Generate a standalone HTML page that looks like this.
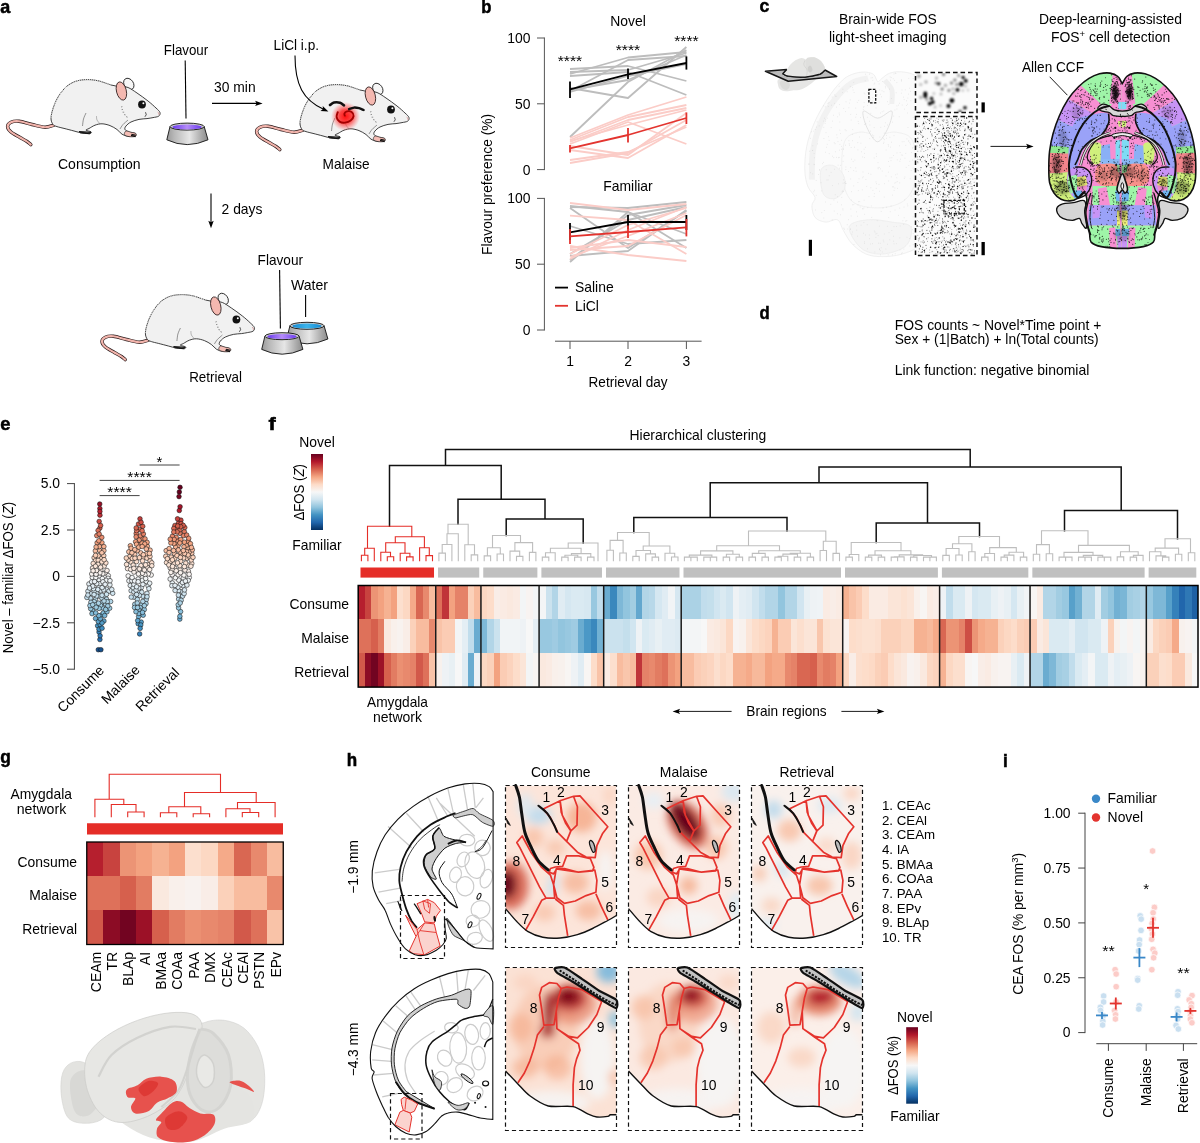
<!DOCTYPE html>
<html lang="en"><head><meta charset="utf-8"><title>Figure</title>
<style>
html,body{margin:0;padding:0;background:#fff;}
body{width:1200px;height:1143px;overflow:hidden;}
svg{display:block;}
svg text{font-family:"Liberation Sans", sans-serif;font-size:13.9px;fill:#000;}
</style></head><body>
<svg width="1200" height="1143" viewBox="0 0 1200 1143">
<rect width="1200" height="1143" fill="#fff"/>
<g id="A"><defs>
<g id="mouse">
<path d="M54.0,125.2 C52.5,125.5 48.7,127.3 45.0,127.2 C41.3,127.1 36.3,125.5 32.0,124.5 C27.7,123.5 22.5,121.7 19.0,121.3 C15.5,120.9 12.9,121.4 11.0,122.3 C9.1,123.2 7.6,124.9 7.6,126.5 C7.6,128.1 8.9,130.2 11.0,132.0 C13.1,133.8 17.3,135.9 20.0,137.5 C22.7,139.1 25.2,140.3 27.0,141.5 C28.8,142.7 30.2,144.1 30.8,144.6" stroke="#2a1a1a" stroke-width="3.4" fill="none" stroke-linecap="round"/>
<path d="M54.0,125.2 C52.5,125.5 48.7,127.3 45.0,127.2 C41.3,127.1 36.3,125.5 32.0,124.5 C27.7,123.5 22.5,121.7 19.0,121.3 C15.5,120.9 12.9,121.4 11.0,122.3 C9.1,123.2 7.6,124.9 7.6,126.5 C7.6,128.1 8.9,130.2 11.0,132.0 C13.1,133.8 17.3,135.9 20.0,137.5 C22.7,139.1 25.2,140.3 27.0,141.5 C28.8,142.7 30.2,144.1 30.8,144.6" stroke="#f2b4ac" stroke-width="2.1" fill="none" stroke-linecap="round"/>
<ellipse cx="128.8" cy="84" rx="4.6" ry="6.2" transform="rotate(-35 128.8 84)" fill="#f6f6f6" stroke="#111" stroke-width="0.8"/>
<path d="M53.0,124.5 C52.0,123.1 50.9,120.9 51.0,118.0 C51.1,115.1 52.2,110.8 53.5,107.0 C54.8,103.2 56.8,98.9 59.0,95.5 C61.2,92.1 63.7,88.9 66.5,86.5 C69.3,84.1 72.4,82.4 76.0,81.2 C79.6,80.0 84.0,79.6 88.0,79.6 C92.0,79.6 96.2,80.3 100.0,81.2 C103.8,82.1 107.7,84.1 111.0,85.0 C114.3,85.9 117.2,86.1 120.0,86.5 C122.8,86.9 125.2,86.4 128.0,87.5 C130.8,88.6 133.7,90.8 137.0,93.0 C140.3,95.2 144.8,98.5 148.0,101.0 C151.2,103.5 154.0,106.1 156.0,108.0 C158.0,109.9 159.6,111.2 160.0,112.6 C160.4,114.0 159.8,115.4 158.6,116.2 C157.4,117.0 154.9,117.2 153.0,117.6 C151.1,118.0 149.3,118.3 147.0,118.6 C144.7,118.9 141.7,118.8 139.0,119.4 C136.3,120.0 133.2,120.9 131.0,122.0 C128.8,123.1 127.0,124.8 126.0,126.0 C125.0,127.2 124.5,128.5 125.0,129.5 C125.5,130.5 127.3,131.3 129.0,132.0 C130.7,132.7 134.1,132.7 135.0,133.4 C135.9,134.1 135.7,135.5 134.5,136.0 C133.3,136.5 130.1,136.7 128.0,136.4 C125.9,136.1 123.8,135.3 122.0,134.2 C120.2,133.0 119.0,130.9 117.0,129.5 C115.0,128.1 112.5,126.5 110.0,125.6 C107.5,124.6 104.5,123.9 102.0,123.8 C99.5,123.7 97.2,124.4 95.0,125.2 C92.8,126.0 90.5,127.7 89.0,128.5 C87.5,129.3 85.7,129.6 86.0,130.2 C86.3,130.8 90.3,131.2 91.0,131.8 C91.7,132.4 91.5,133.4 90.0,133.6 C88.5,133.8 84.7,133.4 82.0,133.0 C79.3,132.6 77.0,131.8 74.0,131.0 C71.0,130.2 66.8,129.1 64.0,128.4 C61.2,127.7 58.8,127.2 57.0,126.6 C55.2,125.9 54.0,125.9 53.0,124.5Z" stroke="#111" stroke-width="0.8" fill="#f1f1f1" />
<path d="M51.0,118.0 C51.4,116.2 52.2,110.8 53.5,107.0 C54.8,103.2 56.8,98.9 59.0,95.5 C61.2,92.1 63.7,88.9 66.5,86.5 C69.3,84.1 72.4,82.4 76.0,81.2 C79.6,80.0 84.0,79.6 88.0,79.6 C92.0,79.6 96.2,80.3 100.0,81.2 C103.8,82.1 109.2,84.4 111.0,85.0" stroke="#f1f1f1" stroke-width="1.2" fill="none" stroke-dasharray="0.8 1.2"/>
<path d="M86.0,113.0 C85.6,114.0 84.1,116.8 83.5,119.0 C82.9,121.2 82.7,124.8 82.5,126.0" stroke="#333" stroke-width="0.5" fill="none" />
<path d="M128.0,120.0 C127.2,120.8 124.3,123.0 123.0,124.5 C121.7,126.0 120.5,128.2 120.0,129.0" stroke="#333" stroke-width="0.5" fill="none" />
<path d="M100.0,123.8 C99.5,123.2 97.6,121.3 97.0,120.0 C96.4,118.7 96.6,116.7 96.5,116.0" stroke="#555" stroke-width="0.4" fill="none" />
<path d="M126.0,131.0 C127.1,130.6 129.3,131.8 131.0,132.2 C132.7,132.6 135.3,132.9 136.0,133.6 C136.7,134.3 136.6,135.9 135.4,136.4 C134.2,136.9 130.8,136.9 129.0,136.6 C127.2,136.3 125.0,135.5 124.5,134.6 C124.0,133.7 124.9,131.4 126.0,131.0Z" stroke="#111" stroke-width="0.6" fill="#f4bcb4" />
<path d="M131.5,134.2 L136,135.2 M131,135.4 L135.6,136.6" stroke="#111" stroke-width="1.1" fill="none" />
<path d="M79,131.6 L91,132.4 M80,132.8 L90,133.8" stroke="#111" stroke-width="1.1" fill="none" />
<ellipse cx="121.4" cy="91" rx="4.9" ry="9.3" transform="rotate(-14 121.4 91)" fill="#f4b8b0" stroke="#2a1a1a" stroke-width="0.8"/>
<circle cx="142.00" cy="104.50" r="3.90" fill="#111" stroke="none" stroke-width="1" />
<circle cx="143.40" cy="103.30" r="1.00" fill="#fff" stroke="none" stroke-width="1" />
<path d="M145.5,112.2 q1.8,2.8 -0.6,4.6" stroke="#111" stroke-width="0.7" fill="none" />
<path d="M157.6,112.2 q1.9,0.8 1.4,2.6" stroke="#c88" stroke-width="0.8" fill="none" />
<path d="M121,107 l1.4,-0.4 M121.6,109.6 l1.4,-0.2 M122.6,112.2 l1.6,0 M124,114.6 l1.6,0.3 M126,116.6 l1.6,0.6" stroke="#333" stroke-width="0.5" fill="none" />
</g>
<g id="bowlp">
<linearGradient id="bowlpg" x1="0" x2="1" y1="0" y2="0"><stop offset="0" stop-color="#9a9a9a"/><stop offset="0.18" stop-color="#b8b8b8"/><stop offset="0.55" stop-color="#e6e6e6"/><stop offset="0.85" stop-color="#a8a8a8"/><stop offset="1" stop-color="#8a8a8a"/></linearGradient>
<linearGradient id="bowlpl" x1="0" x2="1" y1="0" y2="0"><stop offset="0" stop-color="#6a3af0"/><stop offset="0.5" stop-color="#b58cf8"/><stop offset="1" stop-color="#6a3af0"/></linearGradient>
<path d="M170,126.6 L166.8,139.8 Q187,149.4 208,139.8 L204.2,126.6 Z" stroke="#111" stroke-width="0.9" fill="url(#bowlpg)" />
<ellipse cx="187.1" cy="126.6" rx="17.1" ry="3.5" fill="#cfcfcf" stroke="#111" stroke-width="0.9"/>
<ellipse cx="187.1" cy="126.9" rx="14.6" ry="2.5" fill="url(#bowlpl)"/>
</g>
<g id="bowlb">
<linearGradient id="bowlbg" x1="0" x2="1" y1="0" y2="0"><stop offset="0" stop-color="#9a9a9a"/><stop offset="0.18" stop-color="#b8b8b8"/><stop offset="0.55" stop-color="#e6e6e6"/><stop offset="0.85" stop-color="#a8a8a8"/><stop offset="1" stop-color="#8a8a8a"/></linearGradient>
<linearGradient id="bowlbl" x1="0" x2="1" y1="0" y2="0"><stop offset="0" stop-color="#178bd4"/><stop offset="0.5" stop-color="#3cb4ea"/><stop offset="1" stop-color="#178bd4"/></linearGradient>
<path d="M170,126.6 L166.8,139.8 Q187,149.4 208,139.8 L204.2,126.6 Z" stroke="#111" stroke-width="0.9" fill="url(#bowlbg)" />
<ellipse cx="187.1" cy="126.6" rx="17.1" ry="3.5" fill="#cfcfcf" stroke="#111" stroke-width="0.9"/>
<ellipse cx="187.1" cy="126.9" rx="14.6" ry="2.5" fill="url(#bowlbl)"/>
</g>
<radialGradient id="glow"><stop offset="0" stop-color="#ff1010" stop-opacity="1"/><stop offset="0.45" stop-color="#ff2a2a" stop-opacity="0.85"/><stop offset="1" stop-color="#ff6060" stop-opacity="0"/></radialGradient>
</defs>
<text x="0.20" y="13.00" style="font-size:17.8px" font-weight="bold" stroke="#000" stroke-width="0.5" textLength="10.00" lengthAdjust="spacingAndGlyphs">a</text>
<use href="#mouse"/>
<use href="#bowlp"/>
<text x="163.80" y="54.60" textLength="44.40" lengthAdjust="spacingAndGlyphs">Flavour</text>
<line x1="185.20" y1="60.50" x2="186.00" y2="118.50" stroke="#000" stroke-width="1.1" />
<text x="58.00" y="169.00" textLength="82.60" lengthAdjust="spacingAndGlyphs">Consumption</text>
<text x="214.00" y="92.40" textLength="41.60" lengthAdjust="spacingAndGlyphs">30 min</text>
<line x1="212.00" y1="103.40" x2="258.00" y2="103.40" stroke="#000" stroke-width="1.1" />
<path d="M262.6,103.4 L255.1,100.7 L256.6,103.4 L255.1,106.1Z" fill="#000"/>
<use href="#mouse" transform="translate(249,5)"/>
<circle cx="345.50" cy="116.50" r="14.50" fill="url(#glow)" stroke="none" stroke-width="1" />
<path d="M338.0,111.5 C337.8,112.4 336.3,115.3 336.6,117.0 C336.9,118.7 338.2,120.7 339.6,121.6 C341.0,122.5 343.2,122.8 345.0,122.6 C346.8,122.4 349.2,121.7 350.6,120.6 C352.0,119.5 353.4,117.4 353.6,116.0 C353.8,114.6 352.7,112.8 351.6,112.0 C350.5,111.2 348.2,111.1 347.0,111.4 C345.8,111.7 344.7,112.8 344.4,113.6 C344.1,114.4 344.9,115.9 345.0,116.4" stroke="#a40000" stroke-width="1.9" fill="none" />
<path d="M330.0,105.0 C330.7,104.6 332.3,103.0 334.0,102.6 C335.7,102.2 338.3,102.3 340.0,102.8 C341.7,103.3 343.3,105.0 344.0,105.4" stroke="#111" stroke-width="2.6" fill="none" stroke-linecap="round"/>
<path d="M349.0,109.2 C349.8,108.9 352.3,107.8 354.0,107.6 C355.7,107.4 357.4,107.8 359.0,108.2 C360.6,108.6 362.8,109.7 363.6,110.0" stroke="#111" stroke-width="2.4" fill="none" stroke-linecap="round"/>
<text x="273.60" y="50.40" textLength="45.40" lengthAdjust="spacingAndGlyphs">LiCl i.p.</text>
<path d="M295,55.6 C295,85 303,100 324,109.6" stroke="#000" stroke-width="1.1" fill="none" />
<path d="M328.4,111.6 L322.7,106.0 L323.0,109.1 L320.5,110.9Z" fill="#000"/>
<text x="322.60" y="169.00" textLength="47.00" lengthAdjust="spacingAndGlyphs">Malaise</text>
<line x1="211.00" y1="193.60" x2="211.00" y2="223.00" stroke="#000" stroke-width="1.1" />
<path d="M211.0,228.2 L213.7,220.7 L211.0,222.2 L208.3,220.7Z" fill="#000"/>
<text x="221.60" y="214.00" textLength="40.80" lengthAdjust="spacingAndGlyphs">2 days</text>
<use href="#mouse" transform="translate(94.4,215)"/>
<use href="#bowlb" transform="translate(119.9,199.2)"/>
<use href="#bowlp" transform="translate(94.9,209.6)"/>
<text x="257.60" y="265.00" textLength="45.40" lengthAdjust="spacingAndGlyphs">Flavour</text>
<line x1="279.60" y1="270.00" x2="280.40" y2="328.50" stroke="#000" stroke-width="1.1" />
<text x="291.00" y="289.60" textLength="37.00" lengthAdjust="spacingAndGlyphs">Water</text>
<line x1="305.60" y1="295.00" x2="305.60" y2="317.00" stroke="#000" stroke-width="1.1" />
<text x="189.20" y="381.60" textLength="52.80" lengthAdjust="spacingAndGlyphs">Retrieval</text>
</g>
<g id="B"><text x="481.20" y="13.00" style="font-size:17.8px" font-weight="bold" stroke="#000" stroke-width="0.5" textLength="10.20" lengthAdjust="spacingAndGlyphs">b</text>
<text x="628.00" y="26.40" text-anchor="middle">Novel</text>
<text x="628.00" y="191.00" text-anchor="middle">Familiar</text>
<line x1="544.40" y1="37.50" x2="544.40" y2="170.10" stroke="#555" stroke-width="1" />
<line x1="537.00" y1="169.60" x2="544.40" y2="169.60" stroke="#555" stroke-width="1" />
<text x="530.50" y="174.60" text-anchor="end">0</text>
<line x1="537.00" y1="103.80" x2="544.40" y2="103.80" stroke="#555" stroke-width="1" />
<text x="530.50" y="108.80" text-anchor="end">50</text>
<line x1="537.00" y1="38.00" x2="544.40" y2="38.00" stroke="#555" stroke-width="1" />
<text x="530.50" y="43.00" text-anchor="end">100</text>
<line x1="544.40" y1="197.90" x2="544.40" y2="330.50" stroke="#555" stroke-width="1" />
<line x1="537.00" y1="330.00" x2="544.40" y2="330.00" stroke="#555" stroke-width="1" />
<text x="530.50" y="335.00" text-anchor="end">0</text>
<line x1="537.00" y1="264.20" x2="544.40" y2="264.20" stroke="#555" stroke-width="1" />
<text x="530.50" y="269.20" text-anchor="end">50</text>
<line x1="537.00" y1="198.40" x2="544.40" y2="198.40" stroke="#555" stroke-width="1" />
<text x="530.50" y="203.40" text-anchor="end">100</text>
<line x1="555.00" y1="341.20" x2="701.60" y2="341.20" stroke="#555" stroke-width="1" />
<line x1="570.00" y1="341.20" x2="570.00" y2="349.00" stroke="#555" stroke-width="1" />
<text x="570.00" y="366.00" text-anchor="middle">1</text>
<line x1="628.00" y1="341.20" x2="628.00" y2="349.00" stroke="#555" stroke-width="1" />
<text x="628.00" y="366.00" text-anchor="middle">2</text>
<line x1="686.40" y1="341.20" x2="686.40" y2="349.00" stroke="#555" stroke-width="1" />
<text x="686.40" y="366.00" text-anchor="middle">3</text>
<text x="588.60" y="387.00" textLength="79.00" lengthAdjust="spacingAndGlyphs">Retrieval day</text>
<text x="492.00" y="184.40" text-anchor="middle" transform="rotate(-90 492.00 184.40)" textLength="141.00" lengthAdjust="spacingAndGlyphs">Flavour preference (%)</text>
<path d="M570.0,69.0 L628.0,66.0 L686.4,81.0" stroke="#bdbdbd" stroke-width="1.8" fill="none" stroke-linejoin="round"/>
<path d="M570.0,72.0 L628.0,70.0 L686.4,53.0" stroke="#bdbdbd" stroke-width="1.8" fill="none" stroke-linejoin="round"/>
<path d="M570.0,74.0 L628.0,57.5 L686.4,52.0" stroke="#bdbdbd" stroke-width="1.8" fill="none" stroke-linejoin="round"/>
<path d="M570.0,76.0 L628.0,72.0 L686.4,95.0" stroke="#bdbdbd" stroke-width="1.8" fill="none" stroke-linejoin="round"/>
<path d="M570.0,88.0 L628.0,98.0 L686.4,47.0" stroke="#bdbdbd" stroke-width="1.8" fill="none" stroke-linejoin="round"/>
<path d="M570.0,137.0 L628.0,82.0 L686.4,50.0" stroke="#bdbdbd" stroke-width="1.8" fill="none" stroke-linejoin="round"/>
<path d="M570.0,90.0 L628.0,80.0 L686.4,55.0" stroke="#bdbdbd" stroke-width="1.8" fill="none" stroke-linejoin="round"/>
<path d="M570.0,91.0 L628.0,60.0 L686.4,56.0" stroke="#bdbdbd" stroke-width="1.8" fill="none" stroke-linejoin="round"/>
<path d="M570.0,92.0 L628.0,76.0 L686.4,64.0" stroke="#bdbdbd" stroke-width="1.8" fill="none" stroke-linejoin="round"/>
<path d="M570.0,138.0 L628.0,115.0 L686.4,97.0" stroke="#fbccc7" stroke-width="1.8" fill="none" stroke-linejoin="round"/>
<path d="M570.0,140.0 L628.0,117.0 L686.4,105.0" stroke="#fbccc7" stroke-width="1.8" fill="none" stroke-linejoin="round"/>
<path d="M570.0,142.0 L628.0,120.0 L686.4,108.0" stroke="#fbccc7" stroke-width="1.8" fill="none" stroke-linejoin="round"/>
<path d="M570.0,144.0 L628.0,122.0 L686.4,144.0" stroke="#fbccc7" stroke-width="1.8" fill="none" stroke-linejoin="round"/>
<path d="M570.0,146.0 L628.0,155.0 L686.4,113.0" stroke="#fbccc7" stroke-width="1.8" fill="none" stroke-linejoin="round"/>
<path d="M570.0,150.0 L628.0,158.0 L686.4,125.0" stroke="#fbccc7" stroke-width="1.8" fill="none" stroke-linejoin="round"/>
<path d="M570.0,160.0 L628.0,152.0 L686.4,127.0" stroke="#fbccc7" stroke-width="1.8" fill="none" stroke-linejoin="round"/>
<path d="M570.0,163.0 L628.0,153.0 L686.4,120.0" stroke="#fbccc7" stroke-width="1.8" fill="none" stroke-linejoin="round"/>
<path d="M570.0,141.0 L628.0,125.0 L686.4,110.0" stroke="#fbccc7" stroke-width="1.8" fill="none" stroke-linejoin="round"/>
<path d="M570.0,89.4 L628.0,74.4 L686.4,63.0" stroke="#000" stroke-width="1.8" fill="none" stroke-linejoin="round"/>
<line x1="570.00" y1="81.60" x2="570.00" y2="98.00" stroke="#000" stroke-width="1.8" />
<line x1="628.00" y1="68.40" x2="628.00" y2="79.00" stroke="#000" stroke-width="1.8" />
<line x1="686.40" y1="56.40" x2="686.40" y2="69.60" stroke="#000" stroke-width="1.8" />
<path d="M570.0,148.4 L628.0,135.0 L686.4,118.0" stroke="#e3342f" stroke-width="1.8" fill="none" stroke-linejoin="round"/>
<line x1="570.00" y1="145.00" x2="570.00" y2="152.40" stroke="#e3342f" stroke-width="1.8" />
<line x1="628.00" y1="128.00" x2="628.00" y2="142.40" stroke="#e3342f" stroke-width="1.8" />
<line x1="686.40" y1="112.40" x2="686.40" y2="124.00" stroke="#e3342f" stroke-width="1.8" />
<text x="570.00" y="66.00" text-anchor="middle" style="font-size:15px" textLength="24.50" lengthAdjust="spacingAndGlyphs">****</text>
<text x="628.00" y="55.00" text-anchor="middle" style="font-size:15px" textLength="24.50" lengthAdjust="spacingAndGlyphs">****</text>
<text x="686.40" y="45.60" text-anchor="middle" style="font-size:15px" textLength="24.50" lengthAdjust="spacingAndGlyphs">****</text>
<path d="M570.0,207.0 L628.0,208.0 L686.4,202.0" stroke="#bdbdbd" stroke-width="1.8" fill="none" stroke-linejoin="round"/>
<path d="M570.0,206.0 L628.0,212.0 L686.4,234.0" stroke="#bdbdbd" stroke-width="1.8" fill="none" stroke-linejoin="round"/>
<path d="M570.0,208.0 L628.0,248.0 L686.4,211.0" stroke="#bdbdbd" stroke-width="1.8" fill="none" stroke-linejoin="round"/>
<path d="M570.0,226.0 L628.0,244.0 L686.4,240.0" stroke="#bdbdbd" stroke-width="1.8" fill="none" stroke-linejoin="round"/>
<path d="M570.0,262.0 L628.0,212.0 L686.4,248.0" stroke="#bdbdbd" stroke-width="1.8" fill="none" stroke-linejoin="round"/>
<path d="M570.0,260.0 L628.0,215.0 L686.4,205.0" stroke="#bdbdbd" stroke-width="1.8" fill="none" stroke-linejoin="round"/>
<path d="M570.0,256.0 L628.0,251.0 L686.4,210.0" stroke="#bdbdbd" stroke-width="1.8" fill="none" stroke-linejoin="round"/>
<path d="M570.0,254.0 L628.0,220.0 L686.4,207.0" stroke="#bdbdbd" stroke-width="1.8" fill="none" stroke-linejoin="round"/>
<path d="M570.0,203.0 L628.0,210.0 L686.4,204.0" stroke="#fbccc7" stroke-width="1.8" fill="none" stroke-linejoin="round"/>
<path d="M570.0,215.6 L628.0,220.0 L686.4,254.0" stroke="#fbccc7" stroke-width="1.8" fill="none" stroke-linejoin="round"/>
<path d="M570.0,246.0 L628.0,255.0 L686.4,261.0" stroke="#fbccc7" stroke-width="1.8" fill="none" stroke-linejoin="round"/>
<path d="M570.0,259.0 L628.0,230.0 L686.4,207.0" stroke="#fbccc7" stroke-width="1.8" fill="none" stroke-linejoin="round"/>
<path d="M570.0,257.0 L628.0,236.0 L686.4,213.0" stroke="#fbccc7" stroke-width="1.8" fill="none" stroke-linejoin="round"/>
<path d="M570.0,254.0 L628.0,225.0 L686.4,208.0" stroke="#fbccc7" stroke-width="1.8" fill="none" stroke-linejoin="round"/>
<path d="M570.0,248.0 L628.0,240.0 L686.4,247.0" stroke="#fbccc7" stroke-width="1.8" fill="none" stroke-linejoin="round"/>
<path d="M570.0,250.0 L628.0,246.0 L686.4,215.0" stroke="#fbccc7" stroke-width="1.8" fill="none" stroke-linejoin="round"/>
<path d="M570.0,232.4 L628.0,222.0 L686.4,222.0" stroke="#000" stroke-width="1.8" fill="none" stroke-linejoin="round"/>
<line x1="570.00" y1="223.00" x2="570.00" y2="240.00" stroke="#000" stroke-width="1.8" />
<line x1="628.00" y1="215.00" x2="628.00" y2="229.00" stroke="#000" stroke-width="1.8" />
<line x1="686.40" y1="215.00" x2="686.40" y2="230.00" stroke="#000" stroke-width="1.8" />
<path d="M570.0,236.4 L628.0,232.0 L686.4,227.4" stroke="#e3342f" stroke-width="1.8" fill="none" stroke-linejoin="round"/>
<line x1="570.00" y1="229.00" x2="570.00" y2="244.00" stroke="#e3342f" stroke-width="1.8" />
<line x1="628.00" y1="225.60" x2="628.00" y2="238.00" stroke="#e3342f" stroke-width="1.8" />
<line x1="686.40" y1="219.00" x2="686.40" y2="236.40" stroke="#e3342f" stroke-width="1.8" />
<line x1="555.00" y1="287.60" x2="568.00" y2="287.60" stroke="#000" stroke-width="1.8" />
<text x="575.00" y="292.00">Saline</text>
<line x1="555.00" y1="305.80" x2="568.00" y2="305.80" stroke="#e3342f" stroke-width="1.8" />
<text x="575.00" y="311.00">LiCl</text>
</g>
<g id="C"><text x="759.60" y="11.90" style="font-size:17.8px" font-weight="bold" stroke="#000" stroke-width="0.5" textLength="9.80" lengthAdjust="spacingAndGlyphs">c</text>
<text x="839.00" y="23.60" textLength="97.80" lengthAdjust="spacingAndGlyphs">Brain-wide FOS</text>
<text x="829.00" y="42.00" textLength="117.60" lengthAdjust="spacingAndGlyphs">light-sheet imaging</text>
<text x="1039.00" y="23.60" textLength="143.00" lengthAdjust="spacingAndGlyphs">Deep-learning-assisted</text>
<text x="1050.90" y="42.00" textLength="119.30" lengthAdjust="spacingAndGlyphs">FOS<tspan dy="-5" style="font-size:9.5px">+</tspan><tspan dy="5"> cell detection</tspan></text>
<text x="1022.00" y="72.00" textLength="62.00" lengthAdjust="spacingAndGlyphs">Allen CCF</text>
<line x1="1049.70" y1="76.80" x2="1067.40" y2="95.20" stroke="#000" stroke-width="0.9" />
<line x1="990.50" y1="146.40" x2="1028.00" y2="146.40" stroke="#000" stroke-width="0.9" />
<path d="M1033.6,146.4 L1026.1,143.7 L1027.6,146.4 L1026.1,149.1Z" fill="#000"/>
<clipPath id="gbclip"><rect x="790" y="60" width="125.4" height="210"/></clipPath><g clip-path="url(#gbclip)"><path d="M877.6,81.5 C876.2,80.8 875.9,75.8 873.3,74.2 C870.8,72.6 866.5,71.8 862.2,72.1 C858.0,72.4 852.2,73.8 848.1,76.1 C843.9,78.3 841.1,81.4 837.4,85.5 C833.8,89.7 829.9,94.9 826.1,101.1 C822.2,107.4 817.5,115.3 814.3,122.9 C811.0,130.4 808.3,138.6 806.7,146.5 C805.1,154.4 804.6,163.4 804.8,170.1 C805.0,176.8 806.2,182.1 807.9,186.7 C809.6,191.2 814.3,194.2 815.0,197.3 C815.7,200.5 811.9,202.2 811.9,205.6 C811.9,208.9 812.7,214.6 815.0,217.4 C817.3,220.1 821.9,221.7 825.6,222.1 C829.4,222.5 834.5,218.4 837.4,219.8 C840.4,221.1 841.0,226.4 843.3,230.4 C845.7,234.3 847.9,239.4 851.6,243.4 C855.3,247.3 860.7,251.8 865.8,254.0 C870.9,256.2 876.4,256.6 882.3,256.6 C888.2,256.7 894.9,256.1 901.2,254.3 C907.5,252.4 914.6,250.3 920.1,245.7 C925.6,241.2 931.2,236.3 934.3,226.8 C937.5,217.4 938.2,207.2 939.0,189.0 C939.8,170.9 940.6,134.7 939.0,118.1 C937.5,101.6 933.5,96.9 929.6,89.8 C925.6,82.7 920.1,78.6 915.4,75.6 C910.7,72.6 905.6,72.2 901.2,71.8 C896.9,71.4 892.6,72.1 889.4,73.3 C886.2,74.4 883.8,77.1 881.9,78.4 C879.9,79.8 879.0,82.2 877.6,81.5Z" stroke="#ececec" stroke-width="0.8" fill="#fbfbfb" />
<path d="M844.5,141.8 C847.3,134.7 853.2,133.5 858.7,132.3 C864.2,131.1 871.3,134.7 877.6,134.7 C883.9,134.7 890.6,131.1 896.5,132.3 C902.4,133.5 909.9,133.9 913.0,141.8 C916.2,149.7 917.0,169.7 915.4,179.6 C913.8,189.4 909.9,196.1 903.6,200.9 C897.3,205.6 886.3,207.9 877.6,207.9 C868.9,207.9 857.5,206.4 851.6,200.9 C845.7,195.3 843.3,184.7 842.2,174.9 C841.0,165.0 841.8,148.9 844.5,141.8Z" stroke="#eeeeee" stroke-width="0.8" fill="#fbfbfb" />
<path d="M820.9,170.1 C822.5,165.4 829.0,164.6 832.7,165.4 C836.4,166.2 841.4,170.9 843.3,174.9 C845.3,178.8 845.9,185.1 844.5,189.0 C843.1,193.0 838.6,197.7 835.1,198.5 C831.5,199.3 825.6,198.5 823.3,193.8 C820.9,189.0 819.3,174.9 820.9,170.1Z" stroke="#ececec" stroke-width="0.8" fill="#f5f5f5" />
<path d="M863.4,111.1 C865.2,109.5 872.9,118.1 877.6,118.1 C882.3,118.1 890.0,109.5 891.8,111.1 C893.5,112.6 890.6,122.5 888.2,127.6 C885.9,132.7 881.1,141.8 877.6,141.8 C874.1,141.8 869.3,132.7 867.0,127.6 C864.6,122.5 861.6,112.6 863.4,111.1Z" stroke="#dcdcdc" stroke-width="0.8" fill="#fafafa" />
<path d="M849.2,226.8 C850.4,222.1 861.1,220.5 868.1,219.8 C875.2,219.0 884.7,220.9 891.8,222.1 C898.9,223.3 908.3,222.9 910.7,226.8 C913.0,230.8 910.7,241.2 906.0,245.7 C901.2,250.3 889.8,253.6 882.3,254.0 C874.8,254.4 866.6,252.6 861.1,248.1 C855.5,243.6 848.1,231.6 849.2,226.8Z" stroke="#ececec" stroke-width="0.8" fill="#f5f5f5" />
<path d="M868.1,78.4 C865.4,79.2 857.1,79.7 851.6,83.2 C846.1,86.6 840.2,92.6 835.1,99.2 C829.9,105.9 824.6,114.2 820.9,122.9 C817.2,131.5 814.4,141.8 812.9,151.2 C811.4,160.7 812.1,174.9 811.9,179.6" stroke="#f2f2f2" stroke-width="6" fill="none" />
<path d="M884.7,80.3 C885.9,81.9 890.6,85.9 891.8,89.8 C893.0,93.7 891.8,101.6 891.8,104.0" stroke="#f0f0f0" stroke-width="5" fill="none" />
<path d="M831.1,172.4h.01M845.7,183.4h.01M874.0,84.1h.01M833.5,115.3h.01M914.9,158.7h.01M897.3,159.9h.01M875.5,99.8h.01M875.0,232.1h.01M862.7,208.7h.01M879.1,83.9h.01M888.7,181.0h.01M900.5,159.2h.01M884.3,234.0h.01M883.8,241.8h.01M848.5,219.7h.01M854.0,244.5h.01M902.0,90.0h.01M911.6,152.5h.01M874.1,127.6h.01M860.9,143.2h.01M843.6,179.9h.01M869.4,238.7h.01M880.2,243.3h.01M879.1,102.1h.01M900.0,249.9h.01M904.9,177.0h.01M883.8,111.0h.01M896.8,177.8h.01M850.2,99.9h.01M837.3,213.8h.01M901.3,80.2h.01M872.8,80.4h.01M884.3,133.1h.01M902.2,252.8h.01M839.1,86.3h.01M871.1,77.9h.01M826.6,147.3h.01M872.3,100.9h.01M904.0,141.7h.01M855.7,167.9h.01M876.0,181.9h.01M866.7,186.4h.01M908.8,165.5h.01M852.5,204.8h.01M831.1,127.6h.01M913.0,168.1h.01M865.5,74.2h.01M850.7,179.0h.01M874.7,83.1h.01M874.2,158.0h.01M879.9,137.1h.01M883.0,208.1h.01M879.6,249.6h.01M832.6,156.2h.01M870.4,131.1h.01M845.1,129.7h.01M845.6,181.8h.01M838.0,141.6h.01M890.2,77.0h.01M867.8,207.6h.01M839.1,113.1h.01M893.7,116.1h.01M825.5,152.3h.01M882.0,90.8h.01M840.4,133.6h.01M897.0,152.9h.01M899.4,103.3h.01M842.1,191.9h.01M902.7,155.2h.01M863.4,107.2h.01M894.0,226.6h.01M825.1,123.4h.01M894.1,190.4h.01M894.0,135.7h.01M819.2,125.9h.01M892.6,122.1h.01M843.1,148.9h.01M851.2,147.5h.01M906.6,100.8h.01M907.4,113.0h.01M887.3,226.3h.01M878.1,167.7h.01M836.8,134.9h.01M869.9,125.0h.01M894.4,80.4h.01M904.7,199.9h.01M907.0,237.3h.01M904.3,178.4h.01M823.8,127.3h.01M878.1,168.8h.01M872.5,135.0h.01M857.6,216.3h.01M843.7,108.4h.01M863.9,222.6h.01M823.8,218.0h.01M906.8,220.6h.01M895.9,73.5h.01M874.3,231.0h.01M834.5,169.3h.01M851.6,159.2h.01M912.6,229.6h.01M814.3,164.6h.01M839.8,130.1h.01M843.7,191.3h.01M869.7,138.6h.01M826.0,132.7h.01M818.5,174.5h.01M884.0,142.2h.01M846.1,183.5h.01M891.4,142.2h.01M893.4,186.9h.01M852.5,140.7h.01M859.7,201.6h.01M851.3,200.0h.01M855.8,117.2h.01M864.1,200.2h.01M812.7,150.4h.01M851.9,234.2h.01M908.4,141.0h.01M904.1,217.8h.01M833.8,157.6h.01M878.1,235.6h.01M892.5,195.1h.01M886.0,176.0h.01M816.2,180.4h.01M890.4,80.2h.01M902.2,105.1h.01M879.3,226.2h.01M910.1,178.8h.01M893.2,78.8h.01M889.7,166.3h.01M883.9,91.7h.01M887.6,244.3h.01M811.6,131.8h.01M867.2,224.7h.01M831.6,105.2h.01M832.5,185.6h.01M888.2,144.6h.01M845.5,145.2h.01M843.6,149.2h.01M814.0,164.3h.01M912.4,148.2h.01M887.5,101.7h.01M881.2,211.4h.01M879.3,167.4h.01M858.3,190.6h.01M904.1,99.6h.01M815.4,210.0h.01M906.2,167.4h.01M853.8,204.6h.01M825.4,121.3h.01M826.8,180.0h.01M839.6,114.9h.01M881.2,247.8h.01M837.5,202.1h.01M850.5,229.4h.01M869.5,121.3h.01M857.8,142.6h.01M823.9,138.5h.01M840.4,214.8h.01M857.9,182.5h.01M856.6,225.9h.01M895.7,174.8h.01M858.0,204.9h.01M899.6,145.8h.01M885.9,249.1h.01M856.5,114.4h.01M830.8,204.3h.01M879.5,248.8h.01M899.2,116.7h.01M825.8,119.7h.01M825.5,202.0h.01M899.8,237.9h.01M839.5,150.1h.01M885.4,87.9h.01M837.1,137.8h.01M869.0,196.6h.01M853.1,161.6h.01M828.1,179.9h.01M910.5,144.1h.01M865.0,94.0h.01M835.2,194.7h.01M905.3,89.9h.01M908.9,141.0h.01M890.2,211.7h.01M837.5,196.6h.01M877.2,220.6h.01M834.2,211.1h.01M911.1,196.1h.01M864.1,93.0h.01M859.4,137.0h.01M884.2,197.1h.01M867.5,105.6h.01M876.2,188.3h.01M877.3,94.8h.01M907.9,98.1h.01M841.5,204.9h.01M870.9,174.3h.01M876.4,156.4h.01M839.4,104.6h.01M888.3,172.2h.01M886.6,138.3h.01M834.2,142.7h.01M901.3,79.8h.01M860.6,117.6h.01M889.9,137.3h.01M841.6,146.4h.01M864.7,214.3h.01M843.8,228.2h.01M817.2,121.9h.01M891.0,206.1h.01M825.3,106.9h.01M850.9,209.1h.01M895.0,210.1h.01M870.3,99.1h.01M848.9,107.8h.01M863.2,176.8h.01M827.2,118.2h.01M891.3,77.6h.01M893.6,236.3h.01M909.8,142.7h.01M865.9,179.5h.01M874.9,252.1h.01M880.8,127.3h.01M899.9,161.3h.01M871.3,206.0h.01M878.0,162.7h.01M862.7,157.0h.01M826.2,169.7h.01M808.9,164.3h.01M876.3,153.9h.01M867.4,248.8h.01M903.5,97.1h.01M892.4,186.9h.01M810.4,138.4h.01M864.4,243.4h.01M881.6,96.8h.01M899.7,182.9h.01M907.3,204.0h.01M886.6,135.4h.01M894.0,243.8h.01M900.1,152.6h.01M888.5,161.5h.01M822.6,163.7h.01M882.2,171.1h.01M851.5,191.7h.01M838.5,157.7h.01M888.5,146.1h.01M884.4,139.7h.01M845.8,169.6h.01M870.8,113.3h.01M891.4,98.5h.01M855.7,108.1h.01M828.0,103.5h.01M849.5,103.1h.01M823.4,162.4h.01M854.4,147.2h.01M882.6,81.5h.01M849.4,145.2h.01M857.3,102.4h.01M873.7,135.9h.01M885.3,122.8h.01M891.9,157.8h.01M908.0,127.5h.01M832.5,121.1h.01M894.9,188.0h.01M842.9,89.3h.01M880.3,250.7h.01M904.4,109.1h.01M912.5,160.0h.01M893.7,241.2h.01M908.8,78.4h.01M838.5,183.9h.01M909.5,88.2h.01M817.5,143.9h.01M841.8,197.4h.01M907.5,104.3h.01M886.6,207.3h.01M897.2,174.1h.01M906.9,138.9h.01M850.7,114.4h.01M891.0,160.7h.01M834.6,103.4h.01M884.5,183.7h.01M883.4,143.4h.01M858.7,100.4h.01M856.5,211.9h.01M879.7,90.0h.01M875.9,234.0h.01M901.3,155.0h.01M904.0,207.1h.01M841.7,140.3h.01M812.8,145.7h.01M910.5,91.4h.01M867.7,92.4h.01M813.8,191.7h.01M821.7,190.9h.01M869.6,74.2h.01M829.2,175.7h.01M851.2,216.0h.01M871.7,217.4h.01M864.0,106.7h.01M896.1,92.8h.01M814.3,157.8h.01M872.9,190.4h.01M889.0,232.7h.01M843.1,183.2h.01M854.1,92.5h.01M897.2,181.6h.01M894.9,110.0h.01M864.4,157.6h.01M885.3,86.3h.01M843.1,161.4h.01M812.7,173.9h.01M886.1,150.0h.01M876.5,183.7h.01M828.5,136.7h.01M914.9,133.9h.01M852.5,87.6h.01M828.9,102.5h.01M907.8,205.9h.01M901.6,253.9h.01M872.5,243.7h.01M864.1,149.2h.01M909.7,238.5h.01M909.8,161.3h.01M890.4,147.1h.01M915.1,241.7h.01M884.7,126.3h.01M862.3,189.9h.01M835.3,151.8h.01M842.9,208.8h.01M887.4,125.0h.01M816.3,127.2h.01M850.3,86.4h.01M821.8,212.6h.01M882.3,252.0h.01M913.2,233.6h.01M846.0,101.8h.01M839.3,157.4h.01M863.0,172.0h.01M844.6,229.2h.01M836.4,157.4h.01M902.9,220.8h.01M837.7,116.8h.01M894.0,73.9h.01M819.4,169.9h.01M864.1,102.6h.01M890.0,157.9h.01M913.1,216.9h.01M913.1,78.5h.01M852.6,134.4h.01M810.5,172.7h.01M815.2,129.5h.01M832.2,219.9h.01M851.1,120.1h.01M809.7,151.2h.01M874.2,196.5h.01M905.7,221.1h.01M832.2,97.1h.01M888.7,217.6h.01M861.1,225.2h.01M865.8,123.6h.01M875.9,237.4h.01M905.0,158.2h.01M878.4,243.2h.01M894.8,183.1h.01M850.7,167.6h.01M823.7,105.8h.01M880.4,254.9h.01M865.3,147.3h.01M843.7,155.9h.01M893.6,155.5h.01M910.9,100.7h.01M839.6,168.3h.01M850.4,228.9h.01M896.3,243.7h.01M872.6,77.7h.01M868.4,173.4h.01M858.7,123.6h.01M883.3,240.1h.01M816.2,195.3h.01M845.9,167.0h.01M903.9,249.1h.01M876.0,108.0h.01M906.6,105.5h.01M847.2,224.7h.01M839.8,122.0h.01M909.9,246.0h.01M839.9,144.4h.01M836.0,96.3h.01M863.0,209.0h.01M897.5,188.4h.01M895.3,73.1h.01M858.2,121.4h.01M865.2,80.8h.01M879.4,191.3h.01M888.8,104.5h.01M901.6,81.1h.01M911.1,170.6h.01M847.1,91.8h.01M835.9,96.3h.01M913.2,117.4h.01M858.5,201.7h.01M843.0,210.0h.01M891.3,176.9h.01M856.1,171.3h.01M853.7,170.6h.01M896.9,109.0h.01M870.5,244.0h.01M898.6,105.1h.01M911.4,226.9h.01M823.4,121.1h.01M913.0,147.5h.01M901.3,93.2h.01M892.6,254.8h.01M880.6,168.9h.01M889.5,89.1h.01M864.6,153.4h.01M821.0,182.7h.01M840.6,165.4h.01M846.1,130.7h.01M844.5,182.8h.01M913.2,244.6h.01M900.2,226.0h.01M834.7,94.8h.01M860.2,207.0h.01M842.5,191.0h.01M854.9,160.1h.01M863.6,233.3h.01M913.9,169.5h.01M853.7,185.9h.01M812.5,150.5h.01M898.5,215.4h.01M845.4,111.6h.01M865.5,235.0h.01M852.5,232.0h.01M883.5,138.7h.01M838.1,165.2h.01M848.9,140.7h.01M876.9,233.4h.01M869.4,99.0h.01M829.1,140.4h.01M872.8,97.8h.01M813.8,131.2h.01M864.4,241.9h.01M863.9,208.0h.01M896.4,226.5h.01M905.8,153.4h.01M880.3,94.3h.01M902.1,141.8h.01M857.4,236.2h.01M836.5,107.1h.01M895.9,182.4h.01M896.9,105.9h.01M835.1,143.7h.01M861.4,151.8h.01M874.3,193.7h.01M853.1,90.0h.01M913.1,199.5h.01M814.1,153.5h.01M888.2,254.9h.01M857.9,149.9h.01M903.7,224.4h.01M841.5,149.3h.01M869.3,235.0h.01M827.2,144.3h.01M814.6,190.3h.01M862.7,177.8h.01M856.7,230.1h.01M864.4,124.5h.01M913.4,194.0h.01M863.3,109.4h.01M819.5,170.0h.01M873.4,137.5h.01M889.8,239.8h.01M899.7,208.1h.01M852.7,129.6h.01M908.5,94.1h.01M905.8,145.3h.01M828.3,106.4h.01M809.0,164.0h.01M847.3,229.0h.01M896.9,82.6h.01M849.2,143.8h.01M824.5,118.3h.01M833.9,200.0h.01M842.4,92.6h.01M829.2,153.6h.01M867.3,117.3h.01M882.2,111.8h.01M879.0,184.4h.01M824.3,210.5h.01M848.4,171.5h.01M870.9,187.8h.01M853.7,82.4h.01M891.8,230.5h.01M859.0,178.8h.01M880.6,113.0h.01M895.2,253.8h.01" stroke="#c4c4c4" stroke-width="0.7" stroke-linecap="round" fill="none" opacity="0.5"/>
</g>
<path d="M778.8,79.2 C776.7,80.1 777.7,82.5 777.9,84.2 C778.1,85.8 778.7,88.0 780.0,89.2 C781.3,90.4 783.8,91.1 785.8,91.3 C787.9,91.5 790.3,90.6 792.5,90.4 C794.7,90.2 796.8,90.6 799.2,90.0 C801.5,89.4 804.3,88.1 806.7,86.7 C809.0,85.3 811.8,83.1 813.3,81.7 C814.9,80.3 817.2,79.2 815.8,78.3 C814.4,77.5 809.3,76.7 805.0,76.7 C800.7,76.7 794.4,77.9 790.0,78.3 C785.6,78.8 780.8,78.2 778.8,79.2Z" stroke="none" stroke-width="1" fill="#e2e2e0" opacity="0.85"/>
<path d="M780.0,81.7 C779.2,82.8 780.6,86.1 781.7,87.5 C782.8,88.9 785.3,90.4 786.7,90.0 C788.1,89.6 790.0,86.5 790.0,85.0 C790.0,83.5 788.3,81.4 786.7,80.8 C785.0,80.3 780.8,80.6 780.0,81.7Z" stroke="none" stroke-width="1" fill="#d6d6d4" opacity="0.7"/>
<path d="M765.4,71.2 L786.7,69.6 L782.9,73.8 L788.3,76.2 L805.0,77.1 L820.0,74.2 L825.0,70.0 L836.7,76.5 L788.3,81.2Z" stroke="#161616" stroke-width="1.5" fill="#bcbcbc" stroke-linejoin="round"/>
<path d="M786.7,70.0 C787.6,68.8 788.8,66.3 790.0,65.0 C791.2,63.7 794.3,60.9 795.8,60.0 C797.4,59.1 800.2,58.0 801.7,57.9 C803.1,57.9 805.6,59.6 806.7,59.6 C807.8,59.6 808.9,57.9 810.0,57.7 C811.1,57.4 813.6,57.1 815.0,57.5 C816.4,57.9 819.6,59.7 820.8,60.8 C822.1,61.9 823.6,64.6 824.2,65.8 C824.7,67.1 825.6,68.9 825.0,70.0 C824.4,71.1 822.7,73.2 820.0,74.2 C817.3,75.1 809.2,76.8 805.0,77.1 C800.8,77.4 791.2,76.7 788.3,76.2 C785.4,75.8 783.6,74.6 783.3,73.8 C783.1,72.9 785.8,71.2 786.7,70.0Z" stroke="none" stroke-width="1" fill="#e6e6e4" />
<path d="M805.8,60.0 C806.2,58.9 807.1,57.8 808.3,57.5 C809.6,57.2 813.3,57.0 815.0,57.5 C816.7,58.0 819.6,60.1 820.8,61.2 C822.1,62.4 823.6,65.1 824.2,66.2 C824.7,67.4 825.3,69.0 824.8,70.0 C824.4,71.0 822.4,73.0 820.8,73.8 C819.3,74.5 815.0,75.7 813.3,75.4 C811.7,75.1 809.3,72.9 808.3,71.7 C807.3,70.4 806.2,67.4 805.8,65.8 C805.5,64.3 805.5,61.1 805.8,60.0Z" stroke="none" stroke-width="1" fill="#dfdfdd" />
<path d="M805.0,60.4 C804.8,61.0 803.8,63.1 803.8,64.2 C803.8,65.2 804.4,65.7 805.0,66.7 C805.6,67.6 806.8,68.5 807.1,70.0 C807.4,71.5 806.7,74.9 806.7,75.8" stroke="#cfcfcd" stroke-width="0.7" fill="none" />
<path d="M808.3,66.7 C808.8,66.0 810.1,65.3 810.8,65.8 C811.5,66.4 812.6,68.9 812.5,70.0 C812.4,71.1 810.8,72.5 810.0,72.5 C809.2,72.5 808.2,71.0 807.9,70.0 C807.6,69.0 807.8,67.4 808.3,66.7Z" stroke="none" stroke-width="1" fill="#d0d0ce" />
<path d="M782.9,73.8 C783.6,74.1 785.4,75.8 788.3,76.2 C791.3,76.7 800.8,77.4 805.0,77.1 C809.2,76.8 817.3,75.1 820.0,74.2 C822.7,73.2 824.3,70.6 825.0,70.0" stroke="#161616" stroke-width="1.3" fill="none" />
<path d="M786.7,69.6 L782.9,73.8" stroke="#161616" stroke-width="1.3" fill="none" />
<rect x="915.40" y="72.80" width="61.40" height="39.40" fill="#fbfbfb" stroke="none" stroke-width="1" />
<filter id="bl1" x="-50%" y="-50%" width="200%" height="200%"><feGaussianBlur stdDeviation="0.9"/></filter>
<clipPath id="in1"><rect x="915.4" y="72.8" width="61.4" height="39.4"/></clipPath>
<g clip-path="url(#in1)" filter="url(#bl1)"><circle cx="925.30" cy="93.50" r="2.00" fill="#000" stroke="none" stroke-width="1" opacity="1"/>
<circle cx="925.30" cy="96.10" r="2.00" fill="#000" stroke="none" stroke-width="1" opacity="1"/>
<circle cx="931.60" cy="98.40" r="1.70" fill="#000" stroke="none" stroke-width="1" opacity="1"/>
<circle cx="929.80" cy="103.60" r="1.90" fill="#000" stroke="none" stroke-width="1" opacity="1"/>
<circle cx="932.80" cy="102.10" r="1.90" fill="#000" stroke="none" stroke-width="1" opacity="1"/>
<circle cx="951.90" cy="100.60" r="2.40" fill="#000" stroke="none" stroke-width="1" opacity="1"/>
<circle cx="948.50" cy="105.90" r="2.00" fill="#000" stroke="none" stroke-width="1" opacity="1"/>
<circle cx="965.00" cy="107.80" r="1.80" fill="#000" stroke="none" stroke-width="1" opacity="0.95"/>
<circle cx="961.30" cy="84.10" r="2.30" fill="#000" stroke="none" stroke-width="1" opacity="1"/>
<circle cx="965.80" cy="80.80" r="1.90" fill="#000" stroke="none" stroke-width="1" opacity="1"/>
<circle cx="963.10" cy="77.40" r="1.60" fill="#000" stroke="none" stroke-width="1" opacity="1"/>
<circle cx="957.50" cy="89.80" r="1.90" fill="#000" stroke="none" stroke-width="1" opacity="1"/>
<circle cx="938.80" cy="83.80" r="1.70" fill="#000" stroke="none" stroke-width="1" opacity="0.85"/>
<circle cx="954.90" cy="80.00" r="1.60" fill="#000" stroke="none" stroke-width="1" opacity="0.5"/>
<circle cx="951.50" cy="83.00" r="1.60" fill="#000" stroke="none" stroke-width="1" opacity="0.5"/>
<circle cx="956.80" cy="84.50" r="1.60" fill="#000" stroke="none" stroke-width="1" opacity="0.45"/>
<circle cx="945.50" cy="85.30" r="1.60" fill="#000" stroke="none" stroke-width="1" opacity="0.35"/>
<circle cx="942.10" cy="89.00" r="1.60" fill="#000" stroke="none" stroke-width="1" opacity="0.55"/>
<circle cx="948.90" cy="90.40" r="1.60" fill="#000" stroke="none" stroke-width="1" opacity="0.45"/>
<circle cx="926.00" cy="81.90" r="1.60" fill="#000" stroke="none" stroke-width="1" opacity="0.35"/>
<circle cx="918.90" cy="76.30" r="1.80" fill="#000" stroke="none" stroke-width="1" opacity="0.4"/>
<circle cx="920.80" cy="84.50" r="1.60" fill="#000" stroke="none" stroke-width="1" opacity="0.25"/>
<circle cx="920.80" cy="97.30" r="1.60" fill="#000" stroke="none" stroke-width="1" opacity="0.35"/>
<circle cx="936.50" cy="78.10" r="1.60" fill="#000" stroke="none" stroke-width="1" opacity="0.3"/>
<circle cx="943.60" cy="74.40" r="1.60" fill="#000" stroke="none" stroke-width="1" opacity="0.5"/>
<circle cx="958.60" cy="75.50" r="1.60" fill="#000" stroke="none" stroke-width="1" opacity="0.4"/>
<circle cx="933.90" cy="93.50" r="1.50" fill="#000" stroke="none" stroke-width="1" opacity="0.2"/>
<circle cx="941.00" cy="93.90" r="1.50" fill="#000" stroke="none" stroke-width="1" opacity="0.25"/>
<circle cx="953.80" cy="93.50" r="1.50" fill="#000" stroke="none" stroke-width="1" opacity="0.3"/>
<circle cx="935.00" cy="107.00" r="1.50" fill="#000" stroke="none" stroke-width="1" opacity="0.25"/>
<circle cx="940.60" cy="105.50" r="1.50" fill="#000" stroke="none" stroke-width="1" opacity="0.2"/>
<circle cx="960.10" cy="111.50" r="1.80" fill="#000" stroke="none" stroke-width="1" opacity="0.7"/>
<circle cx="926.80" cy="99.50" r="1.50" fill="#000" stroke="none" stroke-width="1" opacity="0.4"/>
<circle cx="962.80" cy="90.50" r="1.40" fill="#000" stroke="none" stroke-width="1" opacity="0.2"/>
<circle cx="968.00" cy="90.10" r="1.40" fill="#000" stroke="none" stroke-width="1" opacity="0.2"/>
<circle cx="965.40" cy="86.00" r="1.50" fill="#000" stroke="none" stroke-width="1" opacity="0.25"/>
<circle cx="953.00" cy="89.00" r="1.40" fill="#000" stroke="none" stroke-width="1" opacity="0.3"/>
<circle cx="936.00" cy="83.00" r="1.50" fill="#000" stroke="none" stroke-width="1" opacity="0.4"/>
</g>
<rect x="915.50" y="72.50" width="61.50" height="40.00" fill="none" stroke="#111" stroke-width="1.5" stroke-dasharray="4.6 2.9"/>
<rect x="915.40" y="116.30" width="61.40" height="138.90" fill="#fbfbfb" stroke="none" stroke-width="1" />
<path d="M944.2,187.1h.01M946.9,203.7h.01M920.5,143.9h.01M954.5,186.0h.01M966.2,214.3h.01M944.5,251.3h.01M953.8,223.9h.01M923.9,151.5h.01M963.6,142.2h.01M923.8,175.2h.01M936.2,158.3h.01M951.1,151.0h.01M968.6,200.1h.01M932.0,230.0h.01M927.3,216.0h.01M949.7,233.9h.01M970.7,145.7h.01M943.1,126.2h.01M951.2,137.1h.01M967.5,195.9h.01M939.7,218.0h.01M970.8,152.8h.01M955.6,178.1h.01M933.2,141.0h.01M935.1,225.6h.01M943.6,121.4h.01M973.1,211.1h.01M947.4,201.6h.01M920.7,226.8h.01M945.8,247.1h.01M947.6,232.7h.01M932.7,182.3h.01M964.7,240.5h.01M924.6,224.0h.01M930.3,211.4h.01M953.3,132.3h.01M964.4,240.8h.01M941.7,225.4h.01M961.4,186.4h.01M947.1,195.3h.01M944.0,222.0h.01M947.1,176.5h.01M958.0,232.8h.01M960.3,173.1h.01M958.2,235.1h.01M961.8,173.2h.01M937.0,181.8h.01M932.0,172.6h.01M919.6,244.5h.01M949.8,156.6h.01M917.8,151.3h.01M943.6,153.6h.01M972.7,217.9h.01M969.2,224.7h.01M954.0,220.5h.01M919.3,126.3h.01M953.5,131.9h.01M953.9,168.8h.01M953.5,222.6h.01M970.9,176.2h.01M957.6,156.5h.01M942.6,227.2h.01M931.5,167.2h.01M969.6,129.5h.01M960.6,206.3h.01M961.8,188.9h.01M936.8,249.7h.01M963.9,175.3h.01M960.4,252.8h.01M962.4,142.4h.01M951.2,241.7h.01M951.8,148.5h.01M930.9,119.5h.01M963.6,215.0h.01M929.2,191.9h.01M965.7,160.4h.01M938.0,211.4h.01M930.9,194.7h.01M934.0,169.1h.01M936.7,171.3h.01M951.7,130.3h.01M965.0,170.5h.01M952.6,120.5h.01M963.1,230.2h.01M961.8,240.8h.01M947.2,215.3h.01M972.3,203.3h.01M936.3,244.4h.01M948.8,194.3h.01M952.2,134.7h.01M927.9,192.5h.01M966.0,234.3h.01M942.3,241.0h.01M961.0,159.4h.01M931.0,159.7h.01M972.6,118.1h.01M974.2,182.3h.01M928.2,237.7h.01M943.0,128.7h.01M958.6,144.7h.01M968.7,198.2h.01M948.1,124.2h.01M931.7,227.2h.01M939.5,244.4h.01M957.0,188.8h.01M962.6,140.5h.01M950.5,236.7h.01M918.0,185.5h.01M950.3,191.9h.01M925.6,160.3h.01M922.2,229.6h.01M963.0,126.3h.01M929.7,250.0h.01M961.5,252.1h.01M925.3,171.4h.01M961.7,217.8h.01M944.1,171.4h.01M962.7,147.3h.01M949.1,140.3h.01M956.7,235.3h.01M921.3,212.0h.01M918.1,142.8h.01M971.0,215.3h.01M959.3,241.4h.01M936.0,222.8h.01M940.0,150.4h.01M951.8,122.3h.01M948.8,136.5h.01M959.4,208.6h.01M933.4,214.9h.01M967.7,148.7h.01M950.1,228.0h.01M956.0,247.9h.01M954.0,130.2h.01M920.5,170.1h.01M933.4,139.6h.01M926.8,208.5h.01M958.0,193.2h.01M939.9,167.5h.01M944.4,162.3h.01M937.3,239.3h.01M962.1,203.3h.01M939.3,241.7h.01M930.7,118.1h.01M957.2,249.1h.01M953.4,184.7h.01M933.7,219.9h.01M924.4,126.6h.01M963.6,171.3h.01M966.3,230.7h.01M975.1,134.3h.01M948.7,183.7h.01M963.8,232.1h.01M953.1,222.1h.01M957.6,192.2h.01M931.7,184.4h.01M933.0,148.9h.01M935.1,128.7h.01M945.3,174.4h.01M959.4,141.9h.01M935.1,187.9h.01M964.4,167.6h.01M933.3,241.1h.01M949.0,210.5h.01M925.4,165.6h.01M942.2,248.9h.01M972.4,161.8h.01M943.5,208.5h.01M951.8,244.7h.01M924.4,252.6h.01M963.6,138.6h.01M965.8,134.0h.01M942.2,120.1h.01M957.5,218.1h.01M940.9,137.9h.01M952.2,179.0h.01M966.7,198.3h.01M969.4,130.0h.01M944.4,167.2h.01M929.8,252.6h.01M959.8,223.5h.01M948.2,133.1h.01M946.7,134.9h.01M931.4,174.3h.01M973.4,174.2h.01M964.9,217.9h.01M948.1,121.9h.01M919.7,174.6h.01M923.5,243.0h.01M946.3,240.9h.01M960.3,153.1h.01M944.9,166.8h.01M949.0,172.4h.01M938.8,160.8h.01M960.8,184.3h.01M920.1,130.6h.01M940.5,156.9h.01M974.6,231.1h.01M964.9,225.2h.01M942.8,220.2h.01M956.0,192.5h.01M924.2,236.8h.01M928.8,165.1h.01M966.3,166.7h.01M949.7,250.7h.01M945.5,149.5h.01M950.2,193.0h.01M922.7,224.6h.01M938.3,247.3h.01M967.2,216.9h.01M918.2,191.1h.01M931.8,135.9h.01M955.6,243.0h.01M972.2,186.8h.01M955.4,127.8h.01M950.1,134.3h.01M968.0,126.4h.01M941.4,184.1h.01M949.6,250.3h.01M974.1,231.3h.01M932.3,197.6h.01M927.3,138.4h.01M927.8,149.6h.01M921.6,221.8h.01M941.2,252.6h.01M970.3,252.7h.01M944.8,229.3h.01M943.5,168.6h.01M971.9,127.7h.01M919.9,159.7h.01M947.8,246.8h.01M971.1,186.5h.01M943.9,200.0h.01M918.4,221.7h.01M946.2,206.8h.01M917.9,159.4h.01M951.0,174.7h.01M947.1,169.5h.01M944.0,130.2h.01M954.5,249.9h.01M946.4,164.6h.01M958.6,228.1h.01M961.3,252.0h.01M954.4,184.9h.01M957.6,188.2h.01M953.2,248.9h.01M933.3,189.1h.01M931.6,145.1h.01M936.2,127.5h.01M947.8,247.1h.01M947.9,143.8h.01M958.3,180.1h.01M944.8,247.8h.01M953.0,124.3h.01M920.2,182.4h.01M966.8,184.2h.01M974.5,134.3h.01M967.6,187.2h.01M958.4,179.0h.01M943.5,160.9h.01M934.8,223.1h.01M937.0,214.8h.01M961.8,153.3h.01M961.6,219.5h.01M955.8,157.3h.01M937.6,221.2h.01M957.5,211.9h.01M933.0,166.7h.01M938.9,207.4h.01M968.0,245.0h.01M936.7,237.5h.01M950.3,200.9h.01M970.5,210.1h.01M948.8,197.3h.01M957.7,161.8h.01M949.8,166.4h.01M934.1,153.5h.01M969.2,148.5h.01M936.7,196.6h.01M929.9,207.3h.01M949.7,131.8h.01M964.6,216.5h.01M919.0,226.5h.01M971.7,123.9h.01M965.2,152.3h.01M946.0,249.7h.01M970.7,209.7h.01M939.4,215.6h.01M945.8,170.2h.01M918.6,251.7h.01M921.6,235.6h.01M925.6,140.1h.01M968.3,169.8h.01M919.2,133.3h.01M933.4,161.9h.01M936.9,118.1h.01M954.3,126.9h.01M941.6,161.2h.01M960.4,181.0h.01M926.5,122.8h.01M920.4,131.4h.01M938.8,133.4h.01M930.4,122.1h.01M954.0,181.7h.01M956.9,252.7h.01M943.7,186.8h.01M970.9,183.8h.01M937.9,253.9h.01M921.6,210.2h.01M941.8,199.9h.01M960.8,126.8h.01M944.5,240.5h.01M919.6,200.1h.01M963.5,123.5h.01M949.0,247.2h.01M959.6,181.0h.01M939.6,205.4h.01M934.7,169.5h.01M954.3,239.3h.01M937.6,182.4h.01M941.8,155.8h.01M954.4,227.1h.01M935.7,122.7h.01M922.3,193.8h.01M965.3,130.6h.01M926.4,248.4h.01M964.9,245.5h.01M970.2,182.4h.01M962.4,177.4h.01M936.1,195.1h.01M939.6,166.9h.01M941.9,246.2h.01M935.5,168.1h.01M951.5,232.1h.01M960.1,159.2h.01M928.7,227.4h.01M942.9,232.1h.01M969.5,235.7h.01M951.8,229.5h.01M959.8,164.3h.01M940.4,194.8h.01M956.5,163.7h.01M932.8,125.0h.01M923.7,122.0h.01M952.0,241.5h.01M935.0,238.1h.01M959.9,237.5h.01M919.0,183.2h.01M968.8,245.1h.01M933.0,209.4h.01M965.5,149.1h.01M935.3,120.6h.01M959.8,232.3h.01M955.7,162.1h.01M966.6,229.7h.01M959.8,231.7h.01M964.0,180.9h.01M956.8,192.6h.01M940.3,151.3h.01M959.8,201.5h.01M967.5,201.3h.01M944.0,240.0h.01M940.1,155.4h.01M928.4,190.2h.01M934.6,239.8h.01M947.7,154.2h.01M932.7,251.4h.01M956.1,153.3h.01M964.9,185.5h.01M936.3,222.9h.01M937.4,222.9h.01M974.4,198.1h.01M972.9,158.3h.01M925.6,121.9h.01M970.6,243.6h.01M938.6,241.8h.01M919.5,237.7h.01M955.5,131.1h.01M958.8,246.9h.01M922.2,212.4h.01M929.2,118.6h.01M964.0,200.4h.01M954.6,226.9h.01M934.8,137.6h.01M964.1,147.4h.01M971.0,154.9h.01M956.6,247.5h.01M950.3,126.9h.01M950.3,173.5h.01M920.7,134.3h.01M967.7,193.3h.01M972.2,198.4h.01M949.7,173.6h.01M960.7,156.1h.01M951.1,153.0h.01M925.3,220.7h.01M953.4,197.2h.01M959.1,148.6h.01M949.3,150.1h.01M922.0,149.0h.01M928.3,128.8h.01M954.6,199.6h.01M953.3,170.3h.01M949.1,208.7h.01M945.1,140.6h.01M970.1,179.0h.01M933.8,139.7h.01M944.7,226.2h.01M974.1,192.3h.01M958.7,177.4h.01M922.4,252.3h.01M964.9,155.5h.01M946.0,232.7h.01M917.7,125.3h.01M951.6,241.8h.01M933.0,197.9h.01M943.6,187.3h.01M954.8,132.0h.01M943.5,222.5h.01M957.2,161.1h.01M939.9,223.1h.01M946.9,138.0h.01M940.6,151.7h.01M923.1,184.9h.01M926.1,203.6h.01M955.8,124.2h.01M952.3,189.4h.01M957.4,193.1h.01M952.5,176.4h.01M957.8,238.5h.01M943.2,178.7h.01M938.3,119.4h.01M973.9,225.6h.01M956.4,230.0h.01M946.5,130.9h.01M964.8,157.3h.01M959.3,195.3h.01M956.7,124.3h.01M967.0,193.0h.01M944.3,165.9h.01M957.0,142.3h.01M939.5,169.5h.01M917.4,220.6h.01M945.4,232.5h.01M956.0,150.0h.01M972.9,179.1h.01M956.2,245.9h.01M922.4,124.8h.01M927.7,157.0h.01M947.7,221.1h.01M959.6,128.8h.01M939.8,230.5h.01M942.9,210.3h.01M923.6,221.8h.01M962.7,188.8h.01M948.6,210.7h.01M952.7,173.6h.01M955.3,146.3h.01M939.7,171.8h.01M967.4,186.9h.01M955.6,244.4h.01M946.9,174.0h.01M927.6,187.1h.01M932.6,143.3h.01M973.8,241.6h.01M946.4,250.8h.01M961.4,140.9h.01M961.1,231.7h.01M929.0,120.0h.01M934.8,148.3h.01M938.5,197.6h.01M952.5,153.1h.01M938.0,154.2h.01M948.1,164.3h.01M923.5,236.6h.01M943.5,249.7h.01M954.9,121.3h.01M956.7,128.7h.01M962.8,204.3h.01M925.4,129.1h.01M953.3,144.8h.01M948.5,146.9h.01M958.1,125.1h.01M922.6,242.1h.01M953.0,203.1h.01M917.3,170.1h.01M920.9,151.1h.01M962.5,165.9h.01M935.2,215.1h.01M960.3,248.1h.01M972.7,138.3h.01M963.2,194.7h.01M922.3,130.3h.01M930.1,213.0h.01M955.3,244.1h.01M929.2,218.3h.01M921.9,179.8h.01M936.8,144.9h.01M957.2,238.7h.01M965.8,235.0h.01M936.7,176.3h.01M924.5,236.8h.01M927.2,233.4h.01M973.5,204.4h.01M963.5,218.7h.01M927.2,165.5h.01M964.8,183.2h.01M962.2,157.9h.01M962.7,215.0h.01M928.4,173.5h.01M960.1,130.4h.01M923.2,240.6h.01M954.1,176.5h.01M941.0,241.3h.01M963.5,160.9h.01M958.8,164.7h.01M937.0,130.3h.01M917.0,146.0h.01M939.8,155.4h.01M960.4,146.1h.01M947.4,122.4h.01M937.2,182.6h.01M971.4,195.8h.01M917.7,161.5h.01M966.9,231.1h.01M953.4,139.7h.01M949.2,242.5h.01M972.6,161.7h.01M963.9,122.9h.01M964.8,121.2h.01M955.6,127.6h.01M943.9,193.5h.01M947.4,230.5h.01M942.1,210.5h.01M962.8,234.8h.01M938.8,129.4h.01M945.1,251.0h.01M927.5,210.4h.01M960.4,202.0h.01M954.9,198.4h.01M938.7,220.0h.01M952.7,187.5h.01M963.8,191.9h.01M956.6,167.0h.01M956.0,130.9h.01M954.9,140.7h.01M954.5,205.9h.01M959.2,214.0h.01M954.4,133.3h.01M956.8,149.9h.01M938.6,123.2h.01M947.9,169.9h.01M950.6,218.6h.01M972.2,134.0h.01M934.7,192.4h.01M967.0,245.8h.01M956.0,168.9h.01M955.5,155.8h.01M951.3,170.1h.01M960.3,166.1h.01M917.9,162.9h.01M968.5,192.8h.01M954.4,127.7h.01M952.0,156.5h.01M949.9,190.7h.01M932.8,178.5h.01M938.4,121.7h.01M957.3,153.8h.01M947.3,207.5h.01M960.1,250.1h.01M955.2,122.1h.01M967.2,190.9h.01M940.9,138.7h.01M965.3,142.2h.01M957.0,135.8h.01M952.3,219.6h.01M949.2,159.2h.01M962.9,157.7h.01M919.3,147.2h.01M922.6,230.9h.01M952.7,166.4h.01M943.4,228.6h.01M958.5,182.4h.01M957.7,186.2h.01M917.8,235.4h.01M957.9,196.0h.01M953.6,148.6h.01M949.3,181.6h.01M938.0,230.9h.01M956.8,133.9h.01M942.5,124.5h.01M926.7,146.7h.01M924.8,160.6h.01M921.8,161.7h.01M938.9,167.8h.01M930.6,179.1h.01M947.5,212.0h.01M943.4,229.1h.01M965.3,124.4h.01M968.7,186.8h.01M922.0,135.4h.01M925.8,233.7h.01M962.9,142.6h.01M945.4,244.2h.01M942.5,120.8h.01M943.1,186.1h.01M923.2,202.3h.01M933.4,208.5h.01M965.8,204.9h.01M917.8,162.1h.01M954.3,234.4h.01M941.5,140.2h.01M957.1,132.3h.01M922.2,189.0h.01M959.0,187.2h.01M919.7,194.6h.01M935.9,253.6h.01M936.3,158.8h.01M957.5,165.9h.01M974.7,214.2h.01M918.7,240.8h.01M963.4,191.9h.01M975.0,178.6h.01M926.4,167.3h.01M928.5,212.8h.01M946.3,160.9h.01M964.0,222.2h.01M967.8,136.5h.01M957.5,166.7h.01M932.6,242.2h.01M959.1,171.1h.01M953.6,162.9h.01M965.1,166.4h.01M924.9,249.7h.01M925.8,150.5h.01M948.8,153.1h.01M921.0,241.9h.01M920.9,157.9h.01M941.5,132.7h.01M951.7,144.9h.01M933.6,227.3h.01M945.0,217.2h.01M918.5,170.7h.01M943.0,158.1h.01M967.0,172.5h.01M946.2,223.9h.01M952.8,251.0h.01M948.2,191.3h.01M971.9,150.1h.01M918.5,134.2h.01M951.6,128.5h.01M944.5,251.0h.01M951.0,207.7h.01M949.8,209.0h.01M974.7,169.7h.01M941.3,146.0h.01M951.6,170.9h.01M964.6,124.0h.01M944.8,177.9h.01M931.3,118.0h.01M942.8,236.8h.01M932.5,135.8h.01M954.9,149.6h.01M936.4,141.7h.01M965.1,223.0h.01M937.0,241.5h.01M967.8,126.3h.01M934.0,140.9h.01M917.6,156.9h.01M971.3,222.8h.01M949.8,193.0h.01M931.9,251.8h.01M954.5,215.2h.01M963.5,236.4h.01M975.2,203.4h.01M950.5,189.6h.01M954.9,139.8h.01M973.4,246.4h.01M953.5,162.2h.01M929.1,217.8h.01M921.2,220.7h.01M934.4,204.9h.01M963.2,241.7h.01M969.7,167.6h.01M937.4,191.3h.01M940.4,191.5h.01M935.2,242.0h.01M919.7,181.5h.01M918.9,200.0h.01M959.0,146.2h.01M935.8,159.3h.01M970.7,181.5h.01M931.7,191.9h.01M955.6,152.7h.01M935.6,188.1h.01M952.3,138.9h.01M944.3,221.4h.01M949.1,252.4h.01M936.8,177.8h.01M952.6,125.5h.01M960.9,143.4h.01M960.6,225.2h.01M927.4,241.4h.01M942.5,129.3h.01M924.7,118.5h.01M946.0,197.2h.01M922.0,230.7h.01M938.1,163.1h.01M961.3,249.5h.01M945.4,222.3h.01M932.4,175.4h.01" stroke="#000" stroke-width="0.7" stroke-linecap="round" fill="none" opacity="0.55"/>
<path d="M944.1,177.9h.01M928.2,217.5h.01M943.5,248.4h.01M964.8,151.9h.01M919.3,248.9h.01M963.4,242.4h.01M969.7,236.5h.01M951.1,200.8h.01M930.5,213.0h.01M956.0,145.0h.01M970.5,237.7h.01M935.5,136.5h.01M943.1,203.7h.01M927.5,119.5h.01M927.5,155.0h.01M959.3,135.7h.01M963.6,246.4h.01M974.4,250.9h.01M937.4,129.3h.01M961.9,184.3h.01M963.1,137.1h.01M947.8,157.5h.01M947.7,195.9h.01M947.2,172.5h.01M945.7,212.0h.01M946.9,152.1h.01M942.6,169.1h.01M954.4,190.0h.01M968.9,136.2h.01M957.1,120.4h.01M970.3,249.7h.01M921.1,132.4h.01M947.0,120.1h.01M952.1,186.6h.01M956.0,163.9h.01M949.2,187.1h.01M920.4,246.6h.01M952.0,167.7h.01M964.8,200.1h.01M943.7,145.7h.01M932.9,211.2h.01M932.1,228.1h.01M974.9,162.3h.01M968.2,128.7h.01M945.4,211.2h.01M959.5,167.8h.01M940.1,170.7h.01M933.5,121.0h.01M950.2,249.4h.01M973.0,205.1h.01M920.5,159.9h.01M927.8,147.6h.01M927.1,221.0h.01M963.9,170.4h.01M932.6,190.7h.01M965.1,129.2h.01M951.3,234.6h.01M941.4,242.7h.01M944.0,249.5h.01M975.0,226.7h.01M949.9,216.4h.01M922.4,137.2h.01M958.4,142.5h.01M942.0,187.6h.01M955.1,132.5h.01M969.5,150.8h.01M955.5,159.8h.01M927.2,188.7h.01M936.4,205.3h.01M944.5,174.0h.01M950.1,241.1h.01M959.4,240.4h.01M940.2,125.1h.01M955.9,235.8h.01M922.8,225.8h.01M964.7,172.0h.01M971.0,240.0h.01M955.9,225.5h.01M971.2,208.7h.01M922.3,251.7h.01M961.2,151.4h.01M949.5,205.7h.01M962.8,188.3h.01M942.8,223.1h.01M930.8,184.5h.01M946.2,122.8h.01M953.3,189.5h.01M952.7,123.4h.01M926.0,245.4h.01M929.6,123.5h.01M956.2,243.0h.01M937.0,175.4h.01M956.1,143.3h.01M925.8,144.2h.01M949.1,202.9h.01M931.6,162.2h.01M958.2,133.3h.01M958.9,162.5h.01M958.4,202.7h.01M930.5,143.1h.01M972.0,250.0h.01M923.9,123.8h.01M918.1,195.0h.01M923.9,128.2h.01M973.1,119.5h.01M963.3,218.0h.01M922.9,247.3h.01M931.7,241.7h.01M930.3,170.8h.01M936.6,218.9h.01M946.4,172.9h.01M958.3,142.2h.01M939.1,205.6h.01M968.9,234.5h.01M950.2,133.5h.01M930.5,199.7h.01M918.9,203.3h.01M975.1,218.4h.01M931.7,227.8h.01M967.6,144.7h.01M921.2,252.3h.01M968.3,217.0h.01M953.8,155.9h.01M965.0,173.6h.01M943.6,245.0h.01M931.7,175.2h.01M974.1,253.0h.01M920.9,180.9h.01M953.4,218.9h.01M969.4,121.3h.01M922.2,187.7h.01M955.3,238.6h.01M919.9,231.6h.01M938.6,159.0h.01M935.4,185.7h.01M961.7,124.5h.01M961.0,196.9h.01M942.6,134.0h.01M929.4,174.4h.01M945.9,211.8h.01M923.2,219.0h.01M951.6,188.7h.01M950.6,153.0h.01M939.1,215.4h.01M934.9,233.3h.01M948.3,200.9h.01M951.1,240.3h.01M952.6,192.0h.01M920.2,245.4h.01M930.7,179.6h.01M957.1,234.3h.01M921.5,189.7h.01M937.7,185.9h.01M973.0,121.3h.01M957.3,188.7h.01M964.3,118.1h.01M962.8,163.3h.01M959.5,209.7h.01M963.2,224.4h.01M939.2,157.0h.01M947.8,191.5h.01M929.4,120.7h.01M953.2,168.2h.01M966.9,237.9h.01M974.6,157.3h.01M922.0,226.8h.01M945.7,183.6h.01M918.3,187.6h.01M952.7,241.9h.01M968.0,160.2h.01M959.5,126.0h.01M967.5,190.8h.01M925.8,193.0h.01M959.5,161.4h.01M942.6,135.4h.01M960.5,172.8h.01M974.1,224.9h.01M955.4,209.0h.01M966.0,171.2h.01M925.0,224.2h.01M972.6,155.3h.01M925.5,200.4h.01M960.2,154.0h.01M937.0,177.8h.01M930.3,167.5h.01M919.8,212.6h.01M920.7,131.9h.01M951.6,154.5h.01M961.1,202.7h.01M946.3,174.2h.01M944.4,189.9h.01M965.9,211.0h.01M917.8,138.2h.01M942.5,221.7h.01M956.4,147.5h.01M973.0,161.7h.01M958.0,251.2h.01M927.6,186.0h.01M950.1,150.5h.01M944.4,232.8h.01M961.5,216.2h.01M939.0,138.3h.01M939.7,182.5h.01M919.4,156.7h.01M960.3,235.8h.01M973.2,137.5h.01M924.7,224.2h.01M928.1,233.5h.01M962.8,249.5h.01M948.1,135.4h.01M937.1,134.4h.01M956.6,250.6h.01M932.4,199.8h.01M949.3,161.2h.01M961.4,163.8h.01M926.9,230.4h.01M952.4,135.5h.01M938.9,173.8h.01M952.3,120.1h.01M967.8,196.1h.01M950.8,240.0h.01M954.8,182.3h.01M926.2,190.1h.01M958.7,211.7h.01M944.2,194.8h.01M951.6,208.7h.01M928.9,180.9h.01M923.2,136.7h.01M951.0,118.4h.01M938.7,179.9h.01M921.9,143.7h.01M944.6,225.9h.01M968.4,167.0h.01M949.6,185.1h.01M959.5,209.7h.01M939.0,247.0h.01M925.4,220.5h.01M941.0,182.3h.01M973.8,215.5h.01M961.9,187.3h.01M969.3,252.7h.01M955.9,212.3h.01M956.6,120.8h.01M921.2,208.3h.01M970.3,208.8h.01M943.9,120.0h.01M934.9,171.7h.01M960.4,125.5h.01M952.4,136.3h.01M931.8,230.1h.01M956.7,133.8h.01M938.5,247.4h.01M948.1,132.0h.01M937.8,145.7h.01M942.8,227.9h.01M928.6,183.5h.01M954.6,136.6h.01M945.6,242.0h.01M943.8,178.0h.01M966.1,197.5h.01M919.8,145.2h.01M929.0,120.2h.01M968.0,138.9h.01M942.4,233.1h.01M952.4,193.2h.01M968.9,246.8h.01M947.3,179.8h.01M952.8,158.2h.01M974.0,201.8h.01M933.9,168.7h.01M951.6,215.7h.01M942.5,218.9h.01M926.7,238.8h.01M923.7,191.3h.01M941.7,199.8h.01M942.7,172.5h.01M949.1,194.2h.01M945.2,145.2h.01M948.7,144.6h.01M953.4,178.5h.01M966.0,224.8h.01M957.0,175.8h.01M973.4,168.0h.01M943.9,204.5h.01M955.7,151.8h.01M943.2,176.4h.01M965.5,174.8h.01M932.0,126.0h.01M931.8,134.1h.01M926.4,172.4h.01M970.4,244.5h.01M921.0,167.6h.01M973.0,165.4h.01M959.3,185.4h.01M934.4,224.8h.01M971.9,254.0h.01M952.2,182.9h.01M947.8,125.5h.01M944.4,154.9h.01M963.5,188.1h.01M955.0,181.4h.01M960.8,199.7h.01M954.2,128.2h.01M953.8,149.3h.01M966.3,213.4h.01M960.3,206.3h.01M937.3,121.9h.01M929.6,155.4h.01M949.3,161.6h.01M933.4,180.9h.01M948.7,127.6h.01M951.8,218.1h.01M948.0,130.4h.01M940.4,165.6h.01M947.1,127.5h.01M954.4,137.4h.01M931.0,129.5h.01M946.2,227.0h.01M927.1,175.0h.01M952.0,241.6h.01M951.8,207.9h.01M972.1,158.8h.01M929.2,202.2h.01M921.2,146.9h.01M922.3,249.4h.01M963.3,250.8h.01M922.9,141.5h.01M935.9,138.2h.01M936.5,141.1h.01M924.4,201.8h.01M925.0,177.5h.01M969.0,135.2h.01M923.9,202.4h.01M922.5,156.3h.01M942.6,228.7h.01M930.9,153.9h.01M950.8,135.2h.01M937.8,225.5h.01M962.8,246.6h.01M964.5,130.7h.01M957.3,201.2h.01M934.3,221.3h.01M953.4,131.9h.01M952.8,181.1h.01M967.6,155.0h.01M930.6,131.9h.01M934.1,217.3h.01M951.5,212.7h.01M957.6,129.9h.01M963.0,213.5h.01M917.4,245.4h.01M923.7,157.0h.01M960.2,252.8h.01M960.3,229.3h.01M961.3,140.4h.01M965.8,246.6h.01M919.0,238.9h.01M931.0,218.9h.01M957.9,168.2h.01M957.1,203.7h.01M945.9,173.7h.01M919.8,185.4h.01M959.7,144.8h.01M918.3,181.1h.01M970.9,148.7h.01M969.1,183.3h.01M942.0,206.6h.01M937.3,142.4h.01M948.4,187.6h.01M923.2,212.9h.01M936.0,247.3h.01M944.4,142.9h.01M942.2,136.1h.01M967.9,127.1h.01M961.5,174.2h.01M919.3,186.0h.01M939.4,192.8h.01M936.1,175.8h.01M974.5,153.5h.01M917.4,204.4h.01M918.0,132.5h.01M930.4,195.7h.01M935.1,240.6h.01M962.1,206.2h.01M968.4,126.9h.01M950.1,242.1h.01M944.2,238.2h.01M970.0,161.1h.01M946.7,155.4h.01M966.5,152.8h.01M950.9,190.2h.01M963.6,138.1h.01M949.7,133.8h.01M924.2,242.1h.01M944.7,147.7h.01M931.8,222.6h.01M956.2,235.7h.01M960.2,166.6h.01M931.9,238.8h.01M929.1,220.3h.01M962.0,216.5h.01M935.6,188.2h.01M966.3,233.3h.01M953.8,248.5h.01M934.6,149.4h.01M954.1,186.3h.01M963.8,144.4h.01M932.9,243.3h.01M932.6,226.0h.01M957.0,215.6h.01M925.9,174.3h.01M934.1,160.8h.01M950.3,136.0h.01M929.8,231.1h.01M950.6,143.6h.01M924.7,220.7h.01M949.8,185.5h.01M943.4,141.6h.01M944.1,252.4h.01M954.7,215.8h.01M967.3,180.4h.01M931.6,124.2h.01M947.5,141.9h.01M963.1,158.6h.01M973.7,192.9h.01M961.6,120.4h.01M953.4,138.3h.01M955.0,205.7h.01M954.3,155.1h.01M965.9,220.9h.01M974.8,172.4h.01M943.6,193.1h.01M924.7,251.8h.01M943.6,213.8h.01M937.7,187.2h.01M960.6,244.0h.01M957.8,192.1h.01M955.9,208.5h.01M956.3,118.8h.01M928.5,143.5h.01M945.2,194.7h.01M970.9,249.9h.01M963.0,186.2h.01M949.6,242.6h.01M972.0,188.8h.01M955.9,238.6h.01M948.7,217.3h.01M969.0,249.4h.01M963.7,192.3h.01M958.5,231.7h.01M946.7,128.5h.01M957.6,125.6h.01M950.5,208.6h.01M930.8,170.3h.01M921.4,157.4h.01M929.7,193.4h.01M958.6,174.5h.01M958.6,244.7h.01M949.6,128.4h.01M960.1,240.0h.01M935.0,132.5h.01M965.6,172.3h.01M958.7,119.1h.01M948.1,231.8h.01M962.2,252.0h.01M951.8,178.5h.01M954.8,250.6h.01M967.9,250.7h.01M939.5,170.2h.01M948.6,227.5h.01M932.1,168.0h.01M969.8,220.6h.01M926.4,183.7h.01M923.6,225.3h.01M961.0,217.5h.01M964.0,168.2h.01M948.1,221.5h.01M968.9,122.1h.01M955.5,211.4h.01M966.6,197.3h.01M939.4,181.1h.01M962.7,225.3h.01" stroke="#000" stroke-width="1.0" stroke-linecap="round" fill="none" opacity="0.8"/>
<path d="M940.4,233.1h.01M966.6,118.1h.01M973.8,227.3h.01M967.7,142.9h.01M950.5,135.9h.01M956.7,145.6h.01M945.9,160.9h.01M943.5,128.2h.01M963.3,241.2h.01M970.2,169.2h.01M954.5,215.6h.01M959.3,232.2h.01M946.4,200.3h.01M971.2,131.0h.01M962.5,228.8h.01M954.4,202.9h.01M954.6,213.4h.01M939.0,131.4h.01M950.3,242.9h.01M949.9,142.0h.01M948.4,216.0h.01M941.0,230.4h.01M929.0,175.8h.01M964.8,183.2h.01M970.5,164.5h.01M945.2,148.1h.01M926.2,161.8h.01M922.7,183.3h.01M928.7,217.5h.01M924.3,173.3h.01M946.3,137.3h.01M924.3,250.4h.01M961.3,220.2h.01M930.0,219.5h.01M937.7,182.3h.01M959.5,160.6h.01M958.7,136.3h.01M932.4,226.6h.01M960.6,123.3h.01M949.3,150.9h.01M944.4,160.0h.01M972.8,167.3h.01M941.3,155.6h.01M946.7,160.0h.01M973.7,163.4h.01M945.1,140.1h.01M941.5,203.9h.01M932.2,125.0h.01M953.4,155.7h.01M935.8,220.6h.01M965.5,226.5h.01M945.7,150.9h.01M944.3,135.6h.01M952.7,166.6h.01M930.8,196.8h.01M931.3,174.0h.01M959.3,209.0h.01M943.4,193.9h.01M923.1,233.6h.01M947.7,173.3h.01M971.2,204.9h.01M935.1,247.7h.01M942.3,169.3h.01M933.7,155.8h.01M930.6,247.2h.01M957.1,201.3h.01M956.5,179.9h.01M932.2,189.1h.01M973.2,244.7h.01M950.3,158.0h.01M936.4,242.3h.01M930.8,197.4h.01M937.3,194.1h.01M946.5,176.0h.01M964.7,159.2h.01M920.8,208.7h.01M962.9,236.8h.01M940.8,150.0h.01M961.6,193.5h.01M969.8,152.2h.01M939.9,181.7h.01M968.5,179.8h.01M960.3,158.3h.01M930.2,222.8h.01M940.3,253.1h.01M958.3,194.3h.01M946.0,140.7h.01M930.0,202.3h.01M958.3,147.4h.01M937.7,251.9h.01M944.4,187.6h.01M943.6,172.0h.01M948.8,188.0h.01M947.2,252.7h.01M928.3,163.7h.01M951.4,171.3h.01M973.1,240.1h.01M945.2,216.3h.01M959.7,195.8h.01M965.2,211.0h.01M968.7,193.4h.01M945.3,136.0h.01M943.1,200.3h.01M953.2,161.6h.01M938.3,168.2h.01M952.9,222.7h.01M917.1,192.5h.01M933.7,157.8h.01M946.4,225.8h.01M950.9,189.4h.01M954.6,200.5h.01M973.8,146.8h.01M951.7,234.0h.01M941.7,227.1h.01M962.0,213.3h.01M952.5,161.5h.01M917.1,225.9h.01M957.9,123.3h.01M947.8,155.5h.01M959.5,151.3h.01M941.4,229.2h.01M956.7,239.3h.01M950.3,151.6h.01M956.5,213.7h.01M922.2,234.8h.01M926.6,166.4h.01M963.4,199.5h.01M952.0,154.9h.01M938.8,183.2h.01M960.9,253.4h.01M943.1,138.0h.01M927.8,194.3h.01M941.0,232.5h.01M961.9,228.0h.01M968.5,127.3h.01M934.1,193.0h.01M952.6,207.5h.01M937.4,232.9h.01M937.7,214.9h.01M948.6,139.0h.01M917.1,126.2h.01M952.7,217.8h.01M965.6,206.6h.01M954.8,208.6h.01M923.5,123.2h.01M917.6,141.4h.01M961.6,154.4h.01M954.3,225.2h.01M921.4,175.6h.01M945.2,149.5h.01M944.5,133.1h.01M952.8,186.7h.01M971.1,148.8h.01M959.3,197.8h.01M961.1,158.0h.01M964.7,134.8h.01M960.1,164.6h.01M952.0,201.5h.01M958.8,218.2h.01M948.9,184.2h.01M952.8,123.2h.01M948.6,184.4h.01M932.0,220.0h.01M948.9,141.5h.01M958.3,147.6h.01M944.1,247.6h.01M921.8,191.0h.01M968.6,222.9h.01M966.6,154.5h.01M954.0,207.1h.01M970.5,136.6h.01M968.0,214.4h.01M961.2,148.5h.01M955.5,226.2h.01M958.4,229.0h.01M930.6,233.1h.01M932.5,235.4h.01M942.9,231.3h.01M970.1,231.3h.01M957.6,186.6h.01M970.9,237.8h.01M938.2,164.7h.01M942.9,196.7h.01M950.6,146.8h.01M949.0,192.2h.01M934.1,216.4h.01M971.1,173.5h.01M935.8,243.4h.01M939.2,238.0h.01M959.1,206.8h.01M959.0,212.7h.01M918.2,189.1h.01M940.7,162.8h.01M971.9,218.1h.01M944.5,247.3h.01M947.8,173.0h.01M965.6,233.2h.01M929.3,210.8h.01M949.3,212.8h.01M923.5,145.9h.01M958.9,167.0h.01M974.2,185.4h.01M948.0,241.9h.01M938.5,191.3h.01M959.7,228.8h.01M965.6,124.0h.01M940.4,207.9h.01M930.9,159.4h.01M946.2,244.4h.01M974.3,147.5h.01M962.3,172.4h.01M952.4,178.5h.01M972.4,174.7h.01M948.5,208.0h.01M955.0,251.7h.01M971.1,128.9h.01M943.2,204.5h.01M928.1,128.4h.01M935.7,234.0h.01M921.9,220.9h.01M929.9,146.8h.01M934.0,166.9h.01M954.0,240.0h.01" stroke="#000" stroke-width="1.5" stroke-linecap="round" fill="none" opacity="0.95"/>
<rect x="915.50" y="116.50" width="61.50" height="139.00" fill="none" stroke="#111" stroke-width="1.5" stroke-dasharray="4.6 2.9"/>
<rect x="868.90" y="89.30" width="6.80" height="13.50" fill="none" stroke="#111" stroke-width="1.3" stroke-dasharray="2.6 1.3"/>
<rect x="944.00" y="200.40" width="20.30" height="13.40" fill="none" stroke="#111" stroke-width="1.3" stroke-dasharray="3 1.6"/>
<rect x="808.80" y="239.80" width="3.20" height="16.00" fill="#000" stroke="none" stroke-width="1" />
<rect x="981.50" y="102.40" width="3.30" height="10.00" fill="#000" stroke="none" stroke-width="1" />
<rect x="981.50" y="242.00" width="3.30" height="13.20" fill="#000" stroke="none" stroke-width="1" />
<clipPath id="cbclip"><path d="M1121.9,83.1 C1121.1,82.0 1119.9,78.1 1117.9,76.5 C1115.9,74.8 1113.1,73.6 1110.0,73.1 C1107.0,72.7 1103.0,73.0 1099.5,73.8 C1096.0,74.7 1092.5,76.2 1089.0,78.4 C1085.5,80.5 1082.0,83.3 1078.5,86.8 C1075.0,90.3 1071.2,94.5 1068.0,99.4 C1064.8,104.3 1061.7,110.3 1059.3,116.0 C1056.8,121.7 1054.7,127.7 1053.1,133.5 C1051.5,139.4 1050.4,145.2 1049.6,151.0 C1048.9,156.9 1048.8,163.3 1048.8,168.5 C1048.8,173.8 1048.8,178.5 1049.6,182.5 C1050.5,186.6 1052.1,190.3 1054.0,193.0 C1055.9,195.8 1058.4,197.9 1061.0,199.2 C1063.6,200.5 1067.0,201.1 1069.8,200.9 C1072.5,200.8 1075.3,199.8 1077.6,198.3 C1080.0,196.8 1082.2,191.9 1083.8,192.2 C1085.3,192.5 1086.7,197.0 1086.9,200.0 C1087.1,203.1 1084.9,206.8 1084.8,210.5 C1084.7,214.3 1085.6,219.0 1086.4,222.8 C1087.2,226.6 1088.8,230.1 1089.5,233.3 C1090.3,236.5 1089.2,239.8 1091.1,242.1 C1093.1,244.3 1096.1,245.6 1101.3,246.6 C1106.5,247.7 1115.3,248.4 1122.3,248.4 C1129.3,248.4 1138.1,247.7 1143.3,246.6 C1148.5,245.6 1151.5,244.3 1153.4,242.1 C1155.4,239.8 1154.2,236.5 1155.0,233.3 C1155.8,230.1 1157.4,226.6 1158.2,222.8 C1158.9,219.0 1159.8,214.3 1159.7,210.5 C1159.6,206.8 1157.5,203.1 1157.6,200.0 C1157.8,197.0 1159.2,192.5 1160.8,192.2 C1162.3,191.9 1164.6,196.8 1166.9,198.3 C1169.2,199.8 1172.0,200.8 1174.8,200.9 C1177.6,201.1 1180.9,200.5 1183.5,199.2 C1186.2,197.9 1188.7,195.8 1190.5,193.0 C1192.4,190.3 1194.0,186.6 1194.9,182.5 C1195.8,178.5 1195.8,173.8 1195.8,168.5 C1195.8,163.3 1195.7,156.9 1194.9,151.0 C1194.2,145.2 1193.0,139.4 1191.4,133.5 C1189.8,127.7 1187.8,121.7 1185.3,116.0 C1182.8,110.3 1179.8,104.3 1176.5,99.4 C1173.3,94.5 1169.5,90.3 1166.0,86.8 C1162.5,83.3 1159.0,80.5 1155.5,78.4 C1152.0,76.2 1148.5,74.7 1145.0,73.8 C1141.5,73.0 1137.6,72.7 1134.5,73.1 C1131.5,73.6 1128.6,74.8 1126.7,76.5 C1124.7,78.1 1123.4,82.0 1122.6,83.1 C1121.8,84.2 1122.7,84.2 1121.9,83.1Z"/></clipPath>
<path d="M1084.6,200.9 C1082.5,199.0 1076.9,202.2 1073.3,202.7 C1069.6,203.2 1065.4,203.1 1062.8,203.9 C1060.1,204.7 1058.0,205.8 1057.2,207.4 C1056.3,208.9 1056.6,211.3 1057.5,213.2 C1058.4,215.0 1060.3,217.2 1062.8,218.4 C1065.2,219.6 1069.6,220.4 1072.4,220.4 C1075.2,220.4 1077.8,217.9 1079.4,218.4 C1081.0,219.0 1080.8,222.1 1082.0,223.7 C1083.2,225.3 1085.7,229.7 1086.4,228.1 C1087.0,226.4 1086.2,218.6 1085.9,214.0 C1085.6,209.5 1086.7,202.8 1084.6,200.9Z" stroke="#111" stroke-width="1.3" fill="#d6d6d6" />
<path d="M1159.9,200.9 C1162.0,199.0 1167.6,202.2 1171.3,202.7 C1174.9,203.2 1179.1,203.1 1181.8,203.9 C1184.5,204.7 1186.5,205.8 1187.4,207.4 C1188.3,208.9 1188.0,211.3 1187.0,213.2 C1186.1,215.0 1184.3,217.2 1181.8,218.4 C1179.3,219.6 1174.9,220.4 1172.2,220.4 C1169.4,220.4 1166.8,217.9 1165.2,218.4 C1163.6,219.0 1163.7,222.1 1162.5,223.7 C1161.4,225.3 1158.8,229.7 1158.2,228.1 C1157.5,226.4 1158.4,218.6 1158.7,214.0 C1159.0,209.5 1157.8,202.8 1159.9,200.9Z" stroke="#111" stroke-width="1.3" fill="#d6d6d6" />
<g clip-path="url(#cbclip)">
<g id="cbhalf"><g><path d="M1122.8,70.5 L1047.0,70.5 L1047.0,250.8 L1122.8,250.8Z" stroke="none" stroke-width="1" fill="#9ff5a8" />
<path d="M1122.8,70.5 L1113.2,70.5 L1109.3,103.8 L1122.8,105.9Z" stroke="none" stroke-width="1" fill="#f78fd2" />
<path d="M1079.9,84.5 L1068.0,98.9 L1092.5,113.4 L1100.9,104.1Z" stroke="none" stroke-width="1" fill="#f78fd2" />
<path d="M1068.0,98.9 L1056.6,119.5 L1081.7,130.9 L1092.5,113.4Z" stroke="none" stroke-width="1" fill="#c894f6" />
<path d="M1056.6,119.5 L1047.0,145.8 L1073.3,147.5 L1081.7,130.9Z" stroke="none" stroke-width="1" fill="#9aa2f8" />
<path d="M1047.0,145.8 L1047.0,152.8 L1075.0,153.7 L1075.0,147.5Z" stroke="none" stroke-width="1" fill="#8fe890" />
<path d="M1047.0,152.8 L1047.0,173.8 L1073.3,172.0 L1075.0,153.7Z" stroke="none" stroke-width="1" fill="#f2858c" />
<path d="M1047.0,173.8 L1047.0,205.3 L1085.5,205.3 L1075.0,172.0Z" stroke="none" stroke-width="1" fill="#d0f07c" />
<path d="M1110.0,105.9 C1106.1,106.4 1103.0,107.2 1099.5,109.0 C1096.0,110.9 1092.4,113.4 1089.0,116.9 C1085.7,120.4 1082.2,124.9 1079.4,130.0 C1076.6,135.1 1074.1,141.7 1072.4,147.5 C1070.6,153.4 1069.2,159.5 1068.9,165.0 C1068.6,170.6 1069.2,175.4 1070.6,180.8 C1072.1,186.2 1075.3,195.5 1077.6,197.4 C1080.0,199.3 1082.9,191.7 1084.6,192.2 C1086.4,192.6 1087.9,197.0 1088.1,200.0 C1088.3,203.1 1086.0,206.8 1085.9,210.5 C1085.7,214.3 1086.5,219.0 1087.3,222.8 C1088.0,226.6 1089.7,230.1 1090.4,233.3 C1091.2,236.5 1090.0,239.8 1091.8,242.1 C1093.6,244.3 1096.1,245.6 1101.3,246.6 C1106.4,247.7 1119.2,271.8 1122.8,248.4 C1126.4,224.9 1124.9,129.6 1122.8,105.9 C1120.7,82.1 1113.9,105.3 1110.0,105.9Z" stroke="none" stroke-width="1" fill="#f78fd2" />
<path d="M1075.9,120.4 C1079.5,116.7 1087.3,115.8 1092.5,114.6 C1097.8,113.5 1104.7,112.0 1107.4,113.4 C1110.1,114.8 1109.6,119.4 1108.6,123.0 C1107.6,126.7 1104.4,132.1 1101.3,135.3 C1098.1,138.5 1093.1,139.5 1089.9,142.3 C1086.7,145.0 1084.0,148.4 1082.0,151.9 C1080.1,155.4 1079.2,159.6 1078.2,163.3 C1077.1,166.9 1077.2,172.0 1075.9,173.8 C1074.5,175.5 1071.4,177.0 1070.1,173.8 C1068.9,170.6 1068.3,160.7 1068.4,154.5 C1068.4,148.4 1069.4,142.7 1070.6,137.0 C1071.9,131.3 1072.2,124.1 1075.9,120.4Z" stroke="none" stroke-width="1" fill="#9aa2f8" />
<path d="M1110.0,117.8 C1111.6,115.7 1120.7,114.9 1122.8,116.9 C1124.9,118.9 1124.3,128.0 1122.8,130.0 C1121.3,132.1 1115.7,131.2 1113.5,129.1 C1111.4,127.1 1108.5,119.8 1110.0,117.8Z" stroke="none" stroke-width="1" fill="#f78fd2" />
<path d="M1117.9,121.3 L1122.8,120.4 L1122.8,127.4 L1118.8,126.5Z" stroke="none" stroke-width="1" fill="#d0f07c" />
<path d="M1089.9,147.5 C1090.5,144.0 1094.1,142.6 1096.0,142.3 C1098.0,142.0 1100.7,142.6 1101.6,145.8 C1102.5,149.0 1102.8,158.6 1101.3,161.5 C1099.8,164.4 1094.4,165.6 1092.5,163.3 C1090.6,160.9 1089.3,151.0 1089.9,147.5Z" stroke="none" stroke-width="1" fill="#d0f07c" />
<path d="M1101.3,145.8 L1110.0,144.0 L1110.9,163.3 L1100.4,163.6Z" stroke="none" stroke-width="1" fill="#8ab0f5" />
<path d="M1110.0,140.5 L1116.1,141.4 L1115.6,158.0 L1110.9,158.0Z" stroke="none" stroke-width="1" fill="#f78fd2" />
<path d="M1115.6,140.5 L1122.8,139.6 L1122.8,160.7 L1115.6,160.7Z" stroke="none" stroke-width="1" fill="#7fdcf5" />
<path d="M1101.6,158.9 L1122.8,158.9 L1122.8,165.0 L1101.6,165.0Z" stroke="none" stroke-width="1" fill="#8ab8f5" />
<path d="M1068.0,172.0 C1069.2,169.0 1072.4,167.9 1075.0,167.1 C1077.6,166.4 1081.2,166.5 1083.8,167.7 C1086.3,168.8 1089.2,170.9 1090.4,173.8 C1091.6,176.7 1091.9,181.7 1091.1,185.2 C1090.4,188.7 1088.1,192.5 1085.9,194.8 C1083.6,197.0 1080.1,198.6 1077.6,198.6 C1075.2,198.6 1072.8,197.0 1071.2,194.8 C1069.5,192.5 1068.2,189.0 1067.7,185.2 C1067.1,181.4 1066.8,175.0 1068.0,172.0Z" stroke="none" stroke-width="1" fill="#c894f6" />
<path d="M1068.0,176.4 L1077.1,174.7 L1077.1,190.4 L1070.8,193.9 L1067.7,185.2Z" stroke="none" stroke-width="1" fill="#9ff5a8" />
<path d="M1077.1,176.9 L1085.9,175.9 L1087.3,185.2 L1079.4,187.4 L1077.1,186.0Z" stroke="none" stroke-width="1" fill="#f0f078" />
<path d="M1077.1,187.1 L1087.3,185.2 L1085.2,194.4 L1077.6,196.5Z" stroke="none" stroke-width="1" fill="#f78fd2" />
<path d="M1072.4,190.4 L1082.0,190.4 L1081.7,198.3 L1074.1,198.6Z" stroke="none" stroke-width="1" fill="#6fb4f0" />
<path d="M1097.8,165.9 C1101.0,163.1 1111.1,163.1 1115.3,164.2 C1119.4,165.2 1121.5,168.4 1122.8,172.0 C1124.1,175.7 1125.5,183.6 1122.8,186.0 C1120.1,188.5 1111.0,187.8 1106.5,186.9 C1102.1,186.0 1097.5,184.3 1096.0,180.8 C1094.6,177.3 1094.6,168.7 1097.8,165.9Z" stroke="none" stroke-width="1" fill="#f8908a" />
<path d="M1117.0,165.0 L1122.8,165.0 L1122.8,173.8 L1117.9,172.0Z" stroke="none" stroke-width="1" fill="#9ff5a8" />
<path d="M1092.5,186.0 L1122.8,186.0 L1122.8,205.3 L1092.5,205.3Z" stroke="none" stroke-width="1" fill="#9ff5a8" />
<path d="M1097.8,188.7 L1106.5,186.9 L1110.0,205.3 L1099.5,205.3Z" stroke="none" stroke-width="1" fill="#f78fd2" />
<path d="M1115.3,190.4 L1122.8,190.4 L1122.8,201.8 L1116.1,200.9Z" stroke="none" stroke-width="1" fill="#6fb4f0" />
<path d="M1089.0,205.3 L1122.8,205.3 L1122.8,225.4 L1088.1,225.4Z" stroke="none" stroke-width="1" fill="#9aa2f8" />
<path d="M1092.5,205.3 L1100.4,205.3 L1099.5,217.5 L1092.5,218.4Z" stroke="none" stroke-width="1" fill="#c894f6" />
<path d="M1117.0,210.5 L1122.8,210.5 L1122.8,228.1 L1117.0,226.3Z" stroke="none" stroke-width="1" fill="#f0f078" />
<path d="M1089.0,225.4 L1122.8,225.4 L1122.8,250.8 L1089.0,250.8Z" stroke="none" stroke-width="1" fill="#9ff5a8" />
<path d="M1109.1,228.1 L1115.3,227.2 L1117.0,249.1 L1110.0,249.1Z" stroke="none" stroke-width="1" fill="#f78fd2" />
<path d="M1115.3,228.9 L1122.8,228.9 L1122.8,235.9 L1115.6,235.9Z" stroke="none" stroke-width="1" fill="#6fb4f0" />
<path d="M1117.0,235.9 L1122.8,235.9 L1122.8,249.1 L1117.9,249.1Z" stroke="none" stroke-width="1" fill="#c894f6" />
<path d="M1117.9,102.0 L1122.8,102.0 L1122.8,109.4 L1118.4,109.0Z" stroke="none" stroke-width="1" fill="#7fdcf5" />
</g>
</g>
<use href="#cbhalf" transform="translate(2244.55,0) scale(-1,1)"/>
<path d="M1097.8,108.1 C1097.9,107.0 1101.1,104.5 1103.0,104.1 C1104.9,103.7 1107.3,104.9 1109.1,105.9 C1111.0,106.8 1112.2,109.0 1114.4,109.9 C1116.6,110.8 1119.6,111.1 1122.3,111.1 C1124.9,111.1 1128.0,110.8 1130.2,109.9 C1132.3,109.0 1133.5,106.8 1135.4,105.9 C1137.3,104.9 1139.6,103.7 1141.5,104.1 C1143.4,104.5 1146.6,107.0 1146.8,108.1 C1146.9,109.3 1144.3,110.4 1142.4,111.1 C1140.5,111.8 1137.3,111.8 1135.4,112.5 C1133.5,113.3 1133.2,115.0 1131.0,115.7 C1128.8,116.3 1125.2,116.4 1122.3,116.4 C1119.4,116.4 1115.7,116.3 1113.5,115.7 C1111.3,115.0 1111.0,113.3 1109.1,112.5 C1107.3,111.8 1104.0,111.8 1102.1,111.1 C1100.2,110.4 1097.6,109.3 1097.8,108.1Z" stroke="#111" stroke-width="1.2" fill="#d8d8d8" />
<filter id="cbb" x="-50%" y="-50%" width="200%" height="200%"><feGaussianBlur stdDeviation="1.6"/></filter>
<g filter="url(#cbb)" fill="#000"><ellipse cx="1114.9" cy="92.4" rx="2.5" ry="7.4" opacity="0.78"/><ellipse cx="1129.6" cy="92.4" rx="2.5" ry="7.4" opacity="0.78"/><ellipse cx="1056.6" cy="165.0" rx="4.2" ry="10.5" opacity="0.38"/><ellipse cx="1187.9" cy="165.0" rx="4.2" ry="10.5" opacity="0.38"/><ellipse cx="1062.8" cy="187.8" rx="7.4" ry="6.7" opacity="0.32"/><ellipse cx="1181.8" cy="187.8" rx="7.4" ry="6.7" opacity="0.32"/><ellipse cx="1062.8" cy="138.8" rx="3.9" ry="9.6" opacity="0.2"/><ellipse cx="1181.8" cy="138.8" rx="3.9" ry="9.6" opacity="0.2"/><ellipse cx="1122.3" cy="172.0" rx="13.1" ry="6.7" opacity="0.3"/><ellipse cx="1122.3" cy="210.5" rx="4.9" ry="10.5" opacity="0.32"/><ellipse cx="1081.1" cy="182.5" rx="4.4" ry="6.1" opacity="0.25"/><ellipse cx="1163.4" cy="182.5" rx="4.4" ry="6.1" opacity="0.25"/><ellipse cx="1122.3" cy="235.1" rx="7.9" ry="6.1" opacity="0.2"/><ellipse cx="1076.8" cy="112.5" rx="5.3" ry="6.1" opacity="0.15"/><ellipse cx="1167.8" cy="112.5" rx="5.3" ry="6.1" opacity="0.15"/><ellipse cx="1103.0" cy="175.5" rx="5.3" ry="5.3" opacity="0.2"/><ellipse cx="1141.5" cy="175.5" rx="5.3" ry="5.3" opacity="0.2"/></g>
<path d="M1114.8,94.9h.01M1114.8,89.4h.01M1113.5,90.1h.01M1117.4,94.3h.01M1117.3,93.2h.01M1116.0,92.7h.01M1112.1,97.2h.01M1116.2,94.8h.01M1112.0,79.9h.01M1113.6,88.4h.01M1115.9,91.2h.01M1116.3,87.2h.01M1115.9,94.1h.01M1114.0,102.9h.01M1116.3,99.5h.01M1114.1,86.6h.01M1114.6,90.8h.01M1116.5,93.2h.01M1114.4,85.1h.01M1114.3,99.6h.01M1113.7,93.1h.01M1116.1,81.6h.01M1115.4,100.2h.01M1111.4,89.4h.01M1115.1,86.1h.01M1116.2,91.1h.01M1112.5,97.0h.01M1116.6,97.8h.01M1118.0,93.9h.01M1115.5,82.9h.01M1116.5,87.4h.01M1114.4,83.1h.01M1113.4,88.0h.01M1117.8,78.0h.01M1112.5,93.1h.01M1118.1,95.4h.01M1111.6,74.8h.01M1116.0,86.6h.01M1113.1,98.0h.01M1117.4,92.6h.01M1115.7,94.4h.01M1118.3,95.6h.01M1116.3,95.2h.01M1112.3,100.0h.01M1117.1,95.0h.01M1111.5,87.3h.01M1116.9,79.5h.01M1114.9,98.3h.01M1112.7,102.2h.01M1116.3,90.5h.01M1115.9,95.8h.01M1115.5,99.1h.01M1114.0,88.8h.01M1117.3,91.7h.01M1113.6,97.8h.01M1118.1,88.6h.01M1112.6,90.6h.01M1115.0,89.5h.01M1118.0,84.7h.01M1117.7,83.1h.01M1113.8,95.7h.01M1117.4,97.2h.01M1115.9,92.5h.01M1115.6,95.3h.01M1114.9,93.4h.01M1116.4,91.5h.01M1116.7,95.3h.01M1119.1,93.7h.01M1114.5,89.0h.01M1115.2,97.7h.01M1114.6,94.1h.01M1113.1,93.1h.01M1116.0,93.1h.01M1114.4,95.9h.01M1115.8,88.0h.01M1120.0,93.9h.01M1114.2,90.8h.01M1114.8,91.1h.01M1110.0,88.3h.01M1117.2,83.7h.01M1115.1,97.9h.01M1116.9,101.4h.01M1112.0,89.2h.01M1114.6,95.7h.01M1117.4,81.9h.01M1116.6,81.6h.01M1115.6,99.5h.01M1115.0,92.8h.01M1116.8,92.5h.01M1115.1,101.7h.01M1117.3,89.6h.01M1120.6,83.9h.01M1117.0,89.7h.01M1115.5,96.2h.01M1115.7,95.8h.01M1112.3,81.5h.01M1116.5,85.1h.01M1113.3,81.7h.01M1117.7,96.5h.01M1118.1,85.3h.01M1115.3,83.9h.01M1116.7,102.1h.01M1113.6,101.9h.01M1117.2,90.3h.01M1111.5,100.9h.01M1115.1,87.5h.01M1116.0,94.2h.01M1118.2,84.7h.01M1117.5,101.4h.01M1118.1,90.3h.01M1113.8,98.3h.01M1115.5,92.3h.01M1118.0,89.8h.01M1110.9,88.9h.01M1111.7,97.0h.01M1115.9,87.4h.01M1115.3,97.0h.01M1115.4,100.3h.01M1115.2,98.4h.01M1118.1,102.2h.01M1114.0,97.4h.01M1111.7,84.3h.01M1111.5,98.6h.01M1112.9,91.4h.01M1114.9,91.3h.01M1114.1,93.1h.01M1118.7,91.8h.01M1116.3,98.2h.01M1114.9,83.1h.01M1114.2,98.7h.01M1112.1,87.5h.01M1117.2,96.8h.01M1115.3,96.9h.01M1115.6,83.7h.01M1112.3,87.3h.01M1117.1,87.7h.01M1113.5,86.4h.01M1112.3,90.7h.01M1113.0,93.9h.01M1110.7,93.7h.01M1114.0,78.6h.01M1116.7,89.7h.01M1111.0,85.7h.01M1115.8,88.5h.01M1116.8,96.5h.01M1116.6,93.7h.01M1117.8,95.9h.01M1116.1,77.6h.01M1117.0,100.2h.01M1114.7,88.4h.01M1119.0,79.8h.01M1116.2,107.6h.01M1113.5,96.1h.01M1118.9,90.7h.01M1116.4,97.5h.01M1113.5,90.9h.01M1115.8,97.0h.01M1115.2,90.2h.01M1113.3,89.1h.01M1117.0,92.2h.01M1113.6,85.9h.01M1120.4,99.1h.01M1116.5,94.7h.01M1118.5,94.4h.01M1115.1,95.0h.01M1111.5,98.4h.01M1115.9,86.8h.01M1117.8,103.5h.01M1112.6,87.1h.01M1115.8,92.7h.01M1128.5,85.0h.01M1133.4,98.4h.01M1127.0,82.6h.01M1132.6,98.1h.01M1132.8,96.9h.01M1127.6,93.2h.01M1125.1,86.5h.01M1129.2,95.0h.01M1127.9,90.7h.01M1130.2,94.0h.01M1130.5,92.9h.01M1128.7,96.8h.01M1129.4,86.0h.01M1128.1,91.5h.01M1129.1,92.6h.01M1129.3,92.7h.01M1129.0,83.1h.01M1130.1,98.5h.01M1130.1,90.3h.01M1130.1,85.1h.01M1125.6,91.9h.01M1127.5,96.4h.01M1127.3,102.0h.01M1128.5,82.4h.01M1127.8,95.0h.01M1130.2,92.7h.01M1132.1,96.2h.01M1129.2,95.5h.01M1132.5,98.0h.01M1131.2,84.3h.01M1129.0,96.4h.01M1128.7,98.6h.01M1130.4,97.6h.01M1128.9,108.4h.01M1131.7,90.1h.01M1129.5,108.8h.01M1128.6,97.3h.01M1131.2,91.6h.01M1127.0,92.8h.01M1130.0,99.0h.01M1130.8,91.7h.01M1130.9,95.1h.01M1129.7,91.9h.01M1128.8,96.1h.01M1127.2,87.3h.01M1129.3,81.8h.01M1128.4,78.1h.01M1128.0,95.3h.01M1130.4,91.1h.01M1128.8,82.1h.01M1132.8,94.9h.01M1131.4,85.6h.01M1128.9,79.4h.01M1130.8,97.7h.01M1125.6,91.2h.01M1130.5,79.8h.01M1125.8,84.4h.01M1128.1,82.2h.01M1129.3,93.2h.01M1130.5,96.2h.01M1132.2,99.3h.01M1126.8,88.1h.01M1127.2,84.3h.01M1129.1,91.5h.01M1130.2,81.0h.01M1126.9,91.4h.01M1128.9,89.4h.01M1129.2,86.5h.01M1130.6,93.9h.01M1129.1,87.0h.01M1127.4,91.8h.01M1126.4,92.8h.01M1129.6,82.3h.01M1128.8,89.4h.01M1130.2,95.6h.01M1129.2,85.8h.01M1129.0,91.1h.01M1130.7,93.5h.01M1127.9,82.5h.01M1128.6,86.6h.01M1127.1,90.7h.01M1128.3,92.2h.01M1130.3,88.8h.01M1133.8,89.4h.01M1131.4,92.3h.01M1131.4,75.7h.01M1127.8,93.2h.01M1130.4,107.1h.01M1129.9,100.0h.01M1130.8,97.8h.01M1130.3,90.5h.01M1130.3,84.3h.01M1131.6,84.7h.01M1129.8,105.6h.01M1128.8,91.6h.01M1131.5,91.7h.01M1127.7,93.2h.01M1130.4,96.2h.01M1127.8,103.2h.01M1132.5,91.6h.01M1129.8,88.7h.01M1132.0,86.8h.01M1130.6,88.3h.01M1127.9,96.3h.01M1131.8,91.4h.01M1128.0,96.9h.01M1129.2,93.6h.01M1132.2,99.0h.01M1128.3,106.7h.01M1129.3,96.7h.01M1128.0,91.2h.01M1125.9,103.4h.01M1131.9,83.4h.01M1126.4,80.7h.01M1131.5,88.5h.01M1129.2,89.4h.01M1129.0,84.3h.01M1129.3,81.9h.01M1129.1,93.6h.01M1130.2,90.0h.01M1127.5,92.6h.01M1128.3,101.9h.01M1130.8,90.7h.01M1128.4,86.8h.01M1127.5,89.2h.01M1129.8,94.9h.01M1130.4,105.5h.01M1127.9,91.6h.01M1134.7,79.1h.01M1128.3,92.6h.01M1129.6,94.2h.01M1128.8,93.9h.01M1129.4,96.6h.01M1125.6,85.6h.01M1129.3,84.6h.01M1127.3,95.7h.01M1128.0,95.7h.01M1130.7,93.5h.01M1130.3,90.8h.01M1126.6,91.3h.01M1130.2,88.0h.01M1129.1,96.5h.01M1127.6,95.8h.01M1132.9,87.8h.01M1129.6,90.5h.01M1132.2,93.6h.01M1131.0,86.9h.01M1129.2,91.4h.01M1125.9,101.1h.01M1131.0,79.9h.01M1130.7,90.6h.01M1130.1,93.9h.01M1126.4,90.1h.01M1132.2,87.7h.01M1127.3,82.5h.01M1126.9,93.7h.01M1132.5,94.4h.01M1129.8,106.4h.01M1128.3,87.0h.01M1130.3,95.2h.01M1127.3,83.7h.01M1129.8,93.2h.01M1126.8,90.2h.01M1128.2,94.6h.01M1129.1,90.9h.01M1128.6,98.5h.01M1132.0,89.1h.01M1130.9,86.5h.01M1129.4,96.5h.01M1132.2,89.0h.01M1056.3,165.0h.01M1050.9,163.4h.01M1054.0,166.5h.01M1052.3,146.0h.01M1056.8,165.6h.01M1054.5,171.1h.01M1055.6,158.0h.01M1058.5,149.6h.01M1054.0,163.1h.01M1059.9,161.9h.01M1057.8,157.5h.01M1057.8,177.8h.01M1054.0,184.0h.01M1054.2,163.4h.01M1057.3,172.2h.01M1051.9,144.9h.01M1059.0,170.2h.01M1059.0,186.3h.01M1057.4,165.5h.01M1060.2,166.5h.01M1063.0,152.4h.01M1055.2,133.1h.01M1059.8,160.0h.01M1060.2,182.1h.01M1056.6,161.1h.01M1054.7,155.9h.01M1054.2,168.9h.01M1056.8,163.9h.01M1056.0,171.3h.01M1058.5,162.0h.01M1059.2,162.0h.01M1052.2,176.0h.01M1058.4,154.9h.01M1060.8,166.3h.01M1050.6,177.4h.01M1057.9,171.1h.01M1057.4,162.0h.01M1050.7,171.8h.01M1056.7,160.8h.01M1058.0,164.0h.01M1059.2,160.0h.01M1056.5,144.6h.01M1055.0,169.2h.01M1061.8,160.1h.01M1056.2,177.1h.01M1055.4,169.7h.01M1063.1,163.6h.01M1061.4,157.1h.01M1057.4,162.6h.01M1057.1,173.2h.01M1065.8,157.5h.01M1054.4,167.6h.01M1052.6,167.6h.01M1058.8,160.9h.01M1058.7,149.7h.01M1059.6,149.8h.01M1053.9,158.4h.01M1055.1,170.8h.01M1056.9,159.8h.01M1058.7,177.1h.01M1056.7,166.5h.01M1061.4,165.6h.01M1051.7,185.1h.01M1065.1,145.9h.01M1056.5,166.9h.01M1060.3,169.1h.01M1055.6,154.1h.01M1057.0,172.3h.01M1052.4,154.3h.01M1056.5,146.3h.01M1055.6,159.5h.01M1058.4,157.1h.01M1053.2,159.8h.01M1056.4,157.5h.01M1056.7,169.8h.01M1061.2,178.2h.01M1053.6,159.6h.01M1053.8,163.0h.01M1058.6,151.4h.01M1058.4,163.1h.01M1049.6,165.8h.01M1061.2,146.9h.01M1059.7,165.1h.01M1058.5,167.1h.01M1061.7,161.3h.01M1060.0,159.7h.01M1059.4,156.2h.01M1056.2,178.4h.01M1058.3,161.9h.01M1052.2,156.4h.01M1062.2,192.6h.01M1063.6,189.7h.01M1060.8,195.5h.01M1058.6,182.2h.01M1066.4,186.5h.01M1059.3,182.0h.01M1059.4,190.4h.01M1063.2,177.6h.01M1063.6,187.3h.01M1054.9,191.5h.01M1059.3,183.7h.01M1065.9,195.3h.01M1056.8,189.1h.01M1058.0,194.4h.01M1057.0,191.7h.01M1074.6,168.2h.01M1058.3,189.5h.01M1060.4,181.4h.01M1074.2,186.6h.01M1057.5,187.1h.01M1068.7,186.9h.01M1052.5,174.2h.01M1068.3,191.2h.01M1056.0,192.1h.01M1064.0,190.6h.01M1066.5,191.2h.01M1066.4,168.8h.01M1062.0,189.5h.01M1076.6,179.4h.01M1059.0,186.3h.01M1066.4,182.9h.01M1068.0,180.5h.01M1062.6,182.3h.01M1062.0,181.2h.01M1062.9,182.1h.01M1062.2,193.0h.01M1055.0,185.3h.01M1064.3,189.7h.01M1059.0,171.3h.01M1068.6,188.3h.01M1061.1,184.1h.01M1062.6,183.1h.01M1054.7,180.9h.01M1057.3,181.8h.01M1053.9,190.5h.01M1054.8,188.5h.01M1069.4,187.5h.01M1056.5,186.4h.01M1061.9,173.9h.01M1057.3,187.2h.01M1058.1,186.6h.01M1065.5,191.4h.01M1066.6,190.2h.01M1059.2,185.9h.01M1059.3,183.8h.01M1059.9,174.0h.01M1059.0,185.9h.01M1055.0,185.9h.01M1064.2,184.9h.01M1073.7,167.8h.01M1059.7,173.3h.01M1064.2,183.9h.01M1064.4,170.3h.01M1066.2,188.6h.01M1061.1,181.9h.01M1064.9,182.6h.01M1062.4,182.5h.01M1062.2,191.3h.01M1055.6,185.8h.01M1064.8,187.1h.01M1068.6,200.0h.01M1055.4,172.6h.01M1066.3,196.7h.01M1066.7,191.7h.01M1057.2,181.0h.01M1066.4,179.7h.01M1049.9,179.1h.01M1056.8,180.9h.01M1062.4,180.8h.01M1069.0,185.5h.01M1057.4,187.6h.01M1060.9,183.8h.01M1063.0,181.2h.01M1049.7,170.6h.01M1053.2,180.7h.01M1060.9,186.4h.01M1064.4,186.9h.01M1056.1,181.1h.01M1064.0,189.7h.01M1060.3,184.8h.01M1066.9,138.9h.01M1066.0,144.9h.01M1063.7,152.5h.01M1060.3,135.0h.01M1059.2,130.4h.01M1069.6,157.3h.01M1062.9,144.7h.01M1067.9,147.3h.01M1068.0,125.5h.01M1060.0,143.5h.01M1069.0,139.9h.01M1059.0,135.1h.01M1059.9,129.8h.01M1069.3,132.2h.01M1062.8,161.5h.01M1067.9,142.3h.01M1060.1,143.1h.01M1069.9,145.3h.01M1068.3,139.8h.01M1065.0,136.7h.01M1064.6,152.4h.01M1056.5,138.1h.01M1063.8,132.8h.01M1061.4,147.0h.01M1071.5,145.4h.01M1064.2,122.5h.01M1071.2,139.6h.01M1062.6,127.0h.01M1062.5,127.3h.01M1063.1,143.7h.01M1062.9,141.7h.01M1059.0,153.8h.01M1059.9,119.7h.01M1061.9,130.8h.01M1058.3,135.0h.01M1064.0,126.4h.01M1062.2,153.8h.01M1065.7,137.2h.01M1063.3,137.5h.01M1062.5,146.5h.01M1062.4,113.5h.01M1062.7,129.4h.01M1065.6,132.4h.01M1063.4,161.6h.01M1058.2,127.0h.01M1054.5,142.6h.01M1060.0,119.2h.01M1056.3,145.3h.01M1059.4,134.9h.01M1064.2,153.0h.01M1071.3,149.6h.01M1063.4,140.7h.01M1070.6,153.8h.01M1061.4,143.6h.01M1064.0,139.3h.01M1060.6,124.8h.01M1060.4,122.6h.01M1068.1,144.4h.01M1057.5,153.4h.01M1066.7,118.7h.01M1086.4,118.2h.01M1087.6,103.9h.01M1079.5,115.5h.01M1077.8,113.7h.01M1082.3,102.1h.01M1070.2,102.8h.01M1073.8,108.3h.01M1078.7,114.4h.01M1076.9,107.8h.01M1074.4,119.2h.01M1080.8,113.2h.01M1075.1,123.4h.01M1073.6,117.1h.01M1082.8,110.7h.01M1081.1,104.7h.01M1082.1,113.9h.01M1068.4,117.2h.01M1072.1,121.5h.01M1073.2,111.4h.01M1078.2,110.2h.01M1078.1,108.6h.01M1080.3,112.6h.01M1077.9,93.2h.01M1082.9,112.7h.01M1067.4,113.2h.01M1079.2,120.0h.01M1071.1,123.3h.01M1075.9,129.3h.01M1076.0,117.3h.01M1074.8,104.7h.01M1082.5,118.9h.01M1084.8,118.5h.01M1073.8,100.9h.01M1073.3,107.8h.01M1072.5,116.6h.01M1078.5,110.6h.01M1077.7,111.5h.01M1077.9,117.8h.01M1081.8,107.7h.01M1068.8,122.5h.01M1077.4,120.3h.01M1068.1,110.2h.01M1076.9,102.4h.01M1074.1,117.6h.01M1082.4,123.7h.01M1072.2,102.7h.01M1079.5,119.1h.01M1077.8,103.4h.01M1080.9,118.1h.01M1079.7,109.1h.01M1085.4,104.4h.01M1080.8,90.6h.01M1085.5,102.8h.01M1083.8,104.9h.01M1080.7,99.8h.01M1082.2,103.3h.01M1092.1,98.9h.01M1094.6,108.3h.01M1087.9,103.3h.01M1093.1,99.3h.01M1083.2,94.7h.01M1086.2,107.3h.01M1086.6,102.5h.01M1082.7,101.2h.01M1076.3,105.8h.01M1081.6,94.5h.01M1079.8,95.9h.01M1088.3,105.8h.01M1076.6,105.1h.01M1088.4,97.2h.01M1076.0,96.3h.01M1080.4,102.1h.01M1081.9,89.6h.01M1085.0,92.2h.01M1088.5,93.9h.01M1080.1,95.8h.01M1080.9,107.1h.01M1088.2,103.4h.01M1085.4,92.1h.01M1081.0,97.4h.01M1078.6,102.9h.01M1079.9,96.5h.01M1078.3,89.5h.01M1086.9,107.3h.01M1084.7,95.1h.01M1069.6,101.2h.01M1090.2,101.8h.01M1088.6,108.0h.01M1089.7,97.9h.01M1089.3,104.3h.01M1089.7,87.6h.01M1090.3,89.2h.01M1100.8,84.2h.01M1087.0,96.6h.01M1099.7,97.5h.01M1090.8,95.3h.01M1108.7,100.3h.01M1096.7,91.2h.01M1097.0,95.0h.01M1103.2,90.2h.01M1090.6,93.7h.01M1095.3,93.1h.01M1099.2,98.3h.01M1103.7,87.4h.01M1099.6,99.0h.01M1094.9,92.0h.01M1104.0,96.4h.01M1100.5,82.8h.01M1091.1,91.1h.01M1099.8,103.1h.01M1093.2,95.7h.01M1101.8,81.0h.01M1093.5,90.6h.01M1095.2,88.9h.01M1100.2,85.5h.01M1100.2,86.4h.01M1094.9,92.6h.01M1094.8,91.3h.01M1106.2,89.9h.01M1097.0,93.6h.01M1095.8,95.4h.01M1091.0,93.0h.01M1095.1,85.6h.01M1107.1,85.3h.01M1107.0,93.2h.01M1105.4,84.6h.01M1104.1,97.4h.01M1097.2,89.1h.01M1110.7,90.7h.01M1095.5,86.5h.01M1083.1,182.8h.01M1081.9,191.3h.01M1079.7,183.7h.01M1087.5,174.6h.01M1085.7,192.0h.01M1075.2,174.1h.01M1076.6,169.5h.01M1083.1,169.4h.01M1083.3,189.7h.01M1074.1,178.8h.01M1072.7,185.6h.01M1077.9,179.2h.01M1081.4,184.1h.01M1079.6,180.9h.01M1078.7,181.5h.01M1076.0,181.2h.01M1072.7,177.8h.01M1089.5,181.3h.01M1075.6,182.4h.01M1076.9,170.7h.01M1077.9,185.3h.01M1082.8,180.2h.01M1077.1,174.2h.01M1087.0,182.3h.01M1077.0,167.9h.01M1075.1,196.0h.01M1076.1,180.3h.01M1082.1,179.8h.01M1079.9,172.4h.01M1076.5,191.1h.01M1077.8,186.0h.01M1073.7,179.1h.01M1082.3,187.1h.01M1076.2,184.4h.01M1082.8,176.3h.01M1083.2,175.3h.01M1077.7,180.7h.01M1069.3,180.1h.01M1076.8,171.8h.01M1079.3,185.5h.01M1079.4,188.5h.01M1076.1,172.7h.01M1087.9,183.2h.01M1085.3,175.7h.01M1084.7,182.4h.01M1084.0,180.9h.01M1086.4,176.8h.01M1076.9,171.7h.01M1086.2,176.3h.01M1076.6,175.0h.01M1090.6,159.5h.01M1091.2,162.3h.01M1090.1,160.8h.01M1092.7,163.0h.01M1093.0,166.1h.01M1094.0,155.5h.01M1090.2,161.5h.01M1095.9,158.1h.01M1089.4,163.7h.01M1091.0,169.4h.01M1090.6,169.3h.01M1086.1,157.1h.01M1097.9,166.9h.01M1094.7,165.6h.01M1094.6,159.7h.01M1096.7,162.7h.01M1096.8,165.4h.01M1083.9,159.4h.01M1097.5,164.4h.01M1090.8,166.1h.01M1090.7,162.6h.01M1093.0,165.7h.01M1099.2,165.2h.01M1100.7,172.9h.01M1100.0,169.7h.01M1093.1,165.6h.01M1091.9,161.8h.01M1092.2,162.2h.01M1099.7,167.4h.01M1090.6,156.6h.01M1092.3,163.2h.01M1087.8,160.1h.01M1082.7,167.5h.01M1092.2,176.3h.01M1092.4,164.4h.01M1098.8,165.6h.01M1093.2,163.4h.01M1089.9,171.6h.01M1096.9,172.5h.01M1091.0,165.2h.01M1098.4,180.6h.01M1095.7,178.5h.01M1108.8,182.9h.01M1098.1,181.3h.01M1099.3,171.6h.01M1096.1,181.6h.01M1111.7,172.4h.01M1099.0,173.8h.01M1116.2,180.8h.01M1100.2,166.1h.01M1099.5,181.8h.01M1112.8,174.1h.01M1099.4,172.9h.01M1093.1,180.3h.01M1097.3,181.1h.01M1094.1,168.9h.01M1104.5,171.5h.01M1107.1,175.6h.01M1096.9,178.8h.01M1107.4,165.5h.01M1112.6,178.1h.01M1107.0,165.8h.01M1099.2,173.7h.01M1108.7,167.9h.01M1098.4,164.9h.01M1101.8,177.4h.01M1094.2,172.4h.01M1105.7,183.9h.01M1106.5,173.9h.01M1096.8,170.6h.01M1099.5,176.3h.01M1102.8,184.3h.01M1104.5,169.9h.01M1111.1,180.5h.01M1103.6,171.7h.01M1093.2,170.2h.01M1107.8,171.3h.01M1096.1,176.6h.01M1104.3,178.7h.01M1106.5,182.9h.01M1093.4,206.9h.01M1092.6,204.9h.01M1098.7,201.7h.01M1102.9,199.9h.01M1103.6,206.2h.01M1098.5,196.1h.01M1093.8,196.3h.01M1096.7,199.9h.01M1113.4,204.5h.01M1101.8,194.0h.01M1094.0,197.8h.01M1098.8,192.8h.01M1106.2,196.1h.01M1103.4,183.7h.01M1097.7,202.0h.01M1098.8,204.3h.01M1099.2,201.2h.01M1087.8,195.0h.01M1099.4,198.7h.01M1093.5,196.0h.01M1107.5,212.2h.01M1097.5,209.1h.01M1089.4,186.5h.01M1095.2,193.9h.01M1094.8,201.4h.01M1113.7,195.4h.01M1098.0,202.0h.01M1097.6,206.6h.01M1107.1,191.3h.01M1098.6,198.2h.01M1101.4,224.3h.01M1090.3,218.8h.01M1102.3,236.4h.01M1099.9,218.5h.01M1097.6,229.8h.01M1092.1,228.6h.01M1103.2,238.9h.01M1099.4,238.7h.01M1096.3,235.6h.01M1099.7,238.9h.01M1099.2,234.1h.01M1098.8,230.5h.01M1111.2,238.7h.01M1106.9,224.2h.01M1103.2,240.9h.01M1109.4,244.3h.01M1103.6,226.8h.01M1094.9,236.9h.01M1102.2,227.9h.01M1097.5,232.3h.01M1099.8,237.4h.01M1098.0,226.4h.01M1106.0,246.2h.01M1099.0,242.2h.01M1101.9,239.7h.01M1102.0,229.7h.01M1102.5,242.1h.01M1110.0,240.3h.01M1097.7,230.9h.01M1095.2,235.9h.01M1092.3,135.9h.01M1078.4,150.3h.01M1108.5,129.8h.01M1097.3,134.2h.01M1094.4,128.2h.01M1091.7,122.8h.01M1093.8,129.8h.01M1094.8,122.5h.01M1092.8,130.4h.01M1096.7,120.7h.01M1095.5,138.6h.01M1096.7,126.8h.01M1089.1,128.0h.01M1097.6,143.6h.01M1091.4,124.4h.01M1095.1,131.8h.01M1086.2,123.6h.01M1091.8,135.9h.01M1084.2,121.1h.01M1096.0,119.3h.01M1093.3,133.1h.01M1091.7,121.1h.01M1092.1,127.1h.01M1094.9,122.7h.01M1100.2,115.4h.01M1187.2,163.4h.01M1191.6,158.0h.01M1190.0,158.3h.01M1190.8,178.5h.01M1186.4,167.2h.01M1184.3,171.8h.01M1192.6,163.6h.01M1183.6,166.8h.01M1192.3,172.8h.01M1191.1,147.3h.01M1185.3,175.7h.01M1183.2,173.2h.01M1195.2,170.0h.01M1192.2,160.4h.01M1183.2,162.4h.01M1187.2,162.9h.01M1190.6,162.0h.01M1188.7,167.0h.01M1187.9,179.4h.01M1189.6,164.0h.01M1187.1,157.8h.01M1193.1,164.6h.01M1183.8,158.4h.01M1187.4,159.4h.01M1192.1,153.1h.01M1189.8,164.5h.01M1183.4,163.7h.01M1187.6,167.7h.01M1186.2,165.9h.01M1181.5,153.8h.01M1190.9,172.4h.01M1187.9,158.0h.01M1192.1,145.0h.01M1184.8,169.2h.01M1190.4,154.2h.01M1180.7,176.0h.01M1188.5,155.4h.01M1188.1,171.2h.01M1177.9,173.0h.01M1190.8,145.1h.01M1190.9,147.7h.01M1192.3,166.8h.01M1187.9,172.4h.01M1185.5,157.1h.01M1186.5,162.6h.01M1183.8,167.5h.01M1190.0,163.9h.01M1194.5,160.4h.01M1193.0,158.5h.01M1190.8,146.3h.01M1188.7,161.7h.01M1186.0,157.9h.01M1186.6,157.0h.01M1179.5,158.1h.01M1185.8,158.7h.01M1183.8,162.1h.01M1190.9,161.1h.01M1186.0,175.2h.01M1191.7,171.4h.01M1192.4,160.4h.01M1187.4,173.0h.01M1185.8,162.2h.01M1189.4,166.5h.01M1186.9,171.9h.01M1187.2,169.6h.01M1192.0,169.1h.01M1190.7,153.1h.01M1182.9,157.9h.01M1189.8,176.4h.01M1183.2,166.0h.01M1184.6,156.9h.01M1186.9,169.3h.01M1188.7,173.6h.01M1184.1,171.1h.01M1191.5,163.9h.01M1189.8,158.4h.01M1183.7,159.7h.01M1185.4,188.6h.01M1186.1,177.7h.01M1188.7,166.0h.01M1190.8,156.5h.01M1191.5,166.6h.01M1182.1,168.5h.01M1190.0,167.2h.01M1194.0,159.7h.01M1189.9,169.8h.01M1184.5,173.8h.01M1182.3,151.9h.01M1189.9,153.8h.01M1187.5,148.9h.01M1184.0,178.1h.01M1185.6,175.3h.01M1186.3,184.2h.01M1183.9,185.6h.01M1184.3,176.8h.01M1167.8,186.3h.01M1177.8,182.9h.01M1186.2,172.1h.01M1178.9,181.8h.01M1177.1,188.3h.01M1182.7,180.3h.01M1177.5,191.7h.01M1179.5,190.1h.01M1186.3,172.8h.01M1176.9,186.1h.01M1185.6,191.5h.01M1188.5,193.3h.01M1181.3,184.6h.01M1188.3,183.1h.01M1190.0,174.9h.01M1187.5,184.8h.01M1171.5,192.9h.01M1185.5,186.2h.01M1176.9,182.8h.01M1192.8,180.2h.01M1162.3,180.0h.01M1176.2,185.1h.01M1181.1,179.7h.01M1178.4,193.4h.01M1174.7,199.7h.01M1180.2,178.4h.01M1188.4,190.0h.01M1177.2,191.3h.01M1172.3,179.6h.01M1190.4,184.2h.01M1175.6,189.6h.01M1189.2,185.9h.01M1172.5,183.6h.01M1186.1,191.4h.01M1180.6,185.8h.01M1190.9,179.4h.01M1191.5,166.8h.01M1188.4,181.3h.01M1186.4,190.9h.01M1176.3,185.4h.01M1185.0,190.2h.01M1177.8,179.1h.01M1182.4,184.5h.01M1174.4,192.6h.01M1180.3,196.1h.01M1188.8,186.2h.01M1188.0,178.3h.01M1181.5,182.0h.01M1175.8,186.2h.01M1182.7,196.1h.01M1163.0,181.3h.01M1177.9,182.8h.01M1186.1,188.9h.01M1183.7,182.7h.01M1186.6,188.6h.01M1172.3,184.2h.01M1175.1,177.8h.01M1184.4,186.5h.01M1184.2,179.9h.01M1182.3,179.6h.01M1185.9,190.9h.01M1178.6,182.8h.01M1177.8,188.2h.01M1170.1,177.2h.01M1175.6,189.6h.01M1183.6,188.1h.01M1194.5,180.2h.01M1178.4,199.8h.01M1185.6,180.6h.01M1171.1,175.4h.01M1168.6,186.5h.01M1183.8,193.0h.01M1182.7,181.2h.01M1179.0,199.4h.01M1172.7,187.3h.01M1183.7,190.4h.01M1181.1,189.5h.01M1188.5,185.0h.01M1180.7,184.7h.01M1177.6,184.6h.01M1181.7,187.5h.01M1180.8,190.3h.01M1185.4,191.4h.01M1183.7,187.9h.01M1180.7,180.5h.01M1185.6,152.4h.01M1184.7,143.4h.01M1183.0,134.0h.01M1174.0,145.7h.01M1182.7,133.0h.01M1177.6,152.2h.01M1173.9,157.3h.01M1184.6,163.7h.01M1178.7,138.5h.01M1179.6,140.4h.01M1180.9,130.9h.01M1186.5,130.5h.01M1179.6,144.6h.01M1179.4,134.2h.01M1183.4,134.9h.01M1176.3,137.7h.01M1180.8,156.7h.01M1177.0,149.0h.01M1178.4,135.0h.01M1180.4,141.6h.01M1185.6,157.2h.01M1179.0,152.7h.01M1186.2,147.3h.01M1178.5,148.2h.01M1181.3,142.5h.01M1180.6,145.7h.01M1186.7,150.7h.01M1180.9,149.2h.01M1188.1,129.0h.01M1188.2,124.7h.01M1184.2,145.0h.01M1188.3,141.7h.01M1179.7,130.4h.01M1176.3,146.8h.01M1180.8,131.2h.01M1184.1,130.7h.01M1179.9,134.0h.01M1189.0,154.1h.01M1181.1,122.3h.01M1183.0,139.5h.01M1183.3,144.7h.01M1180.4,148.5h.01M1185.5,141.0h.01M1180.0,133.7h.01M1184.8,127.2h.01M1181.1,130.9h.01M1175.7,145.1h.01M1181.7,139.2h.01M1185.6,123.1h.01M1181.5,141.8h.01M1185.4,127.4h.01M1184.9,141.1h.01M1187.7,150.7h.01M1184.2,161.3h.01M1181.8,134.3h.01M1180.3,128.9h.01M1181.7,119.0h.01M1181.4,143.2h.01M1186.1,135.1h.01M1187.9,131.9h.01M1167.1,99.4h.01M1163.8,107.0h.01M1175.5,116.1h.01M1162.1,116.2h.01M1170.3,110.9h.01M1167.9,110.4h.01M1165.0,100.4h.01M1167.3,121.3h.01M1175.1,110.6h.01M1164.0,111.1h.01M1172.4,114.9h.01M1164.8,115.0h.01M1166.7,116.0h.01M1165.7,102.5h.01M1168.1,117.7h.01M1162.1,111.8h.01M1172.3,110.0h.01M1164.5,126.4h.01M1172.0,119.5h.01M1163.0,123.7h.01M1159.3,109.0h.01M1171.6,121.6h.01M1163.0,108.0h.01M1168.8,99.4h.01M1171.1,116.3h.01M1165.5,116.2h.01M1171.8,114.6h.01M1170.5,122.8h.01M1165.4,113.6h.01M1165.1,119.5h.01M1165.7,115.7h.01M1168.5,113.0h.01M1176.5,111.9h.01M1175.0,118.1h.01M1174.5,111.4h.01M1172.5,117.6h.01M1164.7,114.3h.01M1167.1,112.3h.01M1174.4,107.6h.01M1159.3,100.7h.01M1165.5,108.2h.01M1167.9,116.3h.01M1176.7,114.6h.01M1170.1,107.6h.01M1170.7,121.7h.01M1174.6,99.3h.01M1172.3,123.2h.01M1172.0,102.4h.01M1166.2,116.5h.01M1169.9,107.0h.01M1156.3,105.2h.01M1154.0,107.5h.01M1160.9,101.8h.01M1154.0,97.2h.01M1164.3,92.8h.01M1171.3,93.2h.01M1154.6,100.5h.01M1163.2,104.0h.01M1158.9,99.2h.01M1159.6,97.4h.01M1147.8,105.1h.01M1162.1,101.1h.01M1157.6,101.5h.01M1160.7,99.9h.01M1166.4,91.6h.01M1162.1,94.9h.01M1159.2,107.8h.01M1155.3,99.8h.01M1157.8,105.1h.01M1155.8,91.8h.01M1163.4,98.5h.01M1159.2,105.7h.01M1156.3,98.4h.01M1161.5,102.3h.01M1158.2,105.5h.01M1172.1,98.2h.01M1167.9,98.5h.01M1161.5,98.5h.01M1157.6,93.8h.01M1158.8,106.8h.01M1166.5,98.5h.01M1158.1,96.7h.01M1154.7,109.4h.01M1164.1,100.9h.01M1158.3,95.1h.01M1167.4,104.2h.01M1156.0,105.3h.01M1155.2,103.5h.01M1155.9,98.2h.01M1163.3,102.4h.01M1151.9,85.5h.01M1154.7,96.5h.01M1146.7,92.1h.01M1142.9,89.0h.01M1140.1,90.2h.01M1147.8,96.5h.01M1151.6,93.9h.01M1145.0,88.6h.01M1145.1,90.9h.01M1137.1,93.6h.01M1138.9,87.2h.01M1146.9,87.2h.01M1155.2,89.3h.01M1154.7,95.7h.01M1144.3,91.8h.01M1153.3,88.1h.01M1147.2,86.9h.01M1147.1,88.0h.01M1147.2,94.8h.01M1153.8,90.4h.01M1147.8,94.1h.01M1145.3,84.4h.01M1152.4,85.0h.01M1151.5,84.9h.01M1156.0,84.5h.01M1151.1,97.3h.01M1141.9,97.2h.01M1142.6,80.9h.01M1150.4,93.3h.01M1145.8,77.0h.01M1146.5,88.2h.01M1144.9,88.3h.01M1137.8,86.9h.01M1155.9,97.6h.01M1145.0,86.2h.01M1148.8,95.1h.01M1150.4,83.9h.01M1147.6,90.5h.01M1154.0,95.8h.01M1149.4,95.9h.01M1161.8,189.8h.01M1161.6,183.1h.01M1167.3,175.4h.01M1160.5,170.4h.01M1164.1,180.5h.01M1162.0,183.7h.01M1154.5,180.6h.01M1163.8,179.2h.01M1166.7,191.1h.01M1161.5,175.3h.01M1160.9,181.3h.01M1165.9,175.7h.01M1167.6,174.8h.01M1166.9,183.3h.01M1165.4,193.5h.01M1162.3,179.8h.01M1165.4,185.9h.01M1157.8,182.4h.01M1160.3,184.5h.01M1169.2,181.1h.01M1163.0,181.9h.01M1151.0,185.3h.01M1165.8,181.8h.01M1161.7,176.5h.01M1162.7,187.9h.01M1163.0,188.7h.01M1152.6,178.1h.01M1164.6,180.7h.01M1156.4,176.9h.01M1168.7,173.2h.01M1159.3,174.3h.01M1161.1,184.6h.01M1165.9,168.8h.01M1169.5,177.3h.01M1160.9,190.6h.01M1163.1,173.5h.01M1160.7,176.5h.01M1159.2,178.8h.01M1167.1,182.8h.01M1157.6,197.2h.01M1159.3,181.5h.01M1163.5,185.3h.01M1162.0,183.5h.01M1172.3,181.4h.01M1158.9,182.7h.01M1160.0,178.6h.01M1164.2,182.8h.01M1162.2,185.8h.01M1162.6,173.1h.01M1167.1,178.6h.01M1157.1,162.3h.01M1154.4,166.4h.01M1140.7,158.8h.01M1147.3,170.9h.01M1144.1,168.9h.01M1156.6,167.1h.01M1154.9,163.0h.01M1152.0,166.0h.01M1153.8,168.0h.01M1151.2,162.1h.01M1149.7,166.8h.01M1145.1,159.8h.01M1150.3,162.7h.01M1150.9,153.8h.01M1150.6,164.0h.01M1155.3,156.7h.01M1150.7,167.0h.01M1154.1,170.1h.01M1156.5,160.6h.01M1154.7,163.6h.01M1148.7,171.5h.01M1149.4,161.4h.01M1150.3,161.4h.01M1156.3,166.6h.01M1157.9,166.8h.01M1149.4,169.4h.01M1149.3,163.1h.01M1151.3,165.2h.01M1157.1,162.5h.01M1153.5,164.9h.01M1146.7,160.4h.01M1151.1,166.7h.01M1153.4,167.1h.01M1152.2,163.1h.01M1153.8,160.8h.01M1146.4,163.6h.01M1146.0,162.9h.01M1148.9,162.7h.01M1151.8,161.7h.01M1150.3,157.8h.01M1142.3,171.1h.01M1143.6,161.2h.01M1137.5,176.8h.01M1129.2,173.7h.01M1142.0,176.1h.01M1134.0,176.7h.01M1142.3,170.6h.01M1145.3,175.3h.01M1141.6,173.3h.01M1144.3,176.0h.01M1147.3,177.8h.01M1138.4,174.4h.01M1146.2,173.7h.01M1143.5,178.2h.01M1140.6,163.7h.01M1142.2,176.6h.01M1142.2,171.7h.01M1147.7,174.9h.01M1138.4,171.9h.01M1143.4,170.0h.01M1136.5,185.7h.01M1148.2,180.9h.01M1148.5,178.6h.01M1133.0,181.6h.01M1147.8,178.0h.01M1131.6,181.9h.01M1148.5,173.0h.01M1142.2,179.5h.01M1141.1,181.1h.01M1141.9,179.1h.01M1142.0,168.0h.01M1136.5,191.6h.01M1143.0,182.2h.01M1147.3,184.3h.01M1144.4,172.5h.01M1141.6,165.8h.01M1140.6,180.2h.01M1130.5,176.5h.01M1145.7,182.3h.01M1136.8,172.2h.01M1137.2,193.1h.01M1149.5,214.1h.01M1140.9,209.4h.01M1149.0,196.7h.01M1158.0,182.9h.01M1146.4,201.5h.01M1157.6,212.3h.01M1151.8,209.3h.01M1149.4,202.5h.01M1145.8,197.3h.01M1140.5,213.3h.01M1144.5,185.9h.01M1148.1,199.8h.01M1147.7,212.4h.01M1146.2,198.2h.01M1143.0,199.9h.01M1144.5,201.4h.01M1142.4,213.2h.01M1151.2,205.6h.01M1150.4,205.6h.01M1150.2,209.7h.01M1151.9,209.2h.01M1144.2,200.0h.01M1143.1,206.6h.01M1151.0,196.9h.01M1149.8,217.9h.01M1153.1,192.4h.01M1146.3,204.4h.01M1146.6,202.7h.01M1152.8,202.3h.01M1139.4,239.9h.01M1144.5,235.8h.01M1142.1,225.6h.01M1138.7,232.6h.01M1139.6,216.5h.01M1150.9,227.1h.01M1141.3,238.7h.01M1132.7,244.2h.01M1141.1,239.6h.01M1142.6,237.1h.01M1145.6,235.0h.01M1135.7,225.0h.01M1144.8,244.7h.01M1142.2,238.7h.01M1145.9,238.4h.01M1150.1,224.8h.01M1146.4,233.8h.01M1143.4,229.2h.01M1141.0,228.0h.01M1153.7,235.1h.01M1148.8,228.4h.01M1130.8,222.6h.01M1145.8,244.9h.01M1144.8,228.2h.01M1143.8,228.2h.01M1137.9,233.5h.01M1143.0,229.5h.01M1140.5,228.7h.01M1146.2,244.6h.01M1136.8,236.9h.01M1144.1,128.6h.01M1152.7,134.8h.01M1159.7,125.3h.01M1143.6,128.4h.01M1154.0,124.1h.01M1158.1,144.4h.01M1142.3,133.1h.01M1159.0,113.6h.01M1153.4,128.1h.01M1142.3,141.2h.01M1153.5,125.9h.01M1155.1,135.5h.01M1157.3,135.0h.01M1154.8,120.0h.01M1149.2,131.1h.01M1133.1,148.2h.01M1149.4,121.0h.01M1139.6,132.1h.01M1152.3,125.0h.01M1149.2,122.4h.01M1146.9,129.2h.01M1147.6,135.8h.01M1151.1,131.1h.01M1154.8,140.9h.01M1156.1,132.0h.01M1120.6,166.5h.01M1118.8,176.7h.01M1124.6,169.4h.01M1108.6,161.6h.01M1125.6,179.0h.01M1126.1,162.7h.01M1120.1,173.5h.01M1112.9,174.4h.01M1120.2,166.3h.01M1109.6,177.6h.01M1125.9,166.0h.01M1111.9,178.1h.01M1128.4,170.0h.01M1138.6,170.1h.01M1111.5,179.5h.01M1120.3,174.4h.01M1122.7,165.2h.01M1110.1,170.7h.01M1136.7,165.2h.01M1136.2,173.5h.01M1110.9,173.9h.01M1128.1,165.9h.01M1100.5,174.5h.01M1110.9,175.0h.01M1102.7,171.1h.01M1114.0,161.9h.01M1119.8,173.2h.01M1116.6,164.0h.01M1124.4,160.1h.01M1127.7,175.4h.01M1139.4,178.1h.01M1125.9,173.8h.01M1122.6,163.0h.01M1137.2,175.6h.01M1119.4,164.2h.01M1137.4,175.7h.01M1110.2,176.6h.01M1141.6,171.9h.01M1126.4,169.2h.01M1115.9,179.3h.01M1153.7,172.8h.01M1121.0,177.4h.01M1119.2,177.0h.01M1130.7,165.1h.01M1111.3,171.5h.01M1130.8,173.9h.01M1134.9,162.7h.01M1127.3,167.8h.01M1123.3,174.2h.01M1112.4,170.5h.01M1110.4,173.8h.01M1113.6,168.7h.01M1124.5,167.6h.01M1134.0,167.7h.01M1130.9,174.0h.01M1111.7,170.6h.01M1113.8,169.6h.01M1119.5,184.4h.01M1118.0,182.7h.01M1126.8,163.2h.01M1098.7,176.6h.01M1102.0,176.9h.01M1132.7,174.7h.01M1120.1,170.3h.01M1124.9,170.0h.01M1116.8,169.5h.01M1134.2,167.8h.01M1126.1,164.2h.01M1115.0,162.7h.01M1120.3,176.7h.01M1125.4,168.7h.01M1128.5,169.7h.01M1126.1,173.9h.01M1127.8,155.2h.01M1109.0,177.3h.01M1121.2,187.2h.01M1119.9,168.3h.01M1137.5,175.8h.01M1141.6,175.5h.01M1120.2,176.9h.01M1114.3,169.0h.01M1116.6,170.5h.01M1130.2,168.8h.01M1125.5,168.7h.01M1131.2,153.4h.01M1120.2,173.2h.01M1111.3,178.9h.01M1124.5,180.7h.01M1132.0,176.4h.01M1120.8,164.7h.01M1120.0,168.9h.01M1124.8,168.9h.01M1153.3,161.2h.01M1134.2,168.9h.01M1119.8,178.3h.01M1122.3,163.8h.01M1126.5,170.7h.01M1101.4,173.4h.01M1111.6,167.0h.01M1127.2,174.1h.01M1119.3,186.7h.01M1126.5,167.9h.01M1124.7,171.2h.01M1099.9,161.4h.01M1108.2,186.0h.01M1120.4,170.2h.01M1116.5,178.7h.01M1122.6,183.6h.01M1130.3,183.2h.01M1121.1,174.6h.01M1117.9,170.9h.01M1104.7,168.1h.01M1112.6,167.6h.01M1134.6,173.8h.01M1134.7,177.8h.01M1131.6,178.8h.01M1116.1,177.5h.01M1119.0,168.5h.01M1134.4,186.6h.01M1112.4,183.8h.01M1127.2,200.2h.01M1123.9,212.6h.01M1124.5,205.2h.01M1114.7,209.1h.01M1127.4,216.7h.01M1126.2,220.0h.01M1116.4,208.4h.01M1124.3,218.9h.01M1123.2,214.0h.01M1123.1,230.0h.01M1109.4,208.5h.01M1136.9,211.2h.01M1111.5,210.1h.01M1113.8,201.9h.01M1123.6,226.1h.01M1125.0,215.6h.01M1128.3,210.8h.01M1117.2,207.8h.01M1124.3,206.0h.01M1118.3,205.2h.01M1113.4,198.4h.01M1121.7,205.1h.01M1122.5,223.0h.01M1124.0,208.5h.01M1115.4,197.9h.01M1124.5,200.0h.01M1124.8,197.9h.01M1123.1,208.1h.01M1128.2,204.8h.01M1120.1,211.3h.01M1122.6,225.9h.01M1120.8,203.4h.01M1120.4,213.6h.01M1123.7,215.8h.01M1114.1,233.8h.01M1133.1,208.5h.01M1115.1,210.4h.01M1124.7,186.2h.01M1122.4,193.9h.01M1125.0,222.8h.01M1128.4,193.6h.01M1130.4,218.0h.01M1120.1,213.9h.01M1131.2,205.4h.01M1122.2,203.1h.01M1129.1,187.0h.01M1130.6,199.0h.01M1127.7,192.4h.01M1116.8,202.8h.01M1127.2,192.4h.01M1125.8,202.4h.01M1129.6,205.7h.01M1125.1,207.1h.01M1132.8,205.2h.01M1122.1,228.8h.01M1122.7,215.7h.01M1117.9,210.8h.01M1108.9,209.9h.01M1118.5,193.6h.01M1113.9,220.3h.01M1124.8,193.5h.01M1133.0,201.8h.01M1120.1,211.3h.01M1115.6,192.5h.01M1117.9,220.7h.01M1127.9,192.8h.01M1129.4,209.1h.01M1125.2,209.3h.01M1124.7,198.7h.01M1116.9,201.7h.01M1120.1,215.1h.01M1115.1,224.9h.01M1118.5,202.8h.01M1126.4,213.2h.01M1120.3,198.0h.01M1116.4,192.6h.01M1129.0,219.7h.01M1133.3,213.8h.01M1124.2,216.4h.01M1127.9,206.2h.01M1124.4,230.6h.01M1112.3,194.6h.01M1116.6,216.4h.01M1129.3,205.4h.01M1126.2,208.3h.01M1124.0,203.3h.01M1122.1,208.7h.01M1128.9,231.4h.01M1111.6,214.2h.01M1122.2,218.6h.01M1131.2,240.3h.01M1129.1,228.7h.01M1107.9,246.3h.01M1132.5,228.6h.01M1133.2,239.6h.01M1101.6,241.1h.01M1114.0,242.9h.01M1116.5,230.0h.01M1109.3,233.6h.01M1130.9,230.5h.01M1137.8,239.7h.01M1117.7,226.9h.01M1108.5,238.8h.01M1133.2,227.9h.01M1122.3,233.2h.01M1120.1,238.4h.01M1139.9,230.8h.01M1129.4,242.4h.01M1119.9,234.1h.01M1111.0,242.3h.01M1117.8,230.6h.01M1122.8,229.3h.01M1113.5,233.0h.01M1134.8,233.7h.01M1126.7,225.2h.01M1118.9,224.7h.01M1121.4,239.2h.01M1107.7,229.1h.01M1124.5,228.8h.01M1129.0,241.6h.01M1126.0,232.2h.01M1121.9,230.8h.01M1121.2,237.2h.01M1119.7,241.6h.01M1144.2,231.4h.01M1125.2,240.6h.01M1127.7,233.4h.01M1118.2,241.8h.01M1127.6,238.5h.01M1115.5,239.3h.01M1129.0,233.8h.01M1106.4,239.2h.01M1112.4,225.8h.01M1120.3,238.7h.01M1122.7,227.2h.01M1110.1,231.3h.01M1122.4,229.4h.01M1109.6,246.9h.01M1115.2,234.0h.01M1117.6,231.1h.01M1122.6,233.0h.01M1127.5,227.0h.01M1121.6,240.3h.01M1132.3,238.8h.01M1122.6,224.5h.01M1108.7,241.7h.01M1128.0,238.9h.01M1108.2,220.6h.01M1113.3,227.0h.01M1123.6,228.1h.01M1138.4,133.9h.01M1116.6,141.4h.01M1125.6,132.4h.01M1130.6,146.8h.01M1109.8,135.8h.01M1111.3,127.1h.01M1128.7,140.6h.01M1132.2,139.2h.01M1101.7,136.9h.01M1115.5,131.0h.01M1111.0,140.9h.01M1119.3,147.0h.01M1127.1,127.3h.01M1131.4,143.4h.01M1122.6,130.8h.01M1140.3,130.3h.01M1121.4,127.3h.01M1109.5,128.3h.01M1133.4,143.0h.01M1118.1,130.1h.01M1121.7,139.0h.01M1106.7,131.1h.01M1121.2,140.6h.01M1123.0,139.3h.01M1109.5,124.3h.01M1125.5,132.3h.01M1121.0,135.1h.01M1127.2,133.1h.01M1137.1,137.2h.01M1127.7,140.2h.01M1132.9,139.1h.01M1104.3,133.8h.01M1141.4,139.4h.01M1128.0,139.4h.01M1115.7,133.5h.01M1115.6,143.0h.01M1126.0,146.2h.01M1127.4,146.7h.01M1127.0,130.9h.01M1140.2,138.8h.01M1134.5,138.1h.01M1118.9,137.9h.01M1110.7,130.9h.01M1113.1,134.3h.01M1108.3,136.5h.01M1125.4,147.5h.01M1141.2,136.8h.01M1131.4,135.9h.01M1126.3,136.8h.01M1116.7,137.4h.01M1112.1,123.2h.01M1120.3,116.6h.01M1119.8,123.7h.01M1117.6,123.3h.01M1126.2,128.0h.01M1114.8,120.8h.01M1125.8,127.7h.01M1124.1,124.5h.01M1112.2,118.8h.01M1133.7,120.0h.01M1137.2,118.1h.01M1120.4,114.4h.01M1126.7,122.4h.01M1136.2,122.0h.01M1120.5,115.2h.01M1121.7,125.4h.01M1127.4,126.6h.01M1128.2,121.1h.01M1126.5,122.0h.01M1113.1,128.7h.01M1124.9,116.7h.01M1124.9,122.5h.01M1129.2,127.5h.01M1101.2,123.7h.01M1132.9,117.2h.01M1109.4,122.5h.01M1124.6,122.8h.01M1114.6,119.2h.01M1123.6,124.5h.01M1137.5,122.5h.01M1118.1,111.0h.01M1129.7,120.7h.01M1121.5,117.0h.01M1127.4,113.5h.01M1123.0,121.8h.01M1124.4,126.9h.01M1121.6,121.7h.01M1128.2,114.5h.01M1120.2,121.6h.01M1128.9,117.8h.01" stroke="#000" stroke-width="1.15" stroke-linecap="round" fill="none" opacity="0.8"/>
<path d="M1158.6,178.1h.01M1057.6,165.3h.01M1131.6,195.7h.01M1159.4,129.3h.01M1143.6,183.0h.01M1064.1,176.9h.01M1075.6,95.8h.01M1106.5,165.3h.01M1119.9,140.8h.01M1077.0,167.8h.01M1088.7,84.5h.01M1126.5,233.9h.01M1104.0,102.6h.01M1109.0,147.0h.01M1128.3,210.0h.01M1141.9,163.6h.01M1136.2,162.0h.01M1135.2,235.0h.01M1181.1,126.3h.01M1153.4,138.1h.01M1127.3,166.3h.01M1123.2,133.5h.01M1192.9,144.2h.01M1150.7,211.7h.01M1059.0,156.9h.01M1135.7,166.2h.01M1086.1,145.8h.01M1117.8,162.0h.01M1122.0,146.4h.01M1099.8,165.0h.01M1104.1,129.1h.01M1102.4,169.0h.01M1178.9,148.3h.01M1110.1,176.7h.01M1134.5,138.2h.01M1096.2,191.0h.01M1124.3,128.4h.01M1122.9,151.9h.01M1142.2,169.7h.01M1100.5,91.6h.01M1072.5,150.7h.01M1070.0,197.7h.01M1119.9,145.2h.01M1055.7,187.5h.01M1121.6,202.4h.01M1098.9,195.9h.01M1163.0,189.9h.01M1188.1,148.9h.01M1122.9,116.0h.01M1122.4,212.2h.01M1155.0,163.0h.01M1137.8,95.8h.01M1097.4,226.0h.01M1148.6,151.4h.01M1057.6,143.3h.01M1148.9,177.4h.01M1157.5,161.5h.01M1144.1,208.5h.01M1095.3,83.8h.01M1122.6,198.5h.01M1191.0,172.0h.01M1131.2,197.4h.01M1186.0,141.3h.01M1066.4,116.5h.01M1065.0,111.4h.01M1116.8,176.0h.01M1129.4,161.7h.01M1106.0,180.3h.01M1190.4,142.8h.01M1110.8,247.0h.01M1131.4,179.7h.01M1107.0,208.9h.01M1104.0,105.1h.01M1119.5,134.8h.01M1160.2,138.2h.01M1127.9,146.6h.01M1137.8,124.9h.01M1104.7,120.8h.01M1151.8,160.1h.01M1144.3,140.7h.01M1089.6,99.2h.01M1107.1,129.9h.01M1135.0,176.7h.01M1166.7,152.4h.01M1088.2,102.3h.01M1125.1,177.0h.01M1121.8,208.2h.01M1100.4,154.3h.01M1112.5,208.2h.01M1125.3,120.8h.01M1133.3,192.7h.01M1089.9,191.3h.01M1089.9,112.0h.01M1132.3,145.7h.01M1123.3,170.8h.01M1101.4,167.9h.01M1052.8,178.6h.01M1141.2,172.6h.01M1094.4,162.2h.01M1128.2,214.2h.01M1134.8,171.4h.01M1089.3,203.3h.01M1175.6,132.1h.01M1151.4,174.2h.01M1120.2,90.5h.01M1136.1,138.3h.01M1174.4,135.8h.01M1124.1,190.1h.01M1143.0,130.8h.01M1153.3,178.6h.01M1167.2,131.2h.01M1120.2,137.5h.01M1084.2,171.4h.01M1140.9,232.5h.01M1107.5,178.3h.01M1174.2,152.1h.01M1125.1,165.1h.01M1090.9,106.3h.01M1173.0,167.1h.01M1118.9,93.0h.01M1127.6,219.5h.01M1070.1,111.3h.01M1149.5,118.7h.01M1145.9,138.9h.01M1131.2,228.2h.01M1137.6,145.4h.01M1124.8,171.9h.01M1099.0,168.8h.01M1149.5,239.5h.01M1127.8,217.5h.01M1099.3,132.7h.01M1137.7,127.6h.01M1172.5,157.9h.01M1102.0,206.3h.01M1165.9,165.3h.01M1184.5,158.1h.01M1119.8,215.7h.01M1055.8,126.6h.01M1144.2,187.7h.01M1136.9,181.0h.01M1062.8,148.4h.01M1134.1,146.3h.01M1125.0,189.7h.01M1079.4,128.5h.01M1157.0,146.9h.01M1165.8,138.9h.01M1129.1,164.0h.01M1113.0,200.1h.01M1073.3,189.1h.01M1091.1,106.3h.01M1147.6,184.3h.01M1089.3,99.6h.01M1151.2,150.0h.01M1096.2,143.8h.01M1109.8,120.3h.01M1125.9,208.0h.01M1054.6,146.2h.01M1085.7,116.3h.01M1173.9,161.6h.01M1091.0,83.8h.01M1105.0,131.6h.01M1127.5,213.4h.01M1152.2,148.7h.01M1149.1,135.6h.01M1118.3,108.7h.01M1144.7,184.8h.01M1130.1,198.3h.01M1146.3,164.3h.01M1082.7,188.6h.01M1175.4,190.6h.01M1178.1,133.6h.01M1096.2,170.6h.01M1113.8,159.2h.01M1110.2,130.2h.01M1081.8,100.0h.01M1148.0,242.5h.01M1111.3,196.4h.01M1149.1,93.9h.01M1096.6,139.5h.01M1178.3,164.1h.01M1116.7,116.6h.01M1126.3,160.2h.01M1154.9,229.8h.01M1155.2,159.0h.01M1115.5,240.4h.01M1131.2,157.2h.01M1147.6,152.4h.01M1094.0,212.9h.01M1102.1,207.4h.01M1087.4,163.4h.01M1140.2,165.5h.01M1132.7,177.6h.01M1072.3,101.0h.01M1116.7,110.4h.01M1092.9,159.8h.01M1174.9,129.0h.01M1147.2,167.6h.01M1106.4,109.6h.01M1115.5,120.9h.01M1172.5,197.0h.01M1148.0,234.9h.01M1124.6,181.1h.01M1091.9,100.0h.01M1141.5,184.3h.01M1103.4,145.6h.01M1099.8,129.0h.01M1119.7,213.1h.01M1194.0,174.3h.01M1129.1,200.8h.01M1077.7,96.1h.01M1133.3,201.5h.01M1103.8,123.2h.01M1140.2,189.5h.01M1133.1,114.6h.01M1093.2,235.0h.01M1180.9,182.7h.01M1134.5,166.9h.01M1096.3,155.4h.01M1092.9,166.3h.01M1079.4,151.4h.01M1110.5,95.0h.01M1125.7,133.5h.01M1163.0,180.2h.01M1087.7,162.2h.01M1106.5,125.6h.01M1100.7,212.4h.01M1088.0,199.3h.01M1106.5,141.2h.01M1060.0,178.6h.01M1120.0,172.3h.01M1157.4,200.6h.01M1094.1,127.8h.01M1128.6,102.2h.01M1161.4,185.0h.01M1157.9,171.7h.01M1125.0,129.9h.01M1135.9,170.5h.01M1151.1,213.5h.01M1136.1,130.3h.01M1085.3,179.5h.01M1146.5,185.4h.01M1144.6,153.4h.01M1117.8,244.2h.01M1092.5,131.7h.01M1051.8,176.1h.01M1119.9,130.5h.01M1104.1,191.7h.01M1120.6,217.1h.01M1148.0,156.3h.01M1146.7,121.4h.01M1106.3,186.4h.01M1161.1,106.0h.01M1161.0,144.2h.01M1117.9,207.9h.01M1092.3,192.8h.01M1106.4,175.6h.01M1067.5,197.8h.01M1135.7,121.0h.01M1097.4,115.3h.01M1135.3,134.3h.01M1082.3,146.5h.01M1140.3,114.4h.01M1140.3,138.2h.01M1093.0,89.6h.01M1074.3,140.9h.01M1131.6,204.7h.01M1122.4,182.2h.01M1117.4,168.7h.01M1131.7,121.9h.01M1137.7,166.5h.01M1120.6,123.2h.01M1077.4,170.6h.01M1098.6,227.1h.01M1162.8,121.7h.01M1103.0,147.0h.01M1070.3,151.0h.01M1106.5,127.1h.01M1094.2,196.0h.01M1190.1,137.2h.01M1181.7,173.3h.01M1056.3,192.5h.01M1104.2,168.0h.01M1132.6,110.2h.01M1135.3,243.5h.01M1132.5,123.0h.01M1081.6,178.9h.01M1133.8,200.5h.01M1144.4,219.0h.01M1054.6,157.9h.01M1180.7,158.0h.01M1130.4,125.9h.01M1171.0,122.5h.01M1124.9,169.1h.01M1098.7,147.3h.01M1067.4,190.9h.01M1120.2,200.2h.01M1074.4,188.3h.01M1102.6,162.6h.01M1163.8,159.7h.01M1125.1,198.2h.01M1094.2,154.6h.01M1140.2,224.6h.01M1105.4,77.7h.01M1135.6,150.2h.01M1168.5,138.5h.01M1137.1,168.3h.01M1142.2,82.4h.01M1154.0,203.4h.01M1123.2,193.0h.01M1147.0,203.8h.01M1093.8,127.8h.01M1139.1,189.4h.01M1147.9,175.5h.01M1100.6,215.0h.01M1143.4,212.9h.01M1092.5,164.3h.01M1101.0,142.0h.01M1130.9,175.9h.01M1087.3,186.0h.01M1084.5,180.2h.01M1105.7,109.2h.01M1117.6,155.4h.01M1165.3,89.3h.01M1162.7,132.5h.01M1087.4,176.2h.01M1059.0,132.2h.01M1148.8,197.7h.01M1064.5,115.7h.01M1078.3,141.8h.01M1131.6,181.7h.01M1161.9,165.8h.01M1069.5,165.9h.01M1089.4,210.4h.01M1181.0,125.8h.01M1081.8,164.9h.01M1130.2,118.3h.01M1091.3,195.8h.01M1086.8,147.8h.01M1151.8,162.7h.01M1142.0,188.2h.01M1155.6,172.6h.01M1095.0,171.9h.01M1107.1,173.3h.01M1137.3,162.3h.01M1129.1,165.8h.01M1105.6,86.5h.01M1142.9,178.3h.01M1148.5,223.4h.01M1080.7,179.0h.01M1121.6,196.2h.01" stroke="#000" stroke-width="0.9" stroke-linecap="round" fill="none" opacity="0.75"/>
</g>
<path d="M1121.9,83.1 C1121.1,82.0 1119.9,78.1 1117.9,76.5 C1115.9,74.8 1113.1,73.6 1110.0,73.1 C1107.0,72.7 1103.0,73.0 1099.5,73.8 C1096.0,74.7 1092.5,76.2 1089.0,78.4 C1085.5,80.5 1082.0,83.3 1078.5,86.8 C1075.0,90.3 1071.2,94.5 1068.0,99.4 C1064.8,104.3 1061.7,110.3 1059.3,116.0 C1056.8,121.7 1054.7,127.7 1053.1,133.5 C1051.5,139.4 1050.4,145.2 1049.6,151.0 C1048.9,156.9 1048.8,163.3 1048.8,168.5 C1048.8,173.8 1048.8,178.5 1049.6,182.5 C1050.5,186.6 1052.1,190.3 1054.0,193.0 C1055.9,195.8 1058.4,197.9 1061.0,199.2 C1063.6,200.5 1067.0,201.1 1069.8,200.9 C1072.5,200.8 1075.3,199.8 1077.6,198.3 C1080.0,196.8 1082.2,191.9 1083.8,192.2 C1085.3,192.5 1086.7,197.0 1086.9,200.0 C1087.1,203.1 1084.9,206.8 1084.8,210.5 C1084.7,214.3 1085.6,219.0 1086.4,222.8 C1087.2,226.6 1088.8,230.1 1089.5,233.3 C1090.3,236.5 1089.2,239.8 1091.1,242.1 C1093.1,244.3 1096.1,245.6 1101.3,246.6 C1106.5,247.7 1115.3,248.4 1122.3,248.4 C1129.3,248.4 1138.1,247.7 1143.3,246.6 C1148.5,245.6 1151.5,244.3 1153.4,242.1 C1155.4,239.8 1154.2,236.5 1155.0,233.3 C1155.8,230.1 1157.4,226.6 1158.2,222.8 C1158.9,219.0 1159.8,214.3 1159.7,210.5 C1159.6,206.8 1157.5,203.1 1157.6,200.0 C1157.8,197.0 1159.2,192.5 1160.8,192.2 C1162.3,191.9 1164.6,196.8 1166.9,198.3 C1169.2,199.8 1172.0,200.8 1174.8,200.9 C1177.6,201.1 1180.9,200.5 1183.5,199.2 C1186.2,197.9 1188.7,195.8 1190.5,193.0 C1192.4,190.3 1194.0,186.6 1194.9,182.5 C1195.8,178.5 1195.8,173.8 1195.8,168.5 C1195.8,163.3 1195.7,156.9 1194.9,151.0 C1194.2,145.2 1193.0,139.4 1191.4,133.5 C1189.8,127.7 1187.8,121.7 1185.3,116.0 C1182.8,110.3 1179.8,104.3 1176.5,99.4 C1173.3,94.5 1169.5,90.3 1166.0,86.8 C1162.5,83.3 1159.0,80.5 1155.5,78.4 C1152.0,76.2 1148.5,74.7 1145.0,73.8 C1141.5,73.0 1137.6,72.7 1134.5,73.1 C1131.5,73.6 1128.6,74.8 1126.7,76.5 C1124.7,78.1 1123.4,82.0 1122.6,83.1 C1121.8,84.2 1122.7,84.2 1121.9,83.1Z" stroke="#111" stroke-width="1.6" fill="none" />
<path d="M1085.2,190.9 C1083.9,192.0 1080.0,198.8 1077.6,197.4 C1075.3,196.0 1072.6,187.9 1071.2,182.5 C1069.7,177.1 1068.7,170.9 1068.9,165.0 C1069.1,159.2 1070.6,153.4 1072.4,147.5 C1074.1,141.7 1076.6,135.1 1079.4,130.0 C1082.2,124.9 1085.7,120.4 1089.0,116.9 C1092.4,113.4 1096.1,110.9 1099.5,109.0 C1103.0,107.2 1108.0,106.4 1109.7,105.9" stroke="#111" stroke-width="2.0" fill="none" />
<path d="M1159.4,190.9 C1160.6,192.0 1164.6,198.8 1166.9,197.4 C1169.2,196.0 1171.9,187.9 1173.4,182.5 C1174.9,177.1 1175.9,170.9 1175.7,165.0 C1175.5,159.2 1173.9,153.4 1172.2,147.5 C1170.4,141.7 1167.9,135.1 1165.2,130.0 C1162.4,124.9 1158.9,120.4 1155.5,116.9 C1152.2,113.4 1148.5,110.9 1145.0,109.0 C1141.6,107.2 1136.6,106.4 1134.9,105.9" stroke="#111" stroke-width="2.0" fill="none" />
<path d="M1108.6,113.4 C1108.6,115.0 1109.8,119.4 1108.6,123.0 C1107.4,126.7 1104.2,132.4 1101.3,135.3 C1098.3,138.2 1094.0,138.2 1090.8,140.5 C1087.6,142.9 1084.2,146.1 1082.0,149.3 C1079.8,152.5 1078.8,157.2 1077.6,159.8 C1076.5,162.4 1075.4,164.2 1075.0,165.0" stroke="#111" stroke-width="1.6" fill="none" />
<path d="M1135.9,113.4 C1135.9,115.0 1134.7,119.4 1135.9,123.0 C1137.2,126.7 1140.3,132.4 1143.3,135.3 C1146.3,138.2 1150.6,138.2 1153.8,140.5 C1157.0,142.9 1160.4,146.1 1162.5,149.3 C1164.7,152.5 1165.7,157.2 1166.9,159.8 C1168.1,162.4 1169.1,164.2 1169.5,165.0" stroke="#111" stroke-width="1.6" fill="none" />
<path d="M1110.0,132.6 C1108.3,133.4 1102.9,135.1 1099.5,137.0 C1096.2,138.9 1092.5,141.1 1089.9,144.0 C1087.3,146.9 1085.3,151.0 1083.8,154.5 C1082.2,158.0 1081.1,163.3 1080.6,165.0" stroke="#111" stroke-width="2.6" fill="none" />
<path d="M1110.0,132.6 C1108.3,133.4 1102.9,135.1 1099.5,137.0 C1096.2,138.9 1092.5,141.1 1089.9,144.0 C1087.3,146.9 1085.3,151.0 1083.8,154.5 C1082.2,158.0 1081.1,163.3 1080.6,165.0" stroke="#dcdcdc" stroke-width="1.4" fill="none" />
<path d="M1134.5,132.6 C1136.3,133.4 1141.7,135.1 1145.0,137.0 C1148.4,138.9 1152.0,141.1 1154.7,144.0 C1157.3,146.9 1159.2,151.0 1160.8,154.5 C1162.3,158.0 1163.4,163.3 1163.9,165.0" stroke="#111" stroke-width="2.6" fill="none" />
<path d="M1134.5,132.6 C1136.3,133.4 1141.7,135.1 1145.0,137.0 C1148.4,138.9 1152.0,141.1 1154.7,144.0 C1157.3,146.9 1159.2,151.0 1160.8,154.5 C1162.3,158.0 1163.4,163.3 1163.9,165.0" stroke="#dcdcdc" stroke-width="1.4" fill="none" />
<path d="M1075.0,167.1 C1076.5,167.2 1081.2,166.5 1083.8,167.7 C1086.3,168.8 1089.2,170.9 1090.4,173.8 C1091.6,176.7 1091.9,181.7 1091.1,185.2 C1090.4,188.7 1088.1,192.5 1085.9,194.8 C1083.6,197.0 1079.0,198.0 1077.6,198.6" stroke="#111" stroke-width="1.4" fill="none" />
<path d="M1169.5,167.1 C1168.1,167.2 1163.4,166.5 1160.8,167.7 C1158.2,168.8 1155.4,170.9 1154.1,173.8 C1152.9,176.7 1152.7,181.7 1153.4,185.2 C1154.2,188.7 1156.4,192.5 1158.7,194.8 C1160.9,197.0 1165.5,198.0 1166.9,198.6" stroke="#111" stroke-width="1.4" fill="none" />
<path d="M1122.3,134.4 C1120.2,134.6 1114.1,134.7 1110.0,135.6 C1105.9,136.5 1101.0,137.7 1097.8,139.6 C1094.6,141.6 1092.5,144.5 1090.8,147.5 C1089.0,150.6 1087.0,155.1 1087.3,158.0 C1087.6,160.9 1091.6,163.9 1092.5,165.0" stroke="#111" stroke-width="1.2" fill="none" />
<path d="M1122.3,134.4 C1124.3,134.6 1130.4,134.7 1134.5,135.6 C1138.6,136.5 1143.6,137.7 1146.8,139.6 C1150.0,141.6 1152.0,144.5 1153.8,147.5 C1155.5,150.6 1157.6,155.1 1157.3,158.0 C1157.0,160.9 1152.9,163.9 1152.0,165.0" stroke="#111" stroke-width="1.2" fill="none" />
<path d="M1112.6,134.4 C1114.1,133.7 1119.1,132.6 1122.3,132.6 C1125.5,132.6 1130.4,133.7 1131.9,134.4 C1133.4,135.1 1132.6,136.8 1131.0,137.0 C1129.4,137.2 1125.2,135.6 1122.3,135.6 C1119.4,135.6 1115.1,137.2 1113.5,137.0 C1111.9,136.8 1111.2,135.1 1112.6,134.4Z" stroke="#111" stroke-width="1" fill="#eee" />
<path d="M1122.3,173.8 C1121.2,173.8 1120.0,178.2 1119.1,180.8 C1118.2,183.4 1116.9,187.5 1117.0,189.5 C1117.1,191.6 1118.8,193.0 1119.6,193.0 C1120.5,193.1 1121.4,189.9 1122.3,189.9 C1123.2,189.9 1124.0,193.1 1124.9,193.0 C1125.8,193.0 1127.4,191.6 1127.5,189.5 C1127.6,187.5 1126.3,183.4 1125.4,180.8 C1124.6,178.2 1123.3,173.8 1122.3,173.8Z" stroke="#111" stroke-width="1.6" fill="#ddd" />
<path d="M1122.3,182.5 C1121.8,182.5 1120.9,184.9 1120.9,186.0 C1120.9,187.2 1121.8,189.5 1122.3,189.5 C1122.7,189.5 1123.7,187.2 1123.7,186.0 C1123.7,184.9 1122.7,182.5 1122.3,182.5Z" stroke="#111" stroke-width="1" fill="#fff" />
<path d="M1090.8,193.0 C1090.3,194.5 1089.0,198.6 1088.1,201.8 C1087.3,205.0 1086.0,208.5 1085.9,212.3 C1085.8,216.1 1086.8,220.8 1087.6,224.6 C1088.4,228.3 1090.2,233.3 1090.8,235.1" stroke="#111" stroke-width="1.4" fill="none" />
<path d="M1092.5,194.8 C1092.3,196.5 1091.6,201.5 1091.1,205.3 C1090.7,209.1 1089.8,213.8 1089.9,217.5 C1090.0,221.3 1091.3,226.3 1091.6,228.1" stroke="#111" stroke-width="0.9" fill="none" />
<circle cx="1116.15" cy="165.03" r="1.10" fill="#111" stroke="none" stroke-width="1" />
<circle cx="1115.27" cy="127.92" r="1.10" fill="#111" stroke="none" stroke-width="1" />
<circle cx="1114.40" cy="137.90" r="1.10" fill="#111" stroke="none" stroke-width="1" />
<path d="M1153.8,193.0 C1154.2,194.5 1155.6,198.6 1156.4,201.8 C1157.2,205.0 1158.6,208.5 1158.7,212.3 C1158.8,216.1 1157.8,220.8 1156.9,224.6 C1156.1,228.3 1154.3,233.3 1153.8,235.1" stroke="#111" stroke-width="1.4" fill="none" />
<path d="M1152.0,194.8 C1152.3,196.5 1153.0,201.5 1153.4,205.3 C1153.9,209.1 1154.7,213.8 1154.7,217.5 C1154.6,221.3 1153.2,226.3 1152.9,228.1" stroke="#111" stroke-width="0.9" fill="none" />
<circle cx="1128.40" cy="165.03" r="1.10" fill="#111" stroke="none" stroke-width="1" />
<circle cx="1129.28" cy="127.92" r="1.10" fill="#111" stroke="none" stroke-width="1" />
<circle cx="1130.15" cy="137.90" r="1.10" fill="#111" stroke="none" stroke-width="1" />
<text x="759.50" y="319.40" style="font-size:17.8px" font-weight="bold" stroke="#000" stroke-width="0.5" textLength="10.20" lengthAdjust="spacingAndGlyphs">d</text>
<text x="894.70" y="329.50" textLength="206.60" lengthAdjust="spacingAndGlyphs">FOS counts ~ Novel*Time point +</text>
<text x="894.70" y="343.70" textLength="204.00" lengthAdjust="spacingAndGlyphs">Sex + (1|Batch) + ln(Total counts)</text>
<text x="894.70" y="374.90" textLength="194.60" lengthAdjust="spacingAndGlyphs">Link function: negative binomial</text>
</g>
<g id="E"><text x="0.20" y="430.00" style="font-size:17.8px" font-weight="bold" stroke="#000" stroke-width="0.5" textLength="10.20" lengthAdjust="spacingAndGlyphs">e</text>
<line x1="74.40" y1="483.10" x2="74.40" y2="669.70" stroke="#444" stroke-width="1" />
<line x1="67.00" y1="483.60" x2="74.40" y2="483.60" stroke="#444" stroke-width="1" />
<text x="60.00" y="488.40" text-anchor="end">5.0</text>
<line x1="67.00" y1="530.00" x2="74.40" y2="530.00" stroke="#444" stroke-width="1" />
<text x="60.00" y="534.80" text-anchor="end">2.5</text>
<line x1="67.00" y1="576.40" x2="74.40" y2="576.40" stroke="#444" stroke-width="1" />
<text x="60.00" y="581.20" text-anchor="end">0</text>
<line x1="67.00" y1="622.80" x2="74.40" y2="622.80" stroke="#444" stroke-width="1" />
<text x="60.00" y="627.60" text-anchor="end">−2.5</text>
<line x1="67.00" y1="669.20" x2="74.40" y2="669.20" stroke="#444" stroke-width="1" />
<text x="60.00" y="674.00" text-anchor="end">−5.0</text>
<text x="13.40" y="577.50" text-anchor="middle" transform="rotate(-90 13.40 577.50)" textLength="151.50" lengthAdjust="spacingAndGlyphs">Novel – familiar ΔFOS (<tspan font-style="italic">Z</tspan>)</text>
<line x1="139.60" y1="465.00" x2="179.60" y2="465.00" stroke="#444" stroke-width="1" />
<text x="159.40" y="466.50" text-anchor="middle" style="font-size:15px">*</text>
<line x1="99.60" y1="480.40" x2="179.60" y2="480.40" stroke="#444" stroke-width="1" />
<text x="139.60" y="482.40" text-anchor="middle" style="font-size:15px" textLength="24.50" lengthAdjust="spacingAndGlyphs">****</text>
<line x1="99.60" y1="495.60" x2="139.60" y2="495.60" stroke="#444" stroke-width="1" />
<text x="119.60" y="497.40" text-anchor="middle" style="font-size:15px" textLength="24.50" lengthAdjust="spacingAndGlyphs">****</text>
<circle cx="94.12" cy="557.75" r="2.30" fill="#fcd5bf" stroke="#111" stroke-width="0.55" />
<circle cx="97.60" cy="625.81" r="2.30" fill="#4695c4" stroke="#111" stroke-width="0.55" />
<circle cx="100.87" cy="570.20" r="2.30" fill="#f9ede5" stroke="#111" stroke-width="0.55" />
<circle cx="95.42" cy="599.23" r="2.30" fill="#bad9e9" stroke="#111" stroke-width="0.55" />
<circle cx="99.02" cy="586.58" r="2.30" fill="#e0ecf3" stroke="#111" stroke-width="0.55" />
<circle cx="99.74" cy="576.96" r="2.30" fill="#f6f6f7" stroke="#111" stroke-width="0.55" />
<circle cx="95.34" cy="550.88" r="2.30" fill="#f8bfa3" stroke="#111" stroke-width="0.55" />
<circle cx="99.43" cy="596.26" r="2.30" fill="#c5dfed" stroke="#111" stroke-width="0.55" />
<circle cx="92.31" cy="577.41" r="2.30" fill="#f5f6f7" stroke="#111" stroke-width="0.55" />
<circle cx="104.81" cy="596.24" r="2.30" fill="#c5dfed" stroke="#111" stroke-width="0.55" />
<circle cx="101.92" cy="598.22" r="2.30" fill="#bedbea" stroke="#111" stroke-width="0.55" />
<circle cx="101.05" cy="558.43" r="2.30" fill="#fcd7c2" stroke="#111" stroke-width="0.55" />
<circle cx="96.68" cy="593.35" r="2.30" fill="#d0e5f0" stroke="#111" stroke-width="0.55" />
<circle cx="99.89" cy="639.50" r="2.30" fill="#2970b1" stroke="#111" stroke-width="0.55" />
<circle cx="96.76" cy="535.61" r="2.30" fill="#e7876b" stroke="#111" stroke-width="0.55" />
<circle cx="92.70" cy="610.62" r="2.30" fill="#8ec3dd" stroke="#111" stroke-width="0.55" />
<circle cx="95.48" cy="560.70" r="2.30" fill="#fdddca" stroke="#111" stroke-width="0.55" />
<circle cx="105.70" cy="572.92" r="2.30" fill="#f8f1ed" stroke="#111" stroke-width="0.55" />
<circle cx="98.23" cy="560.23" r="2.30" fill="#fddcc9" stroke="#111" stroke-width="0.55" />
<circle cx="97.12" cy="542.86" r="2.30" fill="#f4a482" stroke="#111" stroke-width="0.55" />
<circle cx="99.76" cy="528.20" r="2.30" fill="#d96853" stroke="#111" stroke-width="0.55" />
<circle cx="101.59" cy="614.96" r="2.30" fill="#7ab6d6" stroke="#111" stroke-width="0.55" />
<circle cx="106.59" cy="589.24" r="2.30" fill="#dae9f2" stroke="#111" stroke-width="0.55" />
<circle cx="100.85" cy="590.83" r="2.30" fill="#d6e7f1" stroke="#111" stroke-width="0.55" />
<circle cx="110.63" cy="601.48" r="2.30" fill="#b1d5e7" stroke="#111" stroke-width="0.55" />
<circle cx="109.91" cy="584.84" r="2.30" fill="#e4eef3" stroke="#111" stroke-width="0.55" />
<circle cx="103.27" cy="612.95" r="2.30" fill="#83bcd9" stroke="#111" stroke-width="0.55" />
<circle cx="90.67" cy="608.70" r="2.30" fill="#96c7df" stroke="#111" stroke-width="0.55" />
<circle cx="99.78" cy="550.61" r="2.30" fill="#f8bea1" stroke="#111" stroke-width="0.55" />
<circle cx="91.70" cy="573.99" r="2.30" fill="#f8f3f0" stroke="#111" stroke-width="0.55" />
<circle cx="87.94" cy="591.24" r="2.30" fill="#d5e7f1" stroke="#111" stroke-width="0.55" />
<circle cx="98.20" cy="555.75" r="2.30" fill="#fbceb7" stroke="#111" stroke-width="0.55" />
<circle cx="100.16" cy="624.85" r="2.30" fill="#4b98c6" stroke="#111" stroke-width="0.55" />
<circle cx="102.80" cy="573.78" r="2.30" fill="#f8f3ef" stroke="#111" stroke-width="0.55" />
<circle cx="91.52" cy="593.58" r="2.30" fill="#cfe4ef" stroke="#111" stroke-width="0.55" />
<circle cx="94.09" cy="591.28" r="2.30" fill="#d5e7f1" stroke="#111" stroke-width="0.55" />
<circle cx="99.03" cy="632.08" r="2.30" fill="#3884bb" stroke="#111" stroke-width="0.55" />
<circle cx="108.32" cy="575.67" r="2.30" fill="#f7f6f5" stroke="#111" stroke-width="0.55" />
<circle cx="90.55" cy="598.20" r="2.30" fill="#bedbeb" stroke="#111" stroke-width="0.55" />
<circle cx="99.95" cy="515.15" r="2.30" fill="#be3036" stroke="#111" stroke-width="0.55" />
<circle cx="108.01" cy="578.27" r="2.30" fill="#f3f5f6" stroke="#111" stroke-width="0.55" />
<circle cx="95.84" cy="577.88" r="2.30" fill="#f4f5f6" stroke="#111" stroke-width="0.55" />
<circle cx="101.92" cy="542.70" r="2.30" fill="#f3a481" stroke="#111" stroke-width="0.55" />
<circle cx="94.13" cy="601.61" r="2.30" fill="#b1d5e7" stroke="#111" stroke-width="0.55" />
<circle cx="99.00" cy="629.24" r="2.30" fill="#3d8cbf" stroke="#111" stroke-width="0.55" />
<circle cx="97.79" cy="589.39" r="2.30" fill="#d9e9f2" stroke="#111" stroke-width="0.55" />
<circle cx="106.97" cy="611.78" r="2.30" fill="#89bfdb" stroke="#111" stroke-width="0.55" />
<circle cx="88.92" cy="583.99" r="2.30" fill="#e6eff4" stroke="#111" stroke-width="0.55" />
<circle cx="99.19" cy="580.22" r="2.30" fill="#eef3f5" stroke="#111" stroke-width="0.55" />
<circle cx="102.36" cy="578.51" r="2.30" fill="#f2f5f6" stroke="#111" stroke-width="0.55" />
<circle cx="107.03" cy="570.51" r="2.30" fill="#f9ede6" stroke="#111" stroke-width="0.55" />
<circle cx="109.65" cy="608.18" r="2.30" fill="#98c8e0" stroke="#111" stroke-width="0.55" />
<circle cx="104.68" cy="615.56" r="2.30" fill="#77b4d5" stroke="#111" stroke-width="0.55" />
<circle cx="104.18" cy="566.09" r="2.30" fill="#fbe6d9" stroke="#111" stroke-width="0.55" />
<circle cx="105.88" cy="562.92" r="2.30" fill="#fce0d0" stroke="#111" stroke-width="0.55" />
<circle cx="103.92" cy="621.01" r="2.30" fill="#5da3cc" stroke="#111" stroke-width="0.55" />
<circle cx="96.62" cy="595.98" r="2.30" fill="#c6dfed" stroke="#111" stroke-width="0.55" />
<circle cx="98.09" cy="564.30" r="2.30" fill="#fbe3d4" stroke="#111" stroke-width="0.55" />
<circle cx="90.90" cy="602.31" r="2.30" fill="#aed3e6" stroke="#111" stroke-width="0.55" />
<circle cx="106.15" cy="580.26" r="2.30" fill="#eef3f5" stroke="#111" stroke-width="0.55" />
<circle cx="103.66" cy="589.94" r="2.30" fill="#d8e8f1" stroke="#111" stroke-width="0.55" />
<circle cx="92.50" cy="568.12" r="2.30" fill="#fae9df" stroke="#111" stroke-width="0.55" />
<circle cx="100.00" cy="583.61" r="2.30" fill="#e7eff4" stroke="#111" stroke-width="0.55" />
<circle cx="93.51" cy="588.72" r="2.30" fill="#dbeaf2" stroke="#111" stroke-width="0.55" />
<circle cx="99.86" cy="508.57" r="2.30" fill="#ad172a" stroke="#111" stroke-width="0.55" />
<circle cx="99.88" cy="572.83" r="2.30" fill="#f8f1ed" stroke="#111" stroke-width="0.55" />
<circle cx="95.36" cy="604.80" r="2.30" fill="#a5cfe3" stroke="#111" stroke-width="0.55" />
<circle cx="108.87" cy="591.26" r="2.30" fill="#d5e7f1" stroke="#111" stroke-width="0.55" />
<circle cx="93.20" cy="563.42" r="2.30" fill="#fce1d2" stroke="#111" stroke-width="0.55" />
<circle cx="95.57" cy="618.48" r="2.30" fill="#69abd0" stroke="#111" stroke-width="0.55" />
<circle cx="98.30" cy="649.71" r="2.30" fill="#16518f" stroke="#111" stroke-width="0.55" />
<circle cx="98.83" cy="540.81" r="2.30" fill="#f09c7b" stroke="#111" stroke-width="0.55" />
<circle cx="96.03" cy="574.23" r="2.30" fill="#f8f3f1" stroke="#111" stroke-width="0.55" />
<circle cx="96.76" cy="583.69" r="2.30" fill="#e6eff4" stroke="#111" stroke-width="0.55" />
<circle cx="89.94" cy="605.62" r="2.30" fill="#a2cde3" stroke="#111" stroke-width="0.55" />
<circle cx="98.36" cy="621.64" r="2.30" fill="#5aa2cb" stroke="#111" stroke-width="0.55" />
<circle cx="105.48" cy="604.01" r="2.30" fill="#a8d0e4" stroke="#111" stroke-width="0.55" />
<circle cx="102.91" cy="581.78" r="2.30" fill="#ebf1f5" stroke="#111" stroke-width="0.55" />
<circle cx="112.69" cy="593.27" r="2.30" fill="#d0e5f0" stroke="#111" stroke-width="0.55" />
<circle cx="101.62" cy="602.77" r="2.30" fill="#add2e6" stroke="#111" stroke-width="0.55" />
<circle cx="99.47" cy="546.59" r="2.30" fill="#f6b191" stroke="#111" stroke-width="0.55" />
<circle cx="102.02" cy="622.95" r="2.30" fill="#549ec9" stroke="#111" stroke-width="0.55" />
<circle cx="103.73" cy="555.68" r="2.30" fill="#fbceb6" stroke="#111" stroke-width="0.55" />
<circle cx="100.31" cy="618.72" r="2.30" fill="#68aad0" stroke="#111" stroke-width="0.55" />
<circle cx="102.11" cy="587.60" r="2.30" fill="#deebf2" stroke="#111" stroke-width="0.55" />
<circle cx="100.11" cy="635.79" r="2.30" fill="#307ab6" stroke="#111" stroke-width="0.55" />
<circle cx="99.89" cy="511.44" r="2.30" fill="#b6202f" stroke="#111" stroke-width="0.55" />
<circle cx="92.67" cy="604.79" r="2.30" fill="#a5cfe3" stroke="#111" stroke-width="0.55" />
<circle cx="86.89" cy="597.45" r="2.30" fill="#c1ddeb" stroke="#111" stroke-width="0.55" />
<circle cx="91.59" cy="581.91" r="2.30" fill="#eaf1f5" stroke="#111" stroke-width="0.55" />
<circle cx="109.99" cy="580.68" r="2.30" fill="#edf2f5" stroke="#111" stroke-width="0.55" />
<circle cx="106.52" cy="599.16" r="2.30" fill="#bad9e9" stroke="#111" stroke-width="0.55" />
<circle cx="105.14" cy="584.31" r="2.30" fill="#e5eef4" stroke="#111" stroke-width="0.55" />
<circle cx="111.79" cy="589.44" r="2.30" fill="#d9e9f2" stroke="#111" stroke-width="0.55" />
<circle cx="98.76" cy="615.63" r="2.30" fill="#76b4d5" stroke="#111" stroke-width="0.55" />
<circle cx="107.24" cy="601.70" r="2.30" fill="#b1d5e7" stroke="#111" stroke-width="0.55" />
<circle cx="95.49" cy="566.21" r="2.30" fill="#fbe6da" stroke="#111" stroke-width="0.55" />
<circle cx="103.88" cy="550.59" r="2.30" fill="#f8bea1" stroke="#111" stroke-width="0.55" />
<circle cx="92.68" cy="586.19" r="2.30" fill="#e1ecf3" stroke="#111" stroke-width="0.55" />
<circle cx="87.89" cy="595.01" r="2.30" fill="#cae1ee" stroke="#111" stroke-width="0.55" />
<circle cx="102.50" cy="607.88" r="2.30" fill="#99c9e0" stroke="#111" stroke-width="0.55" />
<circle cx="89.54" cy="588.06" r="2.30" fill="#dceaf2" stroke="#111" stroke-width="0.55" />
<circle cx="100.90" cy="649.71" r="2.30" fill="#16518f" stroke="#111" stroke-width="0.55" />
<circle cx="100.60" cy="567.18" r="2.30" fill="#fae8dd" stroke="#111" stroke-width="0.55" />
<circle cx="107.77" cy="605.97" r="2.30" fill="#a0cce2" stroke="#111" stroke-width="0.55" />
<circle cx="103.86" cy="546.56" r="2.30" fill="#f6b191" stroke="#111" stroke-width="0.55" />
<circle cx="99.18" cy="521.45" r="2.30" fill="#cc4b43" stroke="#111" stroke-width="0.55" />
<circle cx="106.56" cy="594.30" r="2.30" fill="#cce3ef" stroke="#111" stroke-width="0.55" />
<circle cx="100.54" cy="605.31" r="2.30" fill="#a3cee3" stroke="#111" stroke-width="0.55" />
<circle cx="102.02" cy="595.32" r="2.30" fill="#c9e1ee" stroke="#111" stroke-width="0.55" />
<circle cx="92.00" cy="613.61" r="2.30" fill="#80bad8" stroke="#111" stroke-width="0.55" />
<circle cx="96.51" cy="570.54" r="2.30" fill="#f9ede6" stroke="#111" stroke-width="0.55" />
<circle cx="101.78" cy="537.38" r="2.30" fill="#ea8e70" stroke="#111" stroke-width="0.55" />
<circle cx="93.11" cy="570.79" r="2.30" fill="#f9eee7" stroke="#111" stroke-width="0.55" />
<circle cx="99.09" cy="608.42" r="2.30" fill="#97c8df" stroke="#111" stroke-width="0.55" />
<circle cx="99.75" cy="504.02" r="2.30" fill="#991027" stroke="#111" stroke-width="0.55" />
<circle cx="98.08" cy="530.45" r="2.30" fill="#dd715a" stroke="#111" stroke-width="0.55" />
<circle cx="94.57" cy="581.55" r="2.30" fill="#ebf1f5" stroke="#111" stroke-width="0.55" />
<circle cx="101.84" cy="561.83" r="2.30" fill="#fcdfcd" stroke="#111" stroke-width="0.55" />
<circle cx="100.63" cy="525.48" r="2.30" fill="#d45d4b" stroke="#111" stroke-width="0.55" />
<circle cx="104.12" cy="559.68" r="2.30" fill="#fddbc7" stroke="#111" stroke-width="0.55" />
<circle cx="101.84" cy="552.73" r="2.30" fill="#f9c4aa" stroke="#111" stroke-width="0.55" />
<circle cx="98.50" cy="603.17" r="2.30" fill="#abd2e5" stroke="#111" stroke-width="0.55" />
<circle cx="95.51" cy="555.37" r="2.30" fill="#fbcdb5" stroke="#111" stroke-width="0.55" />
<circle cx="105.65" cy="609.44" r="2.30" fill="#93c6de" stroke="#111" stroke-width="0.55" />
<circle cx="104.02" cy="601.01" r="2.30" fill="#b3d6e7" stroke="#111" stroke-width="0.55" />
<circle cx="96.08" cy="546.96" r="2.30" fill="#f6b292" stroke="#111" stroke-width="0.55" />
<circle cx="99.17" cy="534.03" r="2.30" fill="#e48066" stroke="#111" stroke-width="0.55" />
<circle cx="102.05" cy="628.21" r="2.30" fill="#408ec1" stroke="#111" stroke-width="0.55" />
<circle cx="94.07" cy="594.56" r="2.30" fill="#cce2ee" stroke="#111" stroke-width="0.55" />
<circle cx="96.17" cy="607.29" r="2.30" fill="#9bcae1" stroke="#111" stroke-width="0.55" />
<circle cx="95.70" cy="612.92" r="2.30" fill="#83bcd9" stroke="#111" stroke-width="0.55" />
<circle cx="143.17" cy="615.21" r="2.30" fill="#78b5d5" stroke="#111" stroke-width="0.55" />
<circle cx="136.61" cy="568.47" r="2.30" fill="#faeae0" stroke="#111" stroke-width="0.55" />
<circle cx="142.71" cy="526.35" r="2.30" fill="#d6604d" stroke="#111" stroke-width="0.55" />
<circle cx="142.28" cy="577.71" r="2.30" fill="#f4f6f6" stroke="#111" stroke-width="0.55" />
<circle cx="136.55" cy="571.10" r="2.30" fill="#f9eee8" stroke="#111" stroke-width="0.55" />
<circle cx="138.17" cy="623.72" r="2.30" fill="#509bc8" stroke="#111" stroke-width="0.55" />
<circle cx="131.13" cy="590.72" r="2.30" fill="#d6e8f1" stroke="#111" stroke-width="0.55" />
<circle cx="139.57" cy="544.36" r="2.30" fill="#f5a988" stroke="#111" stroke-width="0.55" />
<circle cx="142.13" cy="538.27" r="2.30" fill="#ec9273" stroke="#111" stroke-width="0.55" />
<circle cx="138.10" cy="579.04" r="2.30" fill="#f1f4f6" stroke="#111" stroke-width="0.55" />
<circle cx="136.46" cy="561.63" r="2.30" fill="#fcdecd" stroke="#111" stroke-width="0.55" />
<circle cx="130.89" cy="562.02" r="2.30" fill="#fcdfce" stroke="#111" stroke-width="0.55" />
<circle cx="146.53" cy="553.78" r="2.30" fill="#fac8af" stroke="#111" stroke-width="0.55" />
<circle cx="134.83" cy="604.19" r="2.30" fill="#a7d0e4" stroke="#111" stroke-width="0.55" />
<circle cx="141.31" cy="587.59" r="2.30" fill="#deebf2" stroke="#111" stroke-width="0.55" />
<circle cx="127.55" cy="568.62" r="2.30" fill="#faeae1" stroke="#111" stroke-width="0.55" />
<circle cx="141.94" cy="543.07" r="2.30" fill="#f4a582" stroke="#111" stroke-width="0.55" />
<circle cx="130.76" cy="569.42" r="2.30" fill="#faebe3" stroke="#111" stroke-width="0.55" />
<circle cx="151.21" cy="574.99" r="2.30" fill="#f8f5f3" stroke="#111" stroke-width="0.55" />
<circle cx="129.74" cy="556.56" r="2.30" fill="#fbd1ba" stroke="#111" stroke-width="0.55" />
<circle cx="145.00" cy="538.84" r="2.30" fill="#ed9475" stroke="#111" stroke-width="0.55" />
<circle cx="133.88" cy="597.17" r="2.30" fill="#c2ddec" stroke="#111" stroke-width="0.55" />
<circle cx="133.80" cy="591.79" r="2.30" fill="#d4e6f1" stroke="#111" stroke-width="0.55" />
<circle cx="137.36" cy="599.40" r="2.30" fill="#b9d9e9" stroke="#111" stroke-width="0.55" />
<circle cx="138.62" cy="616.59" r="2.30" fill="#72b1d3" stroke="#111" stroke-width="0.55" />
<circle cx="148.33" cy="573.90" r="2.30" fill="#f8f3f0" stroke="#111" stroke-width="0.55" />
<circle cx="142.84" cy="596.25" r="2.30" fill="#c5dfed" stroke="#111" stroke-width="0.55" />
<circle cx="141.74" cy="604.72" r="2.30" fill="#a5cfe3" stroke="#111" stroke-width="0.55" />
<circle cx="150.09" cy="550.16" r="2.30" fill="#f8bca0" stroke="#111" stroke-width="0.55" />
<circle cx="141.19" cy="622.05" r="2.30" fill="#58a0ca" stroke="#111" stroke-width="0.55" />
<circle cx="147.28" cy="546.13" r="2.30" fill="#f6af8f" stroke="#111" stroke-width="0.55" />
<circle cx="130.27" cy="585.49" r="2.30" fill="#e2edf3" stroke="#111" stroke-width="0.55" />
<circle cx="139.50" cy="529.52" r="2.30" fill="#dc6d57" stroke="#111" stroke-width="0.55" />
<circle cx="140.22" cy="535.91" r="2.30" fill="#e7886c" stroke="#111" stroke-width="0.55" />
<circle cx="139.12" cy="591.79" r="2.30" fill="#d4e6f1" stroke="#111" stroke-width="0.55" />
<circle cx="133.23" cy="587.72" r="2.30" fill="#ddebf2" stroke="#111" stroke-width="0.55" />
<circle cx="141.77" cy="592.19" r="2.30" fill="#d3e6f0" stroke="#111" stroke-width="0.55" />
<circle cx="128.92" cy="580.83" r="2.30" fill="#edf2f5" stroke="#111" stroke-width="0.55" />
<circle cx="142.35" cy="580.35" r="2.30" fill="#eef3f5" stroke="#111" stroke-width="0.55" />
<circle cx="140.25" cy="607.55" r="2.30" fill="#9bc9e0" stroke="#111" stroke-width="0.55" />
<circle cx="144.92" cy="574.76" r="2.30" fill="#f8f4f2" stroke="#111" stroke-width="0.55" />
<circle cx="143.23" cy="557.42" r="2.30" fill="#fcd4be" stroke="#111" stroke-width="0.55" />
<circle cx="143.39" cy="533.95" r="2.30" fill="#e48065" stroke="#111" stroke-width="0.55" />
<circle cx="148.11" cy="585.79" r="2.30" fill="#e2edf3" stroke="#111" stroke-width="0.55" />
<circle cx="138.86" cy="609.99" r="2.30" fill="#91c4de" stroke="#111" stroke-width="0.55" />
<circle cx="146.97" cy="558.17" r="2.30" fill="#fcd6c1" stroke="#111" stroke-width="0.55" />
<circle cx="139.10" cy="540.06" r="2.30" fill="#ef9979" stroke="#111" stroke-width="0.55" />
<circle cx="137.27" cy="602.97" r="2.30" fill="#acd2e5" stroke="#111" stroke-width="0.55" />
<circle cx="137.69" cy="620.60" r="2.30" fill="#5fa5cd" stroke="#111" stroke-width="0.55" />
<circle cx="139.33" cy="557.62" r="2.30" fill="#fcd4be" stroke="#111" stroke-width="0.55" />
<circle cx="138.90" cy="613.47" r="2.30" fill="#81bad8" stroke="#111" stroke-width="0.55" />
<circle cx="144.30" cy="609.57" r="2.30" fill="#93c5de" stroke="#111" stroke-width="0.55" />
<circle cx="138.75" cy="588.22" r="2.30" fill="#dceaf2" stroke="#111" stroke-width="0.55" />
<circle cx="138.47" cy="524.03" r="2.30" fill="#d15648" stroke="#111" stroke-width="0.55" />
<circle cx="140.81" cy="552.88" r="2.30" fill="#f9c5ab" stroke="#111" stroke-width="0.55" />
<circle cx="128.80" cy="551.81" r="2.30" fill="#f9c2a6" stroke="#111" stroke-width="0.55" />
<circle cx="146.23" cy="599.78" r="2.30" fill="#b8d8e9" stroke="#111" stroke-width="0.55" />
<circle cx="142.11" cy="568.53" r="2.30" fill="#faeae0" stroke="#111" stroke-width="0.55" />
<circle cx="148.20" cy="564.33" r="2.30" fill="#fbe3d4" stroke="#111" stroke-width="0.55" />
<circle cx="128.19" cy="560.04" r="2.30" fill="#fddcc8" stroke="#111" stroke-width="0.55" />
<circle cx="134.53" cy="607.45" r="2.30" fill="#9bcae1" stroke="#111" stroke-width="0.55" />
<circle cx="140.79" cy="624.94" r="2.30" fill="#4a98c6" stroke="#111" stroke-width="0.55" />
<circle cx="150.12" cy="560.78" r="2.30" fill="#fdddca" stroke="#111" stroke-width="0.55" />
<circle cx="146.97" cy="593.40" r="2.30" fill="#d0e4f0" stroke="#111" stroke-width="0.55" />
<circle cx="140.16" cy="628.37" r="2.30" fill="#3f8ec0" stroke="#111" stroke-width="0.55" />
<circle cx="131.82" cy="580.70" r="2.30" fill="#edf2f5" stroke="#111" stroke-width="0.55" />
<circle cx="146.29" cy="581.49" r="2.30" fill="#ebf2f5" stroke="#111" stroke-width="0.55" />
<circle cx="147.27" cy="567.31" r="2.30" fill="#fae8dd" stroke="#111" stroke-width="0.55" />
<circle cx="132.31" cy="558.49" r="2.30" fill="#fcd7c2" stroke="#111" stroke-width="0.55" />
<circle cx="149.98" cy="556.51" r="2.30" fill="#fbd1ba" stroke="#111" stroke-width="0.55" />
<circle cx="142.87" cy="584.39" r="2.30" fill="#e5eef4" stroke="#111" stroke-width="0.55" />
<circle cx="134.68" cy="554.35" r="2.30" fill="#facab1" stroke="#111" stroke-width="0.55" />
<circle cx="142.43" cy="573.19" r="2.30" fill="#f8f2ee" stroke="#111" stroke-width="0.55" />
<circle cx="133.92" cy="584.45" r="2.30" fill="#e5eef4" stroke="#111" stroke-width="0.55" />
<circle cx="147.08" cy="542.36" r="2.30" fill="#f3a280" stroke="#111" stroke-width="0.55" />
<circle cx="126.29" cy="558.03" r="2.30" fill="#fcd6c0" stroke="#111" stroke-width="0.55" />
<circle cx="135.60" cy="541.75" r="2.30" fill="#f2a07e" stroke="#111" stroke-width="0.55" />
<circle cx="136.20" cy="533.51" r="2.30" fill="#e37e64" stroke="#111" stroke-width="0.55" />
<circle cx="136.55" cy="544.24" r="2.30" fill="#f5a987" stroke="#111" stroke-width="0.55" />
<circle cx="144.71" cy="543.97" r="2.30" fill="#f5a886" stroke="#111" stroke-width="0.55" />
<circle cx="134.57" cy="580.91" r="2.30" fill="#edf2f5" stroke="#111" stroke-width="0.55" />
<circle cx="151.76" cy="562.82" r="2.30" fill="#fce0d0" stroke="#111" stroke-width="0.55" />
<circle cx="137.18" cy="550.69" r="2.30" fill="#f8bea2" stroke="#111" stroke-width="0.55" />
<circle cx="151.82" cy="565.76" r="2.30" fill="#fbe5d8" stroke="#111" stroke-width="0.55" />
<circle cx="128.18" cy="575.91" r="2.30" fill="#f7f6f6" stroke="#111" stroke-width="0.55" />
<circle cx="139.98" cy="518.86" r="2.30" fill="#c6403e" stroke="#111" stroke-width="0.55" />
<circle cx="136.05" cy="590.13" r="2.30" fill="#d8e8f1" stroke="#111" stroke-width="0.55" />
<circle cx="148.92" cy="588.66" r="2.30" fill="#dbeaf2" stroke="#111" stroke-width="0.55" />
<circle cx="146.02" cy="603.58" r="2.30" fill="#a9d1e5" stroke="#111" stroke-width="0.55" />
<circle cx="149.40" cy="553.39" r="2.30" fill="#fac7ad" stroke="#111" stroke-width="0.55" />
<circle cx="138.19" cy="581.72" r="2.30" fill="#ebf1f5" stroke="#111" stroke-width="0.55" />
<circle cx="130.34" cy="545.74" r="2.30" fill="#f5ae8d" stroke="#111" stroke-width="0.55" />
<circle cx="133.21" cy="565.14" r="2.30" fill="#fbe4d7" stroke="#111" stroke-width="0.55" />
<circle cx="131.13" cy="548.28" r="2.30" fill="#f7b698" stroke="#111" stroke-width="0.55" />
<circle cx="136.61" cy="530.68" r="2.30" fill="#de725b" stroke="#111" stroke-width="0.55" />
<circle cx="138.72" cy="547.16" r="2.30" fill="#f6b293" stroke="#111" stroke-width="0.55" />
<circle cx="138.38" cy="573.94" r="2.30" fill="#f8f3f0" stroke="#111" stroke-width="0.55" />
<circle cx="131.25" cy="597.08" r="2.30" fill="#c2ddec" stroke="#111" stroke-width="0.55" />
<circle cx="141.08" cy="522.31" r="2.30" fill="#cd4f45" stroke="#111" stroke-width="0.55" />
<circle cx="142.57" cy="560.90" r="2.30" fill="#fdddca" stroke="#111" stroke-width="0.55" />
<circle cx="134.91" cy="558.20" r="2.30" fill="#fcd6c1" stroke="#111" stroke-width="0.55" />
<circle cx="133.98" cy="572.05" r="2.30" fill="#f9f0eb" stroke="#111" stroke-width="0.55" />
<circle cx="146.30" cy="549.01" r="2.30" fill="#f7b89b" stroke="#111" stroke-width="0.55" />
<circle cx="132.08" cy="577.52" r="2.30" fill="#f4f6f7" stroke="#111" stroke-width="0.55" />
<circle cx="137.51" cy="607.58" r="2.30" fill="#9ac9e0" stroke="#111" stroke-width="0.55" />
<circle cx="142.50" cy="612.39" r="2.30" fill="#86bdda" stroke="#111" stroke-width="0.55" />
<circle cx="139.64" cy="633.94" r="2.30" fill="#347fb9" stroke="#111" stroke-width="0.55" />
<circle cx="143.34" cy="554.75" r="2.30" fill="#facbb3" stroke="#111" stroke-width="0.55" />
<circle cx="140.93" cy="565.59" r="2.30" fill="#fbe5d8" stroke="#111" stroke-width="0.55" />
<circle cx="133.88" cy="568.33" r="2.30" fill="#fae9e0" stroke="#111" stroke-width="0.55" />
<circle cx="139.36" cy="595.32" r="2.30" fill="#c9e1ee" stroke="#111" stroke-width="0.55" />
<circle cx="149.67" cy="569.56" r="2.30" fill="#f9ece3" stroke="#111" stroke-width="0.55" />
<circle cx="147.04" cy="596.73" r="2.30" fill="#c3deec" stroke="#111" stroke-width="0.55" />
<circle cx="126.57" cy="564.43" r="2.30" fill="#fbe3d5" stroke="#111" stroke-width="0.55" />
<circle cx="136.62" cy="594.47" r="2.30" fill="#cce2ef" stroke="#111" stroke-width="0.55" />
<circle cx="145.55" cy="564.82" r="2.30" fill="#fbe4d6" stroke="#111" stroke-width="0.55" />
<circle cx="144.37" cy="569.98" r="2.30" fill="#f9ece5" stroke="#111" stroke-width="0.55" />
<circle cx="149.71" cy="583.19" r="2.30" fill="#e8f0f4" stroke="#111" stroke-width="0.55" />
<circle cx="136.18" cy="527.93" r="2.30" fill="#d96752" stroke="#111" stroke-width="0.55" />
<circle cx="142.12" cy="530.70" r="2.30" fill="#de725b" stroke="#111" stroke-width="0.55" />
<circle cx="136.56" cy="586.81" r="2.30" fill="#dfecf3" stroke="#111" stroke-width="0.55" />
<circle cx="145.66" cy="578.49" r="2.30" fill="#f2f5f6" stroke="#111" stroke-width="0.55" />
<circle cx="139.36" cy="568.98" r="2.30" fill="#faebe2" stroke="#111" stroke-width="0.55" />
<circle cx="142.16" cy="546.47" r="2.30" fill="#f6b090" stroke="#111" stroke-width="0.55" />
<circle cx="144.38" cy="605.65" r="2.30" fill="#a2cde2" stroke="#111" stroke-width="0.55" />
<circle cx="142.81" cy="601.39" r="2.30" fill="#b2d5e7" stroke="#111" stroke-width="0.55" />
<circle cx="134.75" cy="549.66" r="2.30" fill="#f8bb9e" stroke="#111" stroke-width="0.55" />
<circle cx="136.09" cy="536.81" r="2.30" fill="#e98b6e" stroke="#111" stroke-width="0.55" />
<circle cx="135.93" cy="611.72" r="2.30" fill="#89bfdb" stroke="#111" stroke-width="0.55" />
<circle cx="131.87" cy="552.76" r="2.30" fill="#f9c5aa" stroke="#111" stroke-width="0.55" />
<circle cx="176.93" cy="542.97" r="2.30" fill="#f4a582" stroke="#111" stroke-width="0.55" />
<circle cx="188.24" cy="541.29" r="2.30" fill="#f19e7d" stroke="#111" stroke-width="0.55" />
<circle cx="182.56" cy="596.17" r="2.30" fill="#c5dfed" stroke="#111" stroke-width="0.55" />
<circle cx="183.03" cy="585.76" r="2.30" fill="#e2edf3" stroke="#111" stroke-width="0.55" />
<circle cx="189.27" cy="577.52" r="2.30" fill="#f4f6f7" stroke="#111" stroke-width="0.55" />
<circle cx="182.24" cy="591.68" r="2.30" fill="#d4e7f1" stroke="#111" stroke-width="0.55" />
<circle cx="177.43" cy="540.19" r="2.30" fill="#ef9979" stroke="#111" stroke-width="0.55" />
<circle cx="172.26" cy="582.90" r="2.30" fill="#e8f0f4" stroke="#111" stroke-width="0.55" />
<circle cx="180.60" cy="611.59" r="2.30" fill="#8ac0db" stroke="#111" stroke-width="0.55" />
<circle cx="178.57" cy="607.90" r="2.30" fill="#99c9e0" stroke="#111" stroke-width="0.55" />
<circle cx="178.60" cy="599.08" r="2.30" fill="#badaea" stroke="#111" stroke-width="0.55" />
<circle cx="178.35" cy="523.30" r="2.30" fill="#d05347" stroke="#111" stroke-width="0.55" />
<circle cx="181.14" cy="600.29" r="2.30" fill="#b6d7e8" stroke="#111" stroke-width="0.55" />
<circle cx="174.46" cy="553.52" r="2.30" fill="#fac7ae" stroke="#111" stroke-width="0.55" />
<circle cx="181.90" cy="554.29" r="2.30" fill="#facab1" stroke="#111" stroke-width="0.55" />
<circle cx="184.14" cy="593.60" r="2.30" fill="#cfe4ef" stroke="#111" stroke-width="0.55" />
<circle cx="174.80" cy="558.32" r="2.30" fill="#fcd7c1" stroke="#111" stroke-width="0.55" />
<circle cx="191.77" cy="553.36" r="2.30" fill="#fac7ad" stroke="#111" stroke-width="0.55" />
<circle cx="183.35" cy="578.14" r="2.30" fill="#f3f5f6" stroke="#111" stroke-width="0.55" />
<circle cx="178.21" cy="604.72" r="2.30" fill="#a5cfe3" stroke="#111" stroke-width="0.55" />
<circle cx="166.52" cy="562.58" r="2.30" fill="#fce0cf" stroke="#111" stroke-width="0.55" />
<circle cx="180.08" cy="552.12" r="2.30" fill="#f9c3a8" stroke="#111" stroke-width="0.55" />
<circle cx="177.21" cy="528.80" r="2.30" fill="#db6a55" stroke="#111" stroke-width="0.55" />
<circle cx="180.89" cy="520.16" r="2.30" fill="#c94641" stroke="#111" stroke-width="0.55" />
<circle cx="179.30" cy="510.51" r="2.30" fill="#b41c2d" stroke="#111" stroke-width="0.55" />
<circle cx="178.06" cy="545.85" r="2.30" fill="#f6ae8e" stroke="#111" stroke-width="0.55" />
<circle cx="166.15" cy="550.65" r="2.30" fill="#f8bea2" stroke="#111" stroke-width="0.55" />
<circle cx="187.86" cy="548.12" r="2.30" fill="#f7b697" stroke="#111" stroke-width="0.55" />
<circle cx="180.01" cy="569.90" r="2.30" fill="#f9ece4" stroke="#111" stroke-width="0.55" />
<circle cx="186.91" cy="558.29" r="2.30" fill="#fcd6c1" stroke="#111" stroke-width="0.55" />
<circle cx="184.32" cy="531.74" r="2.30" fill="#e0775e" stroke="#111" stroke-width="0.55" />
<circle cx="178.74" cy="580.13" r="2.30" fill="#eff3f5" stroke="#111" stroke-width="0.55" />
<circle cx="176.16" cy="537.38" r="2.30" fill="#ea8e70" stroke="#111" stroke-width="0.55" />
<circle cx="190.43" cy="543.62" r="2.30" fill="#f4a785" stroke="#111" stroke-width="0.55" />
<circle cx="175.40" cy="577.70" r="2.30" fill="#f4f6f6" stroke="#111" stroke-width="0.55" />
<circle cx="178.13" cy="574.71" r="2.30" fill="#f8f4f2" stroke="#111" stroke-width="0.55" />
<circle cx="174.78" cy="568.08" r="2.30" fill="#fae9df" stroke="#111" stroke-width="0.55" />
<circle cx="184.79" cy="527.50" r="2.30" fill="#d86551" stroke="#111" stroke-width="0.55" />
<circle cx="180.22" cy="603.01" r="2.30" fill="#acd2e5" stroke="#111" stroke-width="0.55" />
<circle cx="170.21" cy="567.93" r="2.30" fill="#fae9df" stroke="#111" stroke-width="0.55" />
<circle cx="183.69" cy="558.03" r="2.30" fill="#fcd6c0" stroke="#111" stroke-width="0.55" />
<circle cx="191.76" cy="563.56" r="2.30" fill="#fce1d2" stroke="#111" stroke-width="0.55" />
<circle cx="180.61" cy="561.29" r="2.30" fill="#fcdecc" stroke="#111" stroke-width="0.55" />
<circle cx="189.88" cy="557.36" r="2.30" fill="#fcd3bd" stroke="#111" stroke-width="0.55" />
<circle cx="174.04" cy="563.80" r="2.30" fill="#fce2d3" stroke="#111" stroke-width="0.55" />
<circle cx="189.25" cy="552.03" r="2.30" fill="#f9c2a7" stroke="#111" stroke-width="0.55" />
<circle cx="180.09" cy="506.72" r="2.30" fill="#a51429" stroke="#111" stroke-width="0.55" />
<circle cx="179.33" cy="491.95" r="2.30" fill="#67001f" stroke="#111" stroke-width="0.55" />
<circle cx="183.92" cy="575.16" r="2.30" fill="#f7f5f3" stroke="#111" stroke-width="0.55" />
<circle cx="174.92" cy="525.50" r="2.30" fill="#d45d4b" stroke="#111" stroke-width="0.55" />
<circle cx="172.37" cy="536.27" r="2.30" fill="#e8896d" stroke="#111" stroke-width="0.55" />
<circle cx="175.61" cy="547.23" r="2.30" fill="#f6b394" stroke="#111" stroke-width="0.55" />
<circle cx="177.52" cy="518.83" r="2.30" fill="#c6403e" stroke="#111" stroke-width="0.55" />
<circle cx="165.78" cy="556.26" r="2.30" fill="#fbd0b9" stroke="#111" stroke-width="0.55" />
<circle cx="170.27" cy="561.49" r="2.30" fill="#fcdecc" stroke="#111" stroke-width="0.55" />
<circle cx="191.25" cy="559.94" r="2.30" fill="#fddbc8" stroke="#111" stroke-width="0.55" />
<circle cx="178.69" cy="590.67" r="2.30" fill="#d7e8f1" stroke="#111" stroke-width="0.55" />
<circle cx="169.18" cy="548.57" r="2.30" fill="#f7b799" stroke="#111" stroke-width="0.55" />
<circle cx="186.15" cy="545.38" r="2.30" fill="#f5ad8c" stroke="#111" stroke-width="0.55" />
<circle cx="180.19" cy="584.82" r="2.30" fill="#e4eef3" stroke="#111" stroke-width="0.55" />
<circle cx="177.87" cy="587.29" r="2.30" fill="#deebf2" stroke="#111" stroke-width="0.55" />
<circle cx="188.21" cy="580.39" r="2.30" fill="#eef3f5" stroke="#111" stroke-width="0.55" />
<circle cx="188.38" cy="571.20" r="2.30" fill="#f9eee8" stroke="#111" stroke-width="0.55" />
<circle cx="179.80" cy="619.09" r="2.30" fill="#66a9cf" stroke="#111" stroke-width="0.55" />
<circle cx="179.90" cy="533.34" r="2.30" fill="#e37d63" stroke="#111" stroke-width="0.55" />
<circle cx="179.87" cy="529.76" r="2.30" fill="#dc6e58" stroke="#111" stroke-width="0.55" />
<circle cx="171.12" cy="557.16" r="2.30" fill="#fcd3bd" stroke="#111" stroke-width="0.55" />
<circle cx="186.50" cy="551.73" r="2.30" fill="#f9c1a6" stroke="#111" stroke-width="0.55" />
<circle cx="179.82" cy="565.69" r="2.30" fill="#fbe5d8" stroke="#111" stroke-width="0.55" />
<circle cx="183.66" cy="535.67" r="2.30" fill="#e7876b" stroke="#111" stroke-width="0.55" />
<circle cx="168.80" cy="564.95" r="2.30" fill="#fbe4d6" stroke="#111" stroke-width="0.55" />
<circle cx="188.08" cy="565.17" r="2.30" fill="#fbe4d7" stroke="#111" stroke-width="0.55" />
<circle cx="184.38" cy="542.19" r="2.30" fill="#f3a27f" stroke="#111" stroke-width="0.55" />
<circle cx="177.06" cy="531.91" r="2.30" fill="#e0775f" stroke="#111" stroke-width="0.55" />
<circle cx="180.74" cy="539.52" r="2.30" fill="#ee9777" stroke="#111" stroke-width="0.55" />
<circle cx="179.88" cy="616.30" r="2.30" fill="#73b2d4" stroke="#111" stroke-width="0.55" />
<circle cx="186.74" cy="535.08" r="2.30" fill="#e68469" stroke="#111" stroke-width="0.55" />
<circle cx="185.73" cy="563.11" r="2.30" fill="#fce1d1" stroke="#111" stroke-width="0.55" />
<circle cx="179.01" cy="496.59" r="2.30" fill="#780522" stroke="#111" stroke-width="0.55" />
<circle cx="172.30" cy="569.66" r="2.30" fill="#f9ece4" stroke="#111" stroke-width="0.55" />
<circle cx="176.19" cy="570.73" r="2.30" fill="#f9eee7" stroke="#111" stroke-width="0.55" />
<circle cx="172.18" cy="574.84" r="2.30" fill="#f8f4f3" stroke="#111" stroke-width="0.55" />
<circle cx="182.53" cy="582.45" r="2.30" fill="#e9f0f4" stroke="#111" stroke-width="0.55" />
<circle cx="188.11" cy="554.95" r="2.30" fill="#faccb3" stroke="#111" stroke-width="0.55" />
<circle cx="183.89" cy="546.84" r="2.30" fill="#f6b192" stroke="#111" stroke-width="0.55" />
<circle cx="189.15" cy="574.26" r="2.30" fill="#f8f3f1" stroke="#111" stroke-width="0.55" />
<circle cx="172.44" cy="559.84" r="2.30" fill="#fddbc7" stroke="#111" stroke-width="0.55" />
<circle cx="192.35" cy="549.85" r="2.30" fill="#f8bb9e" stroke="#111" stroke-width="0.55" />
<circle cx="190.86" cy="566.27" r="2.30" fill="#fbe6da" stroke="#111" stroke-width="0.55" />
<circle cx="188.69" cy="538.33" r="2.30" fill="#ec9273" stroke="#111" stroke-width="0.55" />
<circle cx="184.51" cy="553.47" r="2.30" fill="#fac7ad" stroke="#111" stroke-width="0.55" />
<circle cx="171.88" cy="585.67" r="2.30" fill="#e2edf3" stroke="#111" stroke-width="0.55" />
<circle cx="184.93" cy="570.06" r="2.30" fill="#f9ece5" stroke="#111" stroke-width="0.55" />
<circle cx="170.15" cy="579.05" r="2.30" fill="#f1f4f6" stroke="#111" stroke-width="0.55" />
<circle cx="176.99" cy="555.59" r="2.30" fill="#fbceb6" stroke="#111" stroke-width="0.55" />
<circle cx="170.83" cy="572.39" r="2.30" fill="#f8f0eb" stroke="#111" stroke-width="0.55" />
<circle cx="181.08" cy="523.59" r="2.30" fill="#d05448" stroke="#111" stroke-width="0.55" />
<circle cx="183.27" cy="525.38" r="2.30" fill="#d45c4b" stroke="#111" stroke-width="0.55" />
<circle cx="178.26" cy="549.93" r="2.30" fill="#f8bb9f" stroke="#111" stroke-width="0.55" />
<circle cx="184.39" cy="566.58" r="2.30" fill="#fbe7db" stroke="#111" stroke-width="0.55" />
<circle cx="177.51" cy="562.88" r="2.30" fill="#fce0d0" stroke="#111" stroke-width="0.55" />
<circle cx="186.95" cy="585.11" r="2.30" fill="#e3eef3" stroke="#111" stroke-width="0.55" />
<circle cx="173.89" cy="543.63" r="2.30" fill="#f4a785" stroke="#111" stroke-width="0.55" />
<circle cx="192.98" cy="557.30" r="2.30" fill="#fcd3bd" stroke="#111" stroke-width="0.55" />
<circle cx="180.71" cy="526.72" r="2.30" fill="#d7624e" stroke="#111" stroke-width="0.55" />
<circle cx="173.57" cy="550.55" r="2.30" fill="#f8bda1" stroke="#111" stroke-width="0.55" />
<circle cx="174.14" cy="539.41" r="2.30" fill="#ee9677" stroke="#111" stroke-width="0.55" />
<circle cx="167.39" cy="558.72" r="2.30" fill="#fcd8c3" stroke="#111" stroke-width="0.55" />
<circle cx="178.39" cy="595.09" r="2.30" fill="#cae1ee" stroke="#111" stroke-width="0.55" />
<circle cx="183.35" cy="550.62" r="2.30" fill="#f8bea2" stroke="#111" stroke-width="0.55" />
<circle cx="172.52" cy="566.39" r="2.30" fill="#fbe6da" stroke="#111" stroke-width="0.55" />
<circle cx="169.04" cy="552.46" r="2.30" fill="#f9c4a9" stroke="#111" stroke-width="0.55" />
<circle cx="180.03" cy="487.31" r="2.30" fill="#67001f" stroke="#111" stroke-width="0.55" />
<circle cx="185.42" cy="581.04" r="2.30" fill="#ecf2f5" stroke="#111" stroke-width="0.55" />
<circle cx="184.49" cy="589.90" r="2.30" fill="#d8e8f1" stroke="#111" stroke-width="0.55" />
<circle cx="173.77" cy="528.43" r="2.30" fill="#da6954" stroke="#111" stroke-width="0.55" />
<circle cx="180.39" cy="557.40" r="2.30" fill="#fcd4be" stroke="#111" stroke-width="0.55" />
<circle cx="177.67" cy="525.98" r="2.30" fill="#d55f4c" stroke="#111" stroke-width="0.55" />
<circle cx="170.88" cy="542.93" r="2.30" fill="#f4a582" stroke="#111" stroke-width="0.55" />
<circle cx="179.87" cy="542.96" r="2.30" fill="#f4a582" stroke="#111" stroke-width="0.55" />
<circle cx="180.43" cy="572.67" r="2.30" fill="#f8f1ec" stroke="#111" stroke-width="0.55" />
<circle cx="174.98" cy="585.40" r="2.30" fill="#e3edf3" stroke="#111" stroke-width="0.55" />
<circle cx="191.40" cy="547.41" r="2.30" fill="#f6b394" stroke="#111" stroke-width="0.55" />
<circle cx="173.73" cy="532.06" r="2.30" fill="#e0785f" stroke="#111" stroke-width="0.55" />
<circle cx="175.09" cy="590.49" r="2.30" fill="#d7e8f1" stroke="#111" stroke-width="0.55" />
<circle cx="170.22" cy="539.27" r="2.30" fill="#ed9676" stroke="#111" stroke-width="0.55" />
<text x="105.10" y="671.20" text-anchor="end" transform="rotate(-45 105.10 671.20)">Consume</text>
<text x="140.80" y="670.80" text-anchor="end" transform="rotate(-45 140.80 670.80)">Malaise</text>
<text x="180.10" y="673.50" text-anchor="end" transform="rotate(-45 180.10 673.50)">Retrieval</text>
</g>
<g id="F"><text x="268.40" y="430.00" style="font-size:17.8px" font-weight="bold" stroke="#000" stroke-width="0.5" textLength="7.20" lengthAdjust="spacingAndGlyphs">f</text>
<text x="629.50" y="439.50" textLength="136.80" lengthAdjust="spacingAndGlyphs">Hierarchical clustering</text>
<linearGradient id="cbg" x1="0" x2="0" y1="0" y2="1"><stop offset="0.0" stop-color="#67001f"/><stop offset="0.1" stop-color="#b2182b"/><stop offset="0.2" stop-color="#d6604d"/><stop offset="0.3" stop-color="#f4a582"/><stop offset="0.4" stop-color="#fddbc7"/><stop offset="0.5" stop-color="#f7f7f7"/><stop offset="0.6" stop-color="#d1e5f0"/><stop offset="0.7" stop-color="#92c5de"/><stop offset="0.8" stop-color="#4393c3"/><stop offset="0.9" stop-color="#2166ac"/><stop offset="1.0" stop-color="#053061"/></linearGradient>
<rect x="311.00" y="454.00" width="12.00" height="76.00" fill="url(#cbg)" stroke="none" stroke-width="1" />
<text x="317.00" y="447.00" text-anchor="middle">Novel</text>
<text x="317.00" y="549.50" text-anchor="middle">Familiar</text>
<text x="303.60" y="492.30" text-anchor="middle" transform="rotate(-90 303.60 492.30)" textLength="56.60" lengthAdjust="spacingAndGlyphs">ΔFOS (<tspan font-style="italic">Z</tspan>)</text>
<g shape-rendering="crispEdges"><rect x="358.20" y="585.5" width="6.81" height="34.10" fill="#b61f2e"/><rect x="358.20" y="619.3" width="6.81" height="34.10" fill="#de715a"/><rect x="358.20" y="653.1" width="6.81" height="34.30" fill="#d2594a"/><rect x="364.66" y="585.5" width="6.81" height="34.10" fill="#c8433f"/><rect x="364.66" y="619.3" width="6.81" height="34.10" fill="#de715a"/><rect x="364.66" y="653.1" width="6.81" height="34.30" fill="#8c0c25"/><rect x="371.12" y="585.5" width="6.81" height="34.10" fill="#ec9475"/><rect x="371.12" y="619.3" width="6.81" height="34.10" fill="#d6604d"/><rect x="371.12" y="653.1" width="6.81" height="34.30" fill="#720421"/><rect x="377.58" y="585.5" width="6.81" height="34.10" fill="#f3a280"/><rect x="377.58" y="619.3" width="6.81" height="34.10" fill="#e27c62"/><rect x="377.58" y="653.1" width="6.81" height="34.30" fill="#9c1127"/><rect x="384.04" y="585.5" width="6.81" height="34.10" fill="#f6b292"/><rect x="384.04" y="619.3" width="6.81" height="34.10" fill="#fae9df"/><rect x="384.04" y="653.1" width="6.81" height="34.30" fill="#d6604d"/><rect x="390.50" y="585.5" width="6.81" height="34.10" fill="#f3a280"/><rect x="390.50" y="619.3" width="6.81" height="34.10" fill="#f9f0eb"/><rect x="390.50" y="653.1" width="6.81" height="34.30" fill="#e27c62"/><rect x="396.96" y="585.5" width="6.81" height="34.10" fill="#fcdfce"/><rect x="396.96" y="619.3" width="6.81" height="34.10" fill="#f8f2ef"/><rect x="396.96" y="653.1" width="6.81" height="34.30" fill="#eb9072"/><rect x="403.42" y="585.5" width="6.81" height="34.10" fill="#fcd8c3"/><rect x="403.42" y="619.3" width="6.81" height="34.10" fill="#f9ede7"/><rect x="403.42" y="653.1" width="6.81" height="34.30" fill="#e8896d"/><rect x="409.88" y="585.5" width="6.81" height="34.10" fill="#f5aa89"/><rect x="409.88" y="619.3" width="6.81" height="34.10" fill="#fbd1ba"/><rect x="409.88" y="653.1" width="6.81" height="34.30" fill="#e58268"/><rect x="416.34" y="585.5" width="6.81" height="34.10" fill="#d96752"/><rect x="416.34" y="619.3" width="6.81" height="34.10" fill="#f8bc9f"/><rect x="416.34" y="653.1" width="6.81" height="34.30" fill="#d2594a"/><rect x="422.80" y="585.5" width="6.81" height="34.10" fill="#e8896d"/><rect x="422.80" y="619.3" width="6.81" height="34.10" fill="#f8bc9f"/><rect x="422.80" y="653.1" width="6.81" height="34.30" fill="#de715a"/><rect x="429.26" y="585.5" width="6.81" height="34.10" fill="#f8bc9f"/><rect x="429.26" y="619.3" width="6.81" height="34.10" fill="#e8896d"/><rect x="429.26" y="653.1" width="6.81" height="34.30" fill="#f9c3a8"/><rect x="435.72" y="585.5" width="6.81" height="34.10" fill="#de715a"/><rect x="435.72" y="619.3" width="6.81" height="34.10" fill="#f9c3a8"/><rect x="435.72" y="653.1" width="6.81" height="34.30" fill="#f8f1ed"/><rect x="442.18" y="585.5" width="6.81" height="34.10" fill="#c03539"/><rect x="442.18" y="619.3" width="6.81" height="34.10" fill="#fbccb4"/><rect x="442.18" y="653.1" width="6.81" height="34.30" fill="#eef2f5"/><rect x="448.64" y="585.5" width="6.81" height="34.10" fill="#f3a280"/><rect x="448.64" y="619.3" width="6.81" height="34.10" fill="#fbccb4"/><rect x="448.64" y="653.1" width="6.81" height="34.30" fill="#e8f0f4"/><rect x="455.10" y="585.5" width="6.81" height="34.10" fill="#e58268"/><rect x="455.10" y="619.3" width="6.81" height="34.10" fill="#f3f5f6"/><rect x="455.10" y="653.1" width="6.81" height="34.30" fill="#f7f7f7"/><rect x="461.56" y="585.5" width="6.81" height="34.10" fill="#e58268"/><rect x="461.56" y="619.3" width="6.81" height="34.10" fill="#e4eef4"/><rect x="461.56" y="653.1" width="6.81" height="34.30" fill="#e0ecf3"/><rect x="468.02" y="585.5" width="6.81" height="34.10" fill="#fbd1ba"/><rect x="468.02" y="619.3" width="6.81" height="34.10" fill="#c1ddec"/><rect x="468.02" y="653.1" width="6.81" height="34.30" fill="#6aacd0"/><rect x="474.48" y="585.5" width="6.81" height="34.10" fill="#f8bc9f"/><rect x="474.48" y="619.3" width="6.81" height="34.10" fill="#6aacd0"/><rect x="474.48" y="653.1" width="6.81" height="34.30" fill="#eef2f5"/><rect x="480.94" y="585.5" width="6.81" height="34.10" fill="#fcd8c3"/><rect x="480.94" y="619.3" width="6.81" height="34.10" fill="#7eb8d7"/><rect x="480.94" y="653.1" width="6.81" height="34.30" fill="#fcd8c3"/><rect x="487.40" y="585.5" width="6.81" height="34.10" fill="#fdddca"/><rect x="487.40" y="619.3" width="6.81" height="34.10" fill="#b2d5e7"/><rect x="487.40" y="653.1" width="6.81" height="34.30" fill="#fbd1ba"/><rect x="493.86" y="585.5" width="6.81" height="34.10" fill="#f9ede7"/><rect x="493.86" y="619.3" width="6.81" height="34.10" fill="#cbe2ee"/><rect x="493.86" y="653.1" width="6.81" height="34.30" fill="#f3a280"/><rect x="500.32" y="585.5" width="6.81" height="34.10" fill="#faebe3"/><rect x="500.32" y="619.3" width="6.81" height="34.10" fill="#f1f4f6"/><rect x="500.32" y="653.1" width="6.81" height="34.30" fill="#fbccb4"/><rect x="506.78" y="585.5" width="6.81" height="34.10" fill="#fae9df"/><rect x="506.78" y="619.3" width="6.81" height="34.10" fill="#f1f4f6"/><rect x="506.78" y="653.1" width="6.81" height="34.30" fill="#fcd3bd"/><rect x="513.24" y="585.5" width="6.81" height="34.10" fill="#faebe3"/><rect x="513.24" y="619.3" width="6.81" height="34.10" fill="#f1f4f6"/><rect x="513.24" y="653.1" width="6.81" height="34.30" fill="#fdddca"/><rect x="519.70" y="585.5" width="6.81" height="34.10" fill="#f3f5f6"/><rect x="519.70" y="619.3" width="6.81" height="34.10" fill="#eef2f5"/><rect x="519.70" y="653.1" width="6.81" height="34.30" fill="#fbe5d8"/><rect x="526.16" y="585.5" width="6.81" height="34.10" fill="#f8f3f1"/><rect x="526.16" y="619.3" width="6.81" height="34.10" fill="#f7f7f7"/><rect x="526.16" y="653.1" width="6.81" height="34.30" fill="#f3f5f6"/><rect x="532.62" y="585.5" width="6.81" height="34.10" fill="#f3f5f6"/><rect x="532.62" y="619.3" width="6.81" height="34.10" fill="#e4eef4"/><rect x="532.62" y="653.1" width="6.81" height="34.30" fill="#f8f5f3"/><rect x="539.08" y="585.5" width="6.81" height="34.10" fill="#f3f5f6"/><rect x="539.08" y="619.3" width="6.81" height="34.10" fill="#98c8e0"/><rect x="539.08" y="653.1" width="6.81" height="34.30" fill="#fae9df"/><rect x="545.54" y="585.5" width="6.81" height="34.10" fill="#cbe2ee"/><rect x="545.54" y="619.3" width="6.81" height="34.10" fill="#98c8e0"/><rect x="545.54" y="653.1" width="6.81" height="34.30" fill="#faebe3"/><rect x="552.00" y="585.5" width="6.81" height="34.10" fill="#b2d5e7"/><rect x="552.00" y="619.3" width="6.81" height="34.10" fill="#9fcbe2"/><rect x="552.00" y="653.1" width="6.81" height="34.30" fill="#f9f0eb"/><rect x="558.46" y="585.5" width="6.81" height="34.10" fill="#e0ecf3"/><rect x="558.46" y="619.3" width="6.81" height="34.10" fill="#92c5de"/><rect x="558.46" y="653.1" width="6.81" height="34.30" fill="#f8f1ed"/><rect x="564.92" y="585.5" width="6.81" height="34.10" fill="#d5e7f1"/><rect x="564.92" y="619.3" width="6.81" height="34.10" fill="#98c8e0"/><rect x="564.92" y="653.1" width="6.81" height="34.30" fill="#f8f5f3"/><rect x="571.38" y="585.5" width="6.81" height="34.10" fill="#daeaf2"/><rect x="571.38" y="619.3" width="6.81" height="34.10" fill="#9fcbe2"/><rect x="571.38" y="653.1" width="6.81" height="34.30" fill="#eef2f5"/><rect x="577.84" y="585.5" width="6.81" height="34.10" fill="#daeaf2"/><rect x="577.84" y="619.3" width="6.81" height="34.10" fill="#6aacd0"/><rect x="577.84" y="653.1" width="6.81" height="34.30" fill="#e0ecf3"/><rect x="584.30" y="585.5" width="6.81" height="34.10" fill="#d7e8f1"/><rect x="584.30" y="619.3" width="6.81" height="34.10" fill="#4b98c6"/><rect x="584.30" y="653.1" width="6.81" height="34.30" fill="#f8f5f3"/><rect x="590.76" y="585.5" width="6.81" height="34.10" fill="#98c8e0"/><rect x="590.76" y="619.3" width="6.81" height="34.10" fill="#3a88bd"/><rect x="590.76" y="653.1" width="6.81" height="34.30" fill="#fdddca"/><rect x="597.22" y="585.5" width="6.81" height="34.10" fill="#c1ddec"/><rect x="597.22" y="619.3" width="6.81" height="34.10" fill="#72b1d3"/><rect x="597.22" y="653.1" width="6.81" height="34.30" fill="#f9c3a8"/><rect x="603.68" y="585.5" width="6.81" height="34.10" fill="#6aacd0"/><rect x="603.68" y="619.3" width="6.81" height="34.10" fill="#cbe2ee"/><rect x="603.68" y="653.1" width="6.81" height="34.30" fill="#faebe3"/><rect x="610.14" y="585.5" width="6.81" height="34.10" fill="#3a88bd"/><rect x="610.14" y="619.3" width="6.81" height="34.10" fill="#cbe2ee"/><rect x="610.14" y="653.1" width="6.81" height="34.30" fill="#fcdfce"/><rect x="616.60" y="585.5" width="6.81" height="34.10" fill="#7eb8d7"/><rect x="616.60" y="619.3" width="6.81" height="34.10" fill="#cbe2ee"/><rect x="616.60" y="653.1" width="6.81" height="34.30" fill="#f8bc9f"/><rect x="623.06" y="585.5" width="6.81" height="34.10" fill="#92c5de"/><rect x="623.06" y="619.3" width="6.81" height="34.10" fill="#c4dfec"/><rect x="623.06" y="653.1" width="6.81" height="34.30" fill="#f9c6ac"/><rect x="629.52" y="585.5" width="6.81" height="34.10" fill="#a2cde2"/><rect x="629.52" y="619.3" width="6.81" height="34.10" fill="#d1e5f0"/><rect x="629.52" y="653.1" width="6.81" height="34.30" fill="#f8bc9f"/><rect x="635.98" y="585.5" width="6.81" height="34.10" fill="#63a7ce"/><rect x="635.98" y="619.3" width="6.81" height="34.10" fill="#eef2f5"/><rect x="635.98" y="653.1" width="6.81" height="34.30" fill="#c03539"/><rect x="642.44" y="585.5" width="6.81" height="34.10" fill="#b2d5e7"/><rect x="642.44" y="619.3" width="6.81" height="34.10" fill="#daeaf2"/><rect x="642.44" y="653.1" width="6.81" height="34.30" fill="#e58268"/><rect x="648.90" y="585.5" width="6.81" height="34.10" fill="#b8d8e9"/><rect x="648.90" y="619.3" width="6.81" height="34.10" fill="#e0ecf3"/><rect x="648.90" y="653.1" width="6.81" height="34.30" fill="#e8896d"/><rect x="655.36" y="585.5" width="6.81" height="34.10" fill="#d5e7f1"/><rect x="655.36" y="619.3" width="6.81" height="34.10" fill="#e8f0f4"/><rect x="655.36" y="653.1" width="6.81" height="34.30" fill="#e27c62"/><rect x="661.82" y="585.5" width="6.81" height="34.10" fill="#e0ecf3"/><rect x="661.82" y="619.3" width="6.81" height="34.10" fill="#e0ecf3"/><rect x="661.82" y="653.1" width="6.81" height="34.30" fill="#de715a"/><rect x="668.28" y="585.5" width="6.81" height="34.10" fill="#f1f4f6"/><rect x="668.28" y="619.3" width="6.81" height="34.10" fill="#e0ecf3"/><rect x="668.28" y="653.1" width="6.81" height="34.30" fill="#ec9475"/><rect x="674.74" y="585.5" width="6.81" height="34.10" fill="#d5e7f1"/><rect x="674.74" y="619.3" width="6.81" height="34.10" fill="#dceaf2"/><rect x="674.74" y="653.1" width="6.81" height="34.30" fill="#f3a280"/><rect x="681.20" y="585.5" width="6.81" height="34.10" fill="#abd2e5"/><rect x="681.20" y="619.3" width="6.81" height="34.10" fill="#f3f5f6"/><rect x="681.20" y="653.1" width="6.81" height="34.30" fill="#f8bc9f"/><rect x="687.66" y="585.5" width="6.81" height="34.10" fill="#abd2e5"/><rect x="687.66" y="619.3" width="6.81" height="34.10" fill="#f3f5f6"/><rect x="687.66" y="653.1" width="6.81" height="34.30" fill="#f8bc9f"/><rect x="694.12" y="585.5" width="6.81" height="34.10" fill="#abd2e5"/><rect x="694.12" y="619.3" width="6.81" height="34.10" fill="#f3f5f6"/><rect x="694.12" y="653.1" width="6.81" height="34.30" fill="#fbccb4"/><rect x="700.58" y="585.5" width="6.81" height="34.10" fill="#c1ddec"/><rect x="700.58" y="619.3" width="6.81" height="34.10" fill="#f7f7f7"/><rect x="700.58" y="653.1" width="6.81" height="34.30" fill="#fbd1ba"/><rect x="707.04" y="585.5" width="6.81" height="34.10" fill="#c4dfec"/><rect x="707.04" y="619.3" width="6.81" height="34.10" fill="#faebe3"/><rect x="707.04" y="653.1" width="6.81" height="34.30" fill="#fcd5c0"/><rect x="713.50" y="585.5" width="6.81" height="34.10" fill="#d1e5f0"/><rect x="713.50" y="619.3" width="6.81" height="34.10" fill="#fae9df"/><rect x="713.50" y="653.1" width="6.81" height="34.30" fill="#fcdfce"/><rect x="719.96" y="585.5" width="6.81" height="34.10" fill="#daeaf2"/><rect x="719.96" y="619.3" width="6.81" height="34.10" fill="#fbe5d8"/><rect x="719.96" y="653.1" width="6.81" height="34.30" fill="#fcd8c3"/><rect x="726.42" y="585.5" width="6.81" height="34.10" fill="#d1e5f0"/><rect x="726.42" y="619.3" width="6.81" height="34.10" fill="#fcd8c3"/><rect x="726.42" y="653.1" width="6.81" height="34.30" fill="#fdddca"/><rect x="732.88" y="585.5" width="6.81" height="34.10" fill="#eef2f5"/><rect x="732.88" y="619.3" width="6.81" height="34.10" fill="#f8f3f1"/><rect x="732.88" y="653.1" width="6.81" height="34.30" fill="#f6b292"/><rect x="739.34" y="585.5" width="6.81" height="34.10" fill="#e4eef4"/><rect x="739.34" y="619.3" width="6.81" height="34.10" fill="#f8f1ed"/><rect x="739.34" y="653.1" width="6.81" height="34.30" fill="#f6b292"/><rect x="745.80" y="585.5" width="6.81" height="34.10" fill="#e0ecf3"/><rect x="745.80" y="619.3" width="6.81" height="34.10" fill="#fbe5d8"/><rect x="745.80" y="653.1" width="6.81" height="34.30" fill="#f5aa89"/><rect x="752.26" y="585.5" width="6.81" height="34.10" fill="#d1e5f0"/><rect x="752.26" y="619.3" width="6.81" height="34.10" fill="#fdddca"/><rect x="752.26" y="653.1" width="6.81" height="34.30" fill="#f7b99b"/><rect x="758.72" y="585.5" width="6.81" height="34.10" fill="#c1ddec"/><rect x="758.72" y="619.3" width="6.81" height="34.10" fill="#fcd8c3"/><rect x="758.72" y="653.1" width="6.81" height="34.30" fill="#f7b99b"/><rect x="765.18" y="585.5" width="6.81" height="34.10" fill="#b2d5e7"/><rect x="765.18" y="619.3" width="6.81" height="34.10" fill="#fcd3bd"/><rect x="765.18" y="653.1" width="6.81" height="34.30" fill="#f3a280"/><rect x="771.64" y="585.5" width="6.81" height="34.10" fill="#b2d5e7"/><rect x="771.64" y="619.3" width="6.81" height="34.10" fill="#f6b292"/><rect x="771.64" y="653.1" width="6.81" height="34.30" fill="#f5aa89"/><rect x="778.10" y="585.5" width="6.81" height="34.10" fill="#92c5de"/><rect x="778.10" y="619.3" width="6.81" height="34.10" fill="#fbccb4"/><rect x="778.10" y="653.1" width="6.81" height="34.30" fill="#f5aa89"/><rect x="784.56" y="585.5" width="6.81" height="34.10" fill="#b2d5e7"/><rect x="784.56" y="619.3" width="6.81" height="34.10" fill="#fbccb4"/><rect x="784.56" y="653.1" width="6.81" height="34.30" fill="#e8896d"/><rect x="791.02" y="585.5" width="6.81" height="34.10" fill="#b2d5e7"/><rect x="791.02" y="619.3" width="6.81" height="34.10" fill="#fbe5d8"/><rect x="791.02" y="653.1" width="6.81" height="34.30" fill="#e58268"/><rect x="797.48" y="585.5" width="6.81" height="34.10" fill="#d1e5f0"/><rect x="797.48" y="619.3" width="6.81" height="34.10" fill="#fcdfce"/><rect x="797.48" y="653.1" width="6.81" height="34.30" fill="#d96752"/><rect x="803.94" y="585.5" width="6.81" height="34.10" fill="#e8f0f4"/><rect x="803.94" y="619.3" width="6.81" height="34.10" fill="#fbe5d8"/><rect x="803.94" y="653.1" width="6.81" height="34.30" fill="#d96752"/><rect x="810.40" y="585.5" width="6.81" height="34.10" fill="#eef2f5"/><rect x="810.40" y="619.3" width="6.81" height="34.10" fill="#fbe5d8"/><rect x="810.40" y="653.1" width="6.81" height="34.30" fill="#d6604d"/><rect x="816.86" y="585.5" width="6.81" height="34.10" fill="#eff3f6"/><rect x="816.86" y="619.3" width="6.81" height="34.10" fill="#f9c6ac"/><rect x="816.86" y="653.1" width="6.81" height="34.30" fill="#e8896d"/><rect x="823.32" y="585.5" width="6.81" height="34.10" fill="#faebe3"/><rect x="823.32" y="619.3" width="6.81" height="34.10" fill="#fce2d2"/><rect x="823.32" y="653.1" width="6.81" height="34.30" fill="#e27c62"/><rect x="829.78" y="585.5" width="6.81" height="34.10" fill="#f9ede7"/><rect x="829.78" y="619.3" width="6.81" height="34.10" fill="#fbe5d8"/><rect x="829.78" y="653.1" width="6.81" height="34.30" fill="#e58268"/><rect x="836.24" y="585.5" width="6.81" height="34.10" fill="#faebe3"/><rect x="836.24" y="619.3" width="6.81" height="34.10" fill="#fbe5d8"/><rect x="836.24" y="653.1" width="6.81" height="34.30" fill="#f3a280"/><rect x="842.70" y="585.5" width="6.81" height="34.10" fill="#f6b292"/><rect x="842.70" y="619.3" width="6.81" height="34.10" fill="#f8f3f1"/><rect x="842.70" y="653.1" width="6.81" height="34.30" fill="#fcd8c3"/><rect x="849.16" y="585.5" width="6.81" height="34.10" fill="#f9c3a8"/><rect x="849.16" y="619.3" width="6.81" height="34.10" fill="#fdddca"/><rect x="849.16" y="653.1" width="6.81" height="34.30" fill="#f9ede7"/><rect x="855.62" y="585.5" width="6.81" height="34.10" fill="#fbccb4"/><rect x="855.62" y="619.3" width="6.81" height="34.10" fill="#fcdfce"/><rect x="855.62" y="653.1" width="6.81" height="34.30" fill="#fcdfce"/><rect x="862.08" y="585.5" width="6.81" height="34.10" fill="#fdddca"/><rect x="862.08" y="619.3" width="6.81" height="34.10" fill="#fce2d2"/><rect x="862.08" y="653.1" width="6.81" height="34.30" fill="#fdddca"/><rect x="868.54" y="585.5" width="6.81" height="34.10" fill="#faebe3"/><rect x="868.54" y="619.3" width="6.81" height="34.10" fill="#fce2d2"/><rect x="868.54" y="653.1" width="6.81" height="34.30" fill="#fddac6"/><rect x="875.00" y="585.5" width="6.81" height="34.10" fill="#faebe3"/><rect x="875.00" y="619.3" width="6.81" height="34.10" fill="#fcdfce"/><rect x="875.00" y="653.1" width="6.81" height="34.30" fill="#fbd1ba"/><rect x="881.46" y="585.5" width="6.81" height="34.10" fill="#faebe3"/><rect x="881.46" y="619.3" width="6.81" height="34.10" fill="#fbd1ba"/><rect x="881.46" y="653.1" width="6.81" height="34.30" fill="#fbccb4"/><rect x="887.92" y="585.5" width="6.81" height="34.10" fill="#fbe5d8"/><rect x="887.92" y="619.3" width="6.81" height="34.10" fill="#fbd1ba"/><rect x="887.92" y="653.1" width="6.81" height="34.30" fill="#fdddca"/><rect x="894.38" y="585.5" width="6.81" height="34.10" fill="#fbe5d8"/><rect x="894.38" y="619.3" width="6.81" height="34.10" fill="#fbd1ba"/><rect x="894.38" y="653.1" width="6.81" height="34.30" fill="#fbe5d8"/><rect x="900.84" y="585.5" width="6.81" height="34.10" fill="#fce2d2"/><rect x="900.84" y="619.3" width="6.81" height="34.10" fill="#fcd8c3"/><rect x="900.84" y="653.1" width="6.81" height="34.30" fill="#fae9df"/><rect x="907.30" y="585.5" width="6.81" height="34.10" fill="#fbe5d8"/><rect x="907.30" y="619.3" width="6.81" height="34.10" fill="#fcd8c3"/><rect x="907.30" y="653.1" width="6.81" height="34.30" fill="#f8f2ef"/><rect x="913.76" y="585.5" width="6.81" height="34.10" fill="#f9f0eb"/><rect x="913.76" y="619.3" width="6.81" height="34.10" fill="#f6b292"/><rect x="913.76" y="653.1" width="6.81" height="34.30" fill="#f9f0eb"/><rect x="920.22" y="585.5" width="6.81" height="34.10" fill="#f8f5f3"/><rect x="920.22" y="619.3" width="6.81" height="34.10" fill="#f6b292"/><rect x="920.22" y="653.1" width="6.81" height="34.30" fill="#fae9df"/><rect x="926.68" y="585.5" width="6.81" height="34.10" fill="#faebe3"/><rect x="926.68" y="619.3" width="6.81" height="34.10" fill="#f7b99b"/><rect x="926.68" y="653.1" width="6.81" height="34.30" fill="#fcd8c3"/><rect x="933.14" y="585.5" width="6.81" height="34.10" fill="#f9ede7"/><rect x="933.14" y="619.3" width="6.81" height="34.10" fill="#f5aa89"/><rect x="933.14" y="653.1" width="6.81" height="34.30" fill="#fcd3bd"/><rect x="939.60" y="585.5" width="6.81" height="34.10" fill="#eef2f5"/><rect x="939.60" y="619.3" width="6.81" height="34.10" fill="#d96752"/><rect x="939.60" y="653.1" width="6.81" height="34.30" fill="#f6b292"/><rect x="946.06" y="585.5" width="6.81" height="34.10" fill="#c1ddec"/><rect x="946.06" y="619.3" width="6.81" height="34.10" fill="#ec9475"/><rect x="946.06" y="653.1" width="6.81" height="34.30" fill="#fcd8c3"/><rect x="952.52" y="585.5" width="6.81" height="34.10" fill="#daeaf2"/><rect x="952.52" y="619.3" width="6.81" height="34.10" fill="#ec9475"/><rect x="952.52" y="653.1" width="6.81" height="34.30" fill="#fcdfce"/><rect x="958.98" y="585.5" width="6.81" height="34.10" fill="#daeaf2"/><rect x="958.98" y="619.3" width="6.81" height="34.10" fill="#e58268"/><rect x="958.98" y="653.1" width="6.81" height="34.30" fill="#fcdfce"/><rect x="965.44" y="585.5" width="6.81" height="34.10" fill="#eef2f5"/><rect x="965.44" y="619.3" width="6.81" height="34.10" fill="#cd4e44"/><rect x="965.44" y="653.1" width="6.81" height="34.30" fill="#f8f5f3"/><rect x="971.90" y="585.5" width="6.81" height="34.10" fill="#d5e7f1"/><rect x="971.90" y="619.3" width="6.81" height="34.10" fill="#ec9475"/><rect x="971.90" y="653.1" width="6.81" height="34.30" fill="#f7f7f7"/><rect x="978.36" y="585.5" width="6.81" height="34.10" fill="#daeaf2"/><rect x="978.36" y="619.3" width="6.81" height="34.10" fill="#f5aa89"/><rect x="978.36" y="653.1" width="6.81" height="34.30" fill="#f9ede7"/><rect x="984.82" y="585.5" width="6.81" height="34.10" fill="#daeaf2"/><rect x="984.82" y="619.3" width="6.81" height="34.10" fill="#f6b292"/><rect x="984.82" y="653.1" width="6.81" height="34.30" fill="#faebe3"/><rect x="991.28" y="585.5" width="6.81" height="34.10" fill="#e8f0f4"/><rect x="991.28" y="619.3" width="6.81" height="34.10" fill="#f6b292"/><rect x="991.28" y="653.1" width="6.81" height="34.30" fill="#f8f1ed"/><rect x="997.74" y="585.5" width="6.81" height="34.10" fill="#eef2f5"/><rect x="997.74" y="619.3" width="6.81" height="34.10" fill="#fbd1ba"/><rect x="997.74" y="653.1" width="6.81" height="34.30" fill="#f8f3f1"/><rect x="1004.20" y="585.5" width="6.81" height="34.10" fill="#e8f0f4"/><rect x="1004.20" y="619.3" width="6.81" height="34.10" fill="#fcd8c3"/><rect x="1004.20" y="653.1" width="6.81" height="34.30" fill="#f8f3f1"/><rect x="1010.66" y="585.5" width="6.81" height="34.10" fill="#d5e7f1"/><rect x="1010.66" y="619.3" width="6.81" height="34.10" fill="#fdddca"/><rect x="1010.66" y="653.1" width="6.81" height="34.30" fill="#e8f0f4"/><rect x="1017.12" y="585.5" width="6.81" height="34.10" fill="#e8f0f4"/><rect x="1017.12" y="619.3" width="6.81" height="34.10" fill="#fbd1ba"/><rect x="1017.12" y="653.1" width="6.81" height="34.30" fill="#daeaf2"/><rect x="1023.58" y="585.5" width="6.81" height="34.10" fill="#f1f4f6"/><rect x="1023.58" y="619.3" width="6.81" height="34.10" fill="#fbccb4"/><rect x="1023.58" y="653.1" width="6.81" height="34.30" fill="#eef2f5"/><rect x="1030.04" y="585.5" width="6.81" height="34.10" fill="#f8f5f3"/><rect x="1030.04" y="619.3" width="6.81" height="34.10" fill="#fbccb4"/><rect x="1030.04" y="653.1" width="6.81" height="34.30" fill="#b2d5e7"/><rect x="1036.50" y="585.5" width="6.81" height="34.10" fill="#faebe3"/><rect x="1036.50" y="619.3" width="6.81" height="34.10" fill="#faebe3"/><rect x="1036.50" y="653.1" width="6.81" height="34.30" fill="#b2d5e7"/><rect x="1042.96" y="585.5" width="6.81" height="34.10" fill="#b2d5e7"/><rect x="1042.96" y="619.3" width="6.81" height="34.10" fill="#fbe5d8"/><rect x="1042.96" y="653.1" width="6.81" height="34.30" fill="#6aacd0"/><rect x="1049.42" y="585.5" width="6.81" height="34.10" fill="#b2d5e7"/><rect x="1049.42" y="619.3" width="6.81" height="34.10" fill="#daeaf2"/><rect x="1049.42" y="653.1" width="6.81" height="34.30" fill="#7eb8d7"/><rect x="1055.88" y="585.5" width="6.81" height="34.10" fill="#a2cde2"/><rect x="1055.88" y="619.3" width="6.81" height="34.10" fill="#daeaf2"/><rect x="1055.88" y="653.1" width="6.81" height="34.30" fill="#a2cde2"/><rect x="1062.34" y="585.5" width="6.81" height="34.10" fill="#98c8e0"/><rect x="1062.34" y="619.3" width="6.81" height="34.10" fill="#daeaf2"/><rect x="1062.34" y="653.1" width="6.81" height="34.30" fill="#a8d0e4"/><rect x="1068.80" y="585.5" width="6.81" height="34.10" fill="#57a0ca"/><rect x="1068.80" y="619.3" width="6.81" height="34.10" fill="#e4eef4"/><rect x="1068.80" y="653.1" width="6.81" height="34.30" fill="#c1ddec"/><rect x="1075.26" y="585.5" width="6.81" height="34.10" fill="#72b1d3"/><rect x="1075.26" y="619.3" width="6.81" height="34.10" fill="#d1e5f0"/><rect x="1075.26" y="653.1" width="6.81" height="34.30" fill="#daeaf2"/><rect x="1081.72" y="585.5" width="6.81" height="34.10" fill="#b2d5e7"/><rect x="1081.72" y="619.3" width="6.81" height="34.10" fill="#d1e5f0"/><rect x="1081.72" y="653.1" width="6.81" height="34.30" fill="#e4eef4"/><rect x="1088.18" y="585.5" width="6.81" height="34.10" fill="#b2d5e7"/><rect x="1088.18" y="619.3" width="6.81" height="34.10" fill="#daeaf2"/><rect x="1088.18" y="653.1" width="6.81" height="34.30" fill="#f3f5f6"/><rect x="1094.64" y="585.5" width="6.81" height="34.10" fill="#e0ecf3"/><rect x="1094.64" y="619.3" width="6.81" height="34.10" fill="#daeaf2"/><rect x="1094.64" y="653.1" width="6.81" height="34.30" fill="#daeaf2"/><rect x="1101.10" y="585.5" width="6.81" height="34.10" fill="#a2cde2"/><rect x="1101.10" y="619.3" width="6.81" height="34.10" fill="#eef2f5"/><rect x="1101.10" y="653.1" width="6.81" height="34.30" fill="#daeaf2"/><rect x="1107.56" y="585.5" width="6.81" height="34.10" fill="#92c5de"/><rect x="1107.56" y="619.3" width="6.81" height="34.10" fill="#fbd1ba"/><rect x="1107.56" y="653.1" width="6.81" height="34.30" fill="#eef2f5"/><rect x="1114.02" y="585.5" width="6.81" height="34.10" fill="#72b1d3"/><rect x="1114.02" y="619.3" width="6.81" height="34.10" fill="#f8f1ed"/><rect x="1114.02" y="653.1" width="6.81" height="34.30" fill="#e4eef4"/><rect x="1120.48" y="585.5" width="6.81" height="34.10" fill="#7ab6d6"/><rect x="1120.48" y="619.3" width="6.81" height="34.10" fill="#f3f5f6"/><rect x="1120.48" y="653.1" width="6.81" height="34.30" fill="#e8f0f4"/><rect x="1126.94" y="585.5" width="6.81" height="34.10" fill="#a2cde2"/><rect x="1126.94" y="619.3" width="6.81" height="34.10" fill="#f8f3f1"/><rect x="1126.94" y="653.1" width="6.81" height="34.30" fill="#eef2f5"/><rect x="1133.40" y="585.5" width="6.81" height="34.10" fill="#a8d0e4"/><rect x="1133.40" y="619.3" width="6.81" height="34.10" fill="#f3f5f6"/><rect x="1133.40" y="653.1" width="6.81" height="34.30" fill="#f8f5f3"/><rect x="1139.86" y="585.5" width="6.81" height="34.10" fill="#b2d5e7"/><rect x="1139.86" y="619.3" width="6.81" height="34.10" fill="#f8f3f1"/><rect x="1139.86" y="653.1" width="6.81" height="34.30" fill="#f8f2ef"/><rect x="1146.32" y="585.5" width="6.81" height="34.10" fill="#98c8e0"/><rect x="1146.32" y="619.3" width="6.81" height="34.10" fill="#faebe3"/><rect x="1146.32" y="653.1" width="6.81" height="34.30" fill="#fbd1ba"/><rect x="1152.78" y="585.5" width="6.81" height="34.10" fill="#7eb8d7"/><rect x="1152.78" y="619.3" width="6.81" height="34.10" fill="#fcd8c3"/><rect x="1152.78" y="653.1" width="6.81" height="34.30" fill="#fbd1ba"/><rect x="1159.24" y="585.5" width="6.81" height="34.10" fill="#7eb8d7"/><rect x="1159.24" y="619.3" width="6.81" height="34.10" fill="#fbd1ba"/><rect x="1159.24" y="653.1" width="6.81" height="34.30" fill="#fcdfce"/><rect x="1165.70" y="585.5" width="6.81" height="34.10" fill="#57a0ca"/><rect x="1165.70" y="619.3" width="6.81" height="34.10" fill="#fbccb4"/><rect x="1165.70" y="653.1" width="6.81" height="34.30" fill="#fdddca"/><rect x="1172.16" y="585.5" width="6.81" height="34.10" fill="#3581ba"/><rect x="1172.16" y="619.3" width="6.81" height="34.10" fill="#f5aa89"/><rect x="1172.16" y="653.1" width="6.81" height="34.30" fill="#fbccb4"/><rect x="1178.62" y="585.5" width="6.81" height="34.10" fill="#2166ac"/><rect x="1178.62" y="619.3" width="6.81" height="34.10" fill="#f8f1ed"/><rect x="1178.62" y="653.1" width="6.81" height="34.30" fill="#fbccb4"/><rect x="1185.08" y="585.5" width="6.81" height="34.10" fill="#2f78b5"/><rect x="1185.08" y="619.3" width="6.81" height="34.10" fill="#f8f3f1"/><rect x="1185.08" y="653.1" width="6.81" height="34.30" fill="#fae9df"/><rect x="1191.54" y="585.5" width="6.81" height="34.10" fill="#1e61a4"/><rect x="1191.54" y="619.3" width="6.81" height="34.10" fill="#f3f5f6"/><rect x="1191.54" y="653.1" width="6.81" height="34.30" fill="#f7f7f7"/></g>
<rect x="358.20" y="585.50" width="839.80" height="101.60" fill="none" stroke="#000" stroke-width="1.5" />
<line x1="435.72" y1="585.50" x2="435.72" y2="687.10" stroke="#1a1a1a" stroke-width="1.5" />
<line x1="480.94" y1="585.50" x2="480.94" y2="687.10" stroke="#1a1a1a" stroke-width="1.5" />
<line x1="539.08" y1="585.50" x2="539.08" y2="687.10" stroke="#1a1a1a" stroke-width="1.5" />
<line x1="603.68" y1="585.50" x2="603.68" y2="687.10" stroke="#1a1a1a" stroke-width="1.5" />
<line x1="681.20" y1="585.50" x2="681.20" y2="687.10" stroke="#1a1a1a" stroke-width="1.5" />
<line x1="842.70" y1="585.50" x2="842.70" y2="687.10" stroke="#1a1a1a" stroke-width="1.5" />
<line x1="939.60" y1="585.50" x2="939.60" y2="687.10" stroke="#1a1a1a" stroke-width="1.5" />
<line x1="1030.04" y1="585.50" x2="1030.04" y2="687.10" stroke="#1a1a1a" stroke-width="1.5" />
<line x1="1146.32" y1="585.50" x2="1146.32" y2="687.10" stroke="#1a1a1a" stroke-width="1.5" />
<rect x="360.50" y="567.50" width="73.52" height="10.10" fill="#e52d27" stroke="none" stroke-width="1" />
<rect x="438.02" y="567.50" width="41.22" height="10.10" fill="#c0c0c0" stroke="none" stroke-width="1" />
<rect x="483.24" y="567.50" width="54.14" height="10.10" fill="#c0c0c0" stroke="none" stroke-width="1" />
<rect x="541.38" y="567.50" width="60.60" height="10.10" fill="#c0c0c0" stroke="none" stroke-width="1" />
<rect x="605.98" y="567.50" width="73.52" height="10.10" fill="#c0c0c0" stroke="none" stroke-width="1" />
<rect x="683.50" y="567.50" width="157.50" height="10.10" fill="#c0c0c0" stroke="none" stroke-width="1" />
<rect x="845.00" y="567.50" width="92.90" height="10.10" fill="#c0c0c0" stroke="none" stroke-width="1" />
<rect x="941.90" y="567.50" width="86.44" height="10.10" fill="#c0c0c0" stroke="none" stroke-width="1" />
<rect x="1032.34" y="567.50" width="112.28" height="10.10" fill="#c0c0c0" stroke="none" stroke-width="1" />
<rect x="1148.62" y="567.50" width="47.68" height="10.10" fill="#c0c0c0" stroke="none" stroke-width="1" />
<text x="349.00" y="609.40" text-anchor="end">Consume</text>
<text x="349.00" y="643.00" text-anchor="end">Malaise</text>
<text x="349.00" y="677.00" text-anchor="end">Retrieval</text>
<text x="397.50" y="707.40" text-anchor="middle" textLength="61.00" lengthAdjust="spacingAndGlyphs">Amygdala</text>
<text x="397.50" y="722.00" text-anchor="middle" textLength="49.00" lengthAdjust="spacingAndGlyphs">network</text>
<text x="746.30" y="716.00" textLength="80.40" lengthAdjust="spacingAndGlyphs">Brain regions</text>
<line x1="678.00" y1="711.40" x2="731.60" y2="711.40" stroke="#000" stroke-width="0.9" />
<path d="M672.6,711.4 L680.1,714.1 L678.6,711.4 L680.1,708.7Z" fill="#000"/>
<line x1="841.40" y1="711.40" x2="879.00" y2="711.40" stroke="#000" stroke-width="0.9" />
<path d="M884.4,711.4 L876.9,708.7 L878.4,711.4 L876.9,714.1Z" fill="#000"/>
<path d="M445.5,449.5L970.2,449.5M445.5,449.5L445.5,465.5M389.5,465.5L501.2,465.5M389.5,465.5L389.5,526.2M501.2,465.5L501.2,499.2M458.0,499.2L545.0,499.2M458.0,499.2L458.0,524.2M545.0,499.2L545.0,519.0M506.2,519.0L583.2,519.0M506.2,519.0L506.2,535.5M583.2,519.0L583.2,543.0M970.2,449.5L970.2,467.0M819.0,467.0L1121.2,467.0M819.0,467.0L819.0,482.8M710.2,482.8L927.5,482.8M710.2,482.8L710.2,517.5M633.8,517.5L787.0,517.5M633.8,517.5L633.8,532.5M787.0,517.5L787.0,531.0M927.5,482.8L927.5,523.0M876.2,523.0L979.5,523.0M876.2,523.0L876.2,542.5M979.5,523.0L979.5,536.5M1121.2,467.0L1121.2,510.5M1064.5,510.5L1177.5,510.5M1064.5,510.5L1064.5,530.8M1177.5,510.5L1177.5,538.8" stroke="#111" stroke-width="1.5" fill="none" stroke-linecap="square"/>
<path d="M361.4,560.6L361.4,555.2M367.9,560.6L367.9,555.2M361.4,555.2L367.9,555.2M364.7,555.2L364.7,548.2M374.3,560.6L374.3,548.2M364.7,548.2L374.3,548.2M367.5,526.2L367.5,548.2M367.5,548.2L369.5,548.2M387.3,560.6L387.3,556.7M393.7,560.6L393.7,556.7M387.3,556.7L393.7,556.7M380.8,560.6L380.8,552.2M390.5,556.7L390.5,552.2M380.8,552.2L390.5,552.2M406.6,560.6L406.6,556.9M413.1,560.6L413.1,556.9M406.6,556.9L413.1,556.9M400.2,560.6L400.2,553.3M409.9,556.9L409.9,553.3M400.2,553.3L409.9,553.3M385.7,552.2L385.7,542.7M405.0,553.3L405.0,542.7M385.7,542.7L405.0,542.7M426.0,560.6L426.0,555.6M432.5,560.6L432.5,555.6M426.0,555.6L432.5,555.6M419.6,560.6L419.6,547.7M429.3,555.6L429.3,547.7M419.6,547.7L429.3,547.7M395.3,542.7L395.3,536.7M424.4,547.7L424.4,536.7M395.3,536.7L424.4,536.7M411.8,526.2L411.8,536.7M409.9,536.7L411.8,536.7M367.5,526.2L411.8,526.2" stroke="#e52d27" stroke-width="1.1" fill="none" stroke-linecap="square"/>
<path d="M438.9,560.6L438.9,553.1M445.4,560.6L445.4,553.1M438.9,553.1L445.4,553.1M442.2,553.1L442.2,544.5M451.9,560.6L451.9,544.5M442.2,544.5L451.9,544.5M447.0,544.5L447.0,533.7M458.3,560.6L458.3,533.7M447.0,533.7L458.3,533.7M448.0,524.2L448.0,533.7M448.0,533.7L452.7,533.7M471.2,560.6L471.2,554.9M477.7,560.6L477.7,554.9M471.2,554.9L477.7,554.9M464.8,560.6L464.8,544.8M474.5,554.9L474.5,544.8M464.8,544.8L474.5,544.8M468.2,524.2L468.2,544.8M468.2,544.8L469.6,544.8M448.0,524.2L468.2,524.2" stroke="#bebebe" stroke-width="1.1" fill="none" stroke-linecap="square"/>
<path d="M484.2,560.6L484.2,555.9M490.6,560.6L490.6,555.9M484.2,555.9L490.6,555.9M497.1,560.6L497.1,554.0M503.5,560.6L503.5,554.0M497.1,554.0L503.5,554.0M487.4,555.9L487.4,547.7M500.3,554.0L500.3,547.7M487.4,547.7L500.3,547.7M492.5,535.5L492.5,547.7M492.5,547.7L493.9,547.7M516.5,560.6L516.5,556.4M522.9,560.6L522.9,556.4M516.5,556.4L522.9,556.4M510.0,560.6L510.0,551.1M519.7,556.4L519.7,551.1M510.0,551.1L519.7,551.1M529.4,560.6L529.4,552.4M535.9,560.6L535.9,552.4M529.4,552.4L535.9,552.4M514.9,551.1L514.9,542.6M532.6,552.4L532.6,542.6M514.9,542.6L532.6,542.6M520.5,535.5L520.5,542.6M520.5,542.6L523.7,542.6M492.5,535.5L520.5,535.5" stroke="#bebebe" stroke-width="1.1" fill="none" stroke-linecap="square"/>
<path d="M542.3,560.6L542.3,557.1M548.8,560.6L548.8,557.1M542.3,557.1L548.8,557.1M545.5,557.1L545.5,552.8M555.2,560.6L555.2,552.8M545.5,552.8L555.2,552.8M561.7,560.6L561.7,557.1M568.1,560.6L568.1,557.1M561.7,557.1L568.1,557.1M574.6,560.6L574.6,557.1M581.1,560.6L581.1,557.1M574.6,557.1L581.1,557.1M564.9,557.1L564.9,555.3M577.8,557.1L577.8,555.3M564.9,555.3L577.8,555.3M587.5,560.6L587.5,557.1M594.0,560.6L594.0,557.1M587.5,557.1L594.0,557.1M571.4,555.3L571.4,553.6M590.8,557.1L590.8,553.6M571.4,553.6L590.8,553.6M550.4,552.8L550.4,548.2M581.1,553.6L581.1,548.2M550.4,548.2L581.1,548.2M568.2,543.0L568.2,548.2M565.7,548.2L568.2,548.2M598.0,543.0L598.0,560.6M568.2,543.0L598.0,543.0" stroke="#bebebe" stroke-width="1.1" fill="none" stroke-linecap="square"/>
<path d="M606.9,560.6L606.9,550.2M613.4,560.6L613.4,550.2M606.9,550.2L613.4,550.2M619.8,560.6L619.8,553.0M626.3,560.6L626.3,553.0M619.8,553.0L626.3,553.0M610.1,550.2L610.1,540.4M623.1,553.0L623.1,540.4M610.1,540.4L623.1,540.4M617.5,532.5L617.5,540.4M616.6,540.4L617.5,540.4M632.8,560.6L632.8,556.4M639.2,560.6L639.2,556.4M632.8,556.4L639.2,556.4M652.1,560.6L652.1,557.1M658.6,560.6L658.6,557.1M652.1,557.1L658.6,557.1M645.7,560.6L645.7,553.9M655.4,557.1L655.4,553.9M645.7,553.9L655.4,553.9M636.0,556.4L636.0,550.5M650.5,553.9L650.5,550.5M636.0,550.5L650.5,550.5M671.5,560.6L671.5,557.0M678.0,560.6L678.0,557.0M671.5,557.0L678.0,557.0M665.0,560.6L665.0,553.3M674.7,557.0L674.7,553.3M665.0,553.3L674.7,553.3M643.2,550.5L643.2,546.0M669.9,553.3L669.9,546.0M643.2,546.0L669.9,546.0M649.2,532.5L649.2,546.0M649.2,546.0L656.6,546.0M617.5,532.5L649.2,532.5" stroke="#bebebe" stroke-width="1.1" fill="none" stroke-linecap="square"/>
<path d="M690.9,560.6L690.9,557.1M697.3,560.6L697.3,557.1M690.9,557.1L697.3,557.1M684.4,560.6L684.4,557.1M694.1,557.1L694.1,557.1M684.4,557.1L694.1,557.1M703.8,560.6L703.8,557.1M710.3,560.6L710.3,557.1M703.8,557.1L710.3,557.1M707.0,557.1L707.0,557.1M716.7,560.6L716.7,557.1M707.0,557.1L716.7,557.1M689.3,557.1L689.3,555.1M711.9,557.1L711.9,555.1M689.3,555.1L711.9,555.1M723.2,560.6L723.2,557.1M729.6,560.6L729.6,557.1M723.2,557.1L729.6,557.1M736.1,560.6L736.1,557.1M742.6,560.6L742.6,557.1M736.1,557.1L742.6,557.1M726.4,557.1L726.4,554.2M739.3,557.1L739.3,554.2M726.4,554.2L739.3,554.2M700.6,555.1L700.6,550.9M732.9,554.2L732.9,550.9M700.6,550.9L732.9,550.9M749.0,560.6L749.0,557.1M755.5,560.6L755.5,557.1M749.0,557.1L755.5,557.1M762.0,560.6L762.0,557.1M768.4,560.6L768.4,557.1M762.0,557.1L768.4,557.1M752.3,557.1L752.3,553.4M765.2,557.1L765.2,553.4M752.3,553.4L765.2,553.4M774.9,560.6L774.9,557.1M781.3,560.6L781.3,557.1M774.9,557.1L781.3,557.1M778.1,557.1L778.1,556.3M787.8,560.6L787.8,556.3M778.1,556.3L787.8,556.3M794.2,560.6L794.2,557.1M800.7,560.6L800.7,557.1M794.2,557.1L800.7,557.1M782.9,556.3L782.9,554.1M797.5,557.1L797.5,554.1M782.9,554.1L797.5,554.1M807.2,560.6L807.2,557.1M813.6,560.6L813.6,557.1M807.2,557.1L813.6,557.1M790.2,554.1L790.2,553.3M810.4,557.1L810.4,553.3M790.2,553.3L810.4,553.3M758.7,553.4L758.7,550.7M800.3,553.3L800.3,550.7M758.7,550.7L800.3,550.7M716.7,550.9L716.7,545.7M779.5,550.7L779.5,545.7M716.7,545.7L779.5,545.7M748.5,531.0L748.5,545.7M748.1,545.7L748.5,545.7M820.1,560.6L820.1,550.5M826.5,560.6L826.5,550.5M820.1,550.5L826.5,550.5M833.0,560.6L833.0,553.4M839.5,560.6L839.5,553.4M833.0,553.4L839.5,553.4M823.3,550.5L823.3,541.2M836.2,553.4L836.2,541.2M823.3,541.2L836.2,541.2M825.8,531.0L825.8,541.2M825.8,541.2L829.8,541.2M748.5,531.0L825.8,531.0" stroke="#bebebe" stroke-width="1.1" fill="none" stroke-linecap="square"/>
<path d="M845.9,560.6L845.9,557.1M852.4,560.6L852.4,557.1M845.9,557.1L852.4,557.1M849.2,557.1L849.2,554.5M858.8,560.6L858.8,554.5M849.2,554.5L858.8,554.5M851.2,542.5L851.2,554.5M851.2,554.5L854.0,554.5M865.3,560.6L865.3,557.1M871.8,560.6L871.8,557.1M865.3,557.1L871.8,557.1M878.2,560.6L878.2,557.1M884.7,560.6L884.7,557.1M878.2,557.1L884.7,557.1M868.5,557.1L868.5,555.1M881.5,557.1L881.5,555.1M868.5,555.1L881.5,555.1M891.2,560.6L891.2,557.1M897.6,560.6L897.6,557.1M891.2,557.1L897.6,557.1M894.4,557.1L894.4,556.9M904.1,560.6L904.1,556.9M894.4,556.9L904.1,556.9M910.5,560.6L910.5,557.1M917.0,560.6L917.0,557.1M910.5,557.1L917.0,557.1M923.5,560.6L923.5,557.1M929.9,560.6L929.9,557.1M923.5,557.1L929.9,557.1M926.7,557.1L926.7,557.1M936.4,560.6L936.4,557.1M926.7,557.1L936.4,557.1M913.8,557.1L913.8,555.5M931.5,557.1L931.5,555.5M913.8,555.5L931.5,555.5M899.2,556.9L899.2,554.9M922.6,555.5L922.6,554.9M899.2,554.9L922.6,554.9M875.0,555.1L875.0,550.8M910.9,554.9L910.9,550.8M875.0,550.8L910.9,550.8M901.0,542.5L901.0,550.8M893.0,550.8L901.0,550.8M851.2,542.5L901.0,542.5" stroke="#bebebe" stroke-width="1.1" fill="none" stroke-linecap="square"/>
<path d="M942.8,560.6L942.8,555.4M949.3,560.6L949.3,555.4M942.8,555.4L949.3,555.4M955.8,560.6L955.8,555.0M962.2,560.6L962.2,555.0M955.8,555.0L962.2,555.0M946.1,555.4L946.1,548.5M959.0,555.0L959.0,548.5M946.1,548.5L959.0,548.5M968.7,560.6L968.7,551.8M975.1,560.6L975.1,551.8M968.7,551.8L975.1,551.8M952.5,548.5L952.5,543.8M971.9,551.8L971.9,543.8M952.5,543.8L971.9,543.8M958.8,536.5L958.8,543.8M958.8,543.8L962.2,543.8M981.6,560.6L981.6,557.1M988.0,560.6L988.0,557.1M981.6,557.1L988.0,557.1M984.8,557.1L984.8,553.5M994.5,560.6L994.5,553.5M984.8,553.5L994.5,553.5M1001.0,560.6L1001.0,557.1M1007.4,560.6L1007.4,557.1M1001.0,557.1L1007.4,557.1M1004.2,557.1L1004.2,555.1M1013.9,560.6L1013.9,555.1M1004.2,555.1L1013.9,555.1M1020.3,560.6L1020.3,557.1M1026.8,560.6L1026.8,557.1M1020.3,557.1L1026.8,557.1M1009.0,555.1L1009.0,552.2M1023.6,557.1L1023.6,552.2M1009.0,552.2L1023.6,552.2M989.7,553.5L989.7,547.6M1016.3,552.2L1016.3,547.6M989.7,547.6L1016.3,547.6M999.5,536.5L999.5,547.6M999.5,547.6L1003.0,547.6M958.8,536.5L999.5,536.5" stroke="#bebebe" stroke-width="1.1" fill="none" stroke-linecap="square"/>
<path d="M1033.3,560.6L1033.3,554.3M1039.7,560.6L1039.7,554.3M1033.3,554.3L1039.7,554.3M1046.2,560.6L1046.2,553.8M1052.7,560.6L1052.7,553.8M1046.2,553.8L1052.7,553.8M1036.5,554.3L1036.5,544.6M1049.4,553.8L1049.4,544.6M1036.5,544.6L1049.4,544.6M1041.5,530.8L1041.5,544.6M1041.5,544.6L1043.0,544.6M1065.6,560.6L1065.6,557.1M1072.0,560.6L1072.0,557.1M1065.6,557.1L1072.0,557.1M1059.1,560.6L1059.1,557.1M1068.8,557.1L1068.8,557.1M1059.1,557.1L1068.8,557.1M1085.0,560.6L1085.0,557.1M1091.4,560.6L1091.4,557.1M1085.0,557.1L1091.4,557.1M1078.5,560.6L1078.5,557.1M1088.2,557.1L1088.2,557.1M1078.5,557.1L1088.2,557.1M1104.3,560.6L1104.3,557.1M1110.8,560.6L1110.8,557.1M1104.3,557.1L1110.8,557.1M1097.9,560.6L1097.9,557.1M1107.6,557.1L1107.6,557.1M1097.9,557.1L1107.6,557.1M1083.3,557.1L1083.3,555.4M1102.7,557.1L1102.7,555.4M1083.3,555.4L1102.7,555.4M1064.0,557.1L1064.0,552.4M1093.0,555.4L1093.0,552.4M1064.0,552.4L1093.0,552.4M1117.2,560.6L1117.2,556.9M1123.7,560.6L1123.7,556.9M1117.2,556.9L1123.7,556.9M1130.2,560.6L1130.2,557.1M1136.6,560.6L1136.6,557.1M1130.2,557.1L1136.6,557.1M1133.4,557.1L1133.4,555.4M1143.1,560.6L1143.1,555.4M1133.4,555.4L1143.1,555.4M1120.5,556.9L1120.5,551.7M1138.2,555.4L1138.2,551.7M1120.5,551.7L1138.2,551.7M1078.5,552.4L1078.5,545.4M1129.4,551.7L1129.4,545.4M1078.5,545.4L1129.4,545.4M1088.0,530.8L1088.0,545.4M1088.0,545.4L1103.9,545.4M1041.5,530.8L1088.0,530.8" stroke="#bebebe" stroke-width="1.1" fill="none" stroke-linecap="square"/>
<path d="M1162.5,560.6L1162.5,557.1M1168.9,560.6L1168.9,557.1M1162.5,557.1L1168.9,557.1M1156.0,560.6L1156.0,555.9M1165.7,557.1L1165.7,555.9M1156.0,555.9L1165.7,555.9M1149.5,560.6L1149.5,551.7M1160.9,555.9L1160.9,551.7M1149.5,551.7L1160.9,551.7M1175.4,560.6L1175.4,554.3M1181.8,560.6L1181.8,554.3M1175.4,554.3L1181.8,554.3M1155.2,551.7L1155.2,548.1M1178.6,554.3L1178.6,548.1M1155.2,548.1L1178.6,548.1M1165.0,538.8L1165.0,548.1M1165.0,548.1L1166.9,548.1M1188.3,560.6L1188.3,552.8M1194.8,560.6L1194.8,552.8M1188.3,552.8L1194.8,552.8M1190.5,538.8L1190.5,552.8M1190.5,552.8L1191.5,552.8M1165.0,538.8L1190.5,538.8" stroke="#bebebe" stroke-width="1.1" fill="none" stroke-linecap="square"/>
</g>
<g id="G"><text x="0.20" y="762.50" style="font-size:17.8px" font-weight="bold" stroke="#000" stroke-width="0.5" textLength="10.60" lengthAdjust="spacingAndGlyphs">g</text>
<text x="41.20" y="798.75" text-anchor="middle" textLength="61.50" lengthAdjust="spacingAndGlyphs">Amygdala</text>
<text x="41.50" y="813.75" text-anchor="middle" textLength="49.50" lengthAdjust="spacingAndGlyphs">network</text>
<rect x="87.00" y="823.25" width="196.00" height="11.25" fill="#e52d27" stroke="none" stroke-width="1" />
<g shape-rendering="crispEdges"><rect x="86.75" y="842" width="16.68" height="34.50" fill="#b61f2e"/><rect x="86.75" y="876.2" width="16.68" height="34.40" fill="#de715a"/><rect x="86.75" y="910.3" width="16.68" height="34.50" fill="#d2594a"/><rect x="103.12" y="842" width="16.68" height="34.50" fill="#c8433f"/><rect x="103.12" y="876.2" width="16.68" height="34.40" fill="#de715a"/><rect x="103.12" y="910.3" width="16.68" height="34.50" fill="#8c0c25"/><rect x="119.50" y="842" width="16.68" height="34.50" fill="#ec9475"/><rect x="119.50" y="876.2" width="16.68" height="34.40" fill="#d6604d"/><rect x="119.50" y="910.3" width="16.68" height="34.50" fill="#720421"/><rect x="135.88" y="842" width="16.68" height="34.50" fill="#f3a280"/><rect x="135.88" y="876.2" width="16.68" height="34.40" fill="#e27c62"/><rect x="135.88" y="910.3" width="16.68" height="34.50" fill="#9c1127"/><rect x="152.25" y="842" width="16.68" height="34.50" fill="#f6b292"/><rect x="152.25" y="876.2" width="16.68" height="34.40" fill="#fae9df"/><rect x="152.25" y="910.3" width="16.68" height="34.50" fill="#d6604d"/><rect x="168.62" y="842" width="16.68" height="34.50" fill="#f3a280"/><rect x="168.62" y="876.2" width="16.68" height="34.40" fill="#f9f0eb"/><rect x="168.62" y="910.3" width="16.68" height="34.50" fill="#e27c62"/><rect x="185.00" y="842" width="16.68" height="34.50" fill="#fcdfce"/><rect x="185.00" y="876.2" width="16.68" height="34.40" fill="#f8f2ef"/><rect x="185.00" y="910.3" width="16.68" height="34.50" fill="#eb9072"/><rect x="201.38" y="842" width="16.68" height="34.50" fill="#fcd8c3"/><rect x="201.38" y="876.2" width="16.68" height="34.40" fill="#f9ede7"/><rect x="201.38" y="910.3" width="16.68" height="34.50" fill="#e8896d"/><rect x="217.75" y="842" width="16.68" height="34.50" fill="#f5aa89"/><rect x="217.75" y="876.2" width="16.68" height="34.40" fill="#fbd1ba"/><rect x="217.75" y="910.3" width="16.68" height="34.50" fill="#e58268"/><rect x="234.12" y="842" width="16.68" height="34.50" fill="#d96752"/><rect x="234.12" y="876.2" width="16.68" height="34.40" fill="#f8bc9f"/><rect x="234.12" y="910.3" width="16.68" height="34.50" fill="#d2594a"/><rect x="250.50" y="842" width="16.68" height="34.50" fill="#e8896d"/><rect x="250.50" y="876.2" width="16.68" height="34.40" fill="#f8bc9f"/><rect x="250.50" y="910.3" width="16.68" height="34.50" fill="#de715a"/><rect x="266.88" y="842" width="16.68" height="34.50" fill="#f8bc9f"/><rect x="266.88" y="876.2" width="16.68" height="34.40" fill="#e8896d"/><rect x="266.88" y="910.3" width="16.68" height="34.50" fill="#f9c3a8"/></g>
<rect x="86.75" y="842.00" width="196.50" height="102.50" fill="none" stroke="#000" stroke-width="1.3" />
<text x="77.00" y="866.75" text-anchor="end">Consume</text>
<text x="77.00" y="900.00" text-anchor="end">Malaise</text>
<text x="77.00" y="933.75" text-anchor="end">Retrieval</text>
<text x="100.54" y="952.00" text-anchor="end" transform="rotate(-90 100.54 952.00)">CEAm</text>
<text x="116.91" y="952.00" text-anchor="end" transform="rotate(-90 116.91 952.00)">TR</text>
<text x="133.29" y="952.00" text-anchor="end" transform="rotate(-90 133.29 952.00)">BLAp</text>
<text x="149.66" y="952.00" text-anchor="end" transform="rotate(-90 149.66 952.00)">AI</text>
<text x="166.04" y="952.00" text-anchor="end" transform="rotate(-90 166.04 952.00)">BMAa</text>
<text x="182.41" y="952.00" text-anchor="end" transform="rotate(-90 182.41 952.00)">COAa</text>
<text x="198.79" y="952.00" text-anchor="end" transform="rotate(-90 198.79 952.00)">PAA</text>
<text x="215.16" y="952.00" text-anchor="end" transform="rotate(-90 215.16 952.00)">DMX</text>
<text x="231.54" y="952.00" text-anchor="end" transform="rotate(-90 231.54 952.00)">CEAc</text>
<text x="247.91" y="952.00" text-anchor="end" transform="rotate(-90 247.91 952.00)">CEAl</text>
<text x="264.29" y="952.00" text-anchor="end" transform="rotate(-90 264.29 952.00)">PSTN</text>
<text x="280.66" y="952.00" text-anchor="end" transform="rotate(-90 280.66 952.00)">EPv</text>
<path d="M109.2,774.2L220.5,774.2M109.2,774.2L109.2,799.2M94.9,799.2L123.8,799.2M94.9,799.2L94.9,816.8M123.8,799.2L123.8,804.5M111.3,804.5L136.0,804.5M111.3,804.5L111.3,816.8M136.0,804.5L136.0,812.0M127.7,812.0L144.1,812.0M127.7,812.0L127.7,816.8M144.1,812.0L144.1,816.8M220.5,774.2L220.5,792.5M184.5,792.5L256.2,792.5M184.5,792.5L184.5,806.8M168.8,806.8L200.8,806.8M168.8,806.8L168.8,812.8M160.4,812.8L176.8,812.8M160.4,812.8L160.4,816.8M176.8,812.8L176.8,816.8M200.8,806.8L200.8,813.8M193.2,813.8L209.6,813.8M193.2,813.8L193.2,816.8M209.6,813.8L209.6,816.8M256.2,792.5L256.2,802.5M237.5,802.5L275.1,802.5M275.1,802.5L275.1,816.8M237.5,802.5L237.5,808.8M225.9,808.8L250.0,808.8M225.9,808.8L225.9,816.8M250.0,808.8L250.0,812.5M242.3,812.5L258.7,812.5M242.3,812.5L242.3,816.8M258.7,812.5L258.7,816.8" stroke="#e52d27" stroke-width="1.1" fill="none" stroke-linecap="square"/>
<g opacity="0.95">
<path d="M61.7,1076.7 C62.8,1071.1 65.1,1067.3 68.2,1064.8 C71.2,1062.2 76.1,1061.0 80.1,1061.5 C84.1,1062.0 87.9,1064.0 92.0,1068.0 C96.2,1072.0 102.1,1078.8 105.0,1085.3 C107.9,1091.8 110.1,1101.2 109.3,1107.0 C108.6,1112.8 105.0,1117.3 100.7,1120.0 C96.3,1122.7 88.8,1123.6 83.3,1123.3 C77.9,1122.9 71.8,1122.0 68.2,1117.8 C64.6,1113.7 62.8,1105.2 61.7,1098.3 C60.6,1091.5 60.6,1082.3 61.7,1076.7Z" stroke="#d0d0cd" stroke-width="0.6" fill="#e2e2df" />
<path d="M70.3,1081.0 C71.8,1074.1 79.0,1070.2 83.3,1070.2 C87.7,1070.2 93.8,1075.6 96.3,1081.0 C98.9,1086.4 99.9,1096.9 98.5,1102.7 C97.1,1108.5 91.6,1114.2 87.7,1115.7 C83.7,1117.1 77.6,1117.1 74.7,1111.3 C71.8,1105.6 68.9,1087.9 70.3,1081.0Z" stroke="none" stroke-width="1" fill="#d6d6d3" />
<path d="M191.7,1033.3 C191.7,1018.5 199.3,1024.7 204.7,1022.5 C210.1,1020.3 217.7,1019.4 224.2,1020.3 C230.7,1021.2 238.1,1023.6 243.7,1027.9 C249.3,1032.3 254.3,1039.3 257.8,1046.3 C261.2,1053.4 263.4,1061.5 264.3,1070.2 C265.2,1078.8 264.8,1090.4 263.2,1098.3 C261.6,1106.3 258.5,1113.5 254.5,1117.8 C250.5,1122.2 244.8,1124.0 239.3,1124.3 C233.9,1124.7 227.8,1122.2 222.0,1120.0 C216.2,1117.8 209.7,1125.8 204.7,1111.3 C199.6,1096.9 191.7,1048.1 191.7,1033.3Z" stroke="#cfcfcc" stroke-width="0.6" fill="#e4e4e1" />
<path d="M111.5,1111.3 C112.2,1117.1 123.4,1124.0 131.0,1128.7 C138.6,1133.4 146.9,1137.3 157.0,1139.5 C167.1,1141.7 180.5,1143.5 191.7,1141.7 C202.9,1139.9 214.1,1132.3 224.2,1128.7 C234.3,1125.1 248.4,1125.8 252.4,1120.0 C256.3,1114.2 254.5,1101.2 248.0,1094.0 C241.5,1086.8 222.7,1080.3 213.3,1076.7 C204.0,1073.1 200.3,1071.6 191.7,1072.3 C183.0,1073.1 172.2,1077.4 161.3,1081.0 C150.5,1084.6 135.0,1089.0 126.7,1094.0 C118.4,1099.1 110.8,1105.6 111.5,1111.3Z" stroke="none" stroke-width="1" fill="#e3e3e0" />
<path d="M85.5,1061.5 C87.1,1054.3 90.9,1049.6 96.3,1044.2 C101.8,1038.8 110.1,1033.3 118.0,1029.0 C126.0,1024.7 135.3,1020.9 144.0,1018.2 C152.7,1015.5 162.1,1013.5 170.0,1012.8 C178.0,1012.0 186.4,1012.2 191.7,1013.8 C196.9,1015.5 200.0,1018.5 201.4,1022.5 C202.9,1026.5 202.0,1031.2 200.3,1037.7 C198.7,1044.2 194.6,1053.6 191.7,1061.5 C188.8,1069.5 186.6,1078.5 183.0,1085.3 C179.4,1092.2 176.5,1097.3 170.0,1102.7 C163.5,1108.1 152.7,1114.6 144.0,1117.8 C135.3,1121.1 125.6,1123.3 118.0,1122.2 C110.4,1121.1 103.7,1117.1 98.5,1111.3 C93.3,1105.6 88.8,1095.8 86.6,1087.5 C84.4,1079.2 83.9,1068.7 85.5,1061.5Z" stroke="#c9c9c6" stroke-width="0.7" fill="#e6e6e3" />
<path d="M98.5,1076.7 C100.7,1073.1 105.0,1061.5 111.5,1055.0 C118.0,1048.5 127.8,1042.4 137.5,1037.7 C147.3,1033.0 160.3,1028.3 170.0,1026.8 C179.8,1025.4 191.7,1028.6 196.0,1029.0" stroke="#d0d0cd" stroke-width="2.2" fill="none" />
<path d="M200.3,1029.0 C198.9,1032.6 193.8,1042.7 191.7,1050.7 C189.5,1058.6 187.3,1068.7 187.3,1076.7 C187.3,1084.6 188.8,1092.6 191.7,1098.3 C194.6,1104.1 200.0,1109.9 204.7,1111.3 C209.4,1112.8 215.5,1111.3 219.8,1107.0 C224.2,1102.7 229.2,1094.0 230.7,1085.3 C232.1,1076.7 231.4,1063.7 228.5,1055.0 C225.6,1046.3 218.0,1037.7 213.3,1033.3 C208.7,1029.0 202.5,1029.7 200.3,1029.0" stroke="#d2d2cf" stroke-width="3" fill="#dcdcd9" />
<path d="M198.2,1061.5 C199.4,1057.9 202.2,1054.6 204.7,1055.0 C207.2,1055.4 211.9,1059.3 213.3,1063.7 C214.8,1068.0 214.8,1077.0 213.3,1081.0 C211.9,1085.0 207.4,1088.2 204.7,1087.5 C202.0,1086.8 198.2,1081.0 197.1,1076.7 C196.0,1072.3 196.9,1065.1 198.2,1061.5Z" stroke="#cfcfcc" stroke-width="1.5" fill="#e8e8e5" />
<path d="M161.3,1107.0 C164.2,1104.1 174.0,1097.3 178.7,1089.7 C183.4,1082.1 186.1,1071.6 189.5,1061.5 C192.9,1051.4 197.6,1034.4 199.3,1029.0" stroke="#d0d0cd" stroke-width="2" fill="none" />
</g>
<g opacity="0.82">
<path d="M126.7,1089.7 C128.3,1087.7 134.3,1087.1 137.5,1085.3 C140.8,1083.5 142.2,1080.3 146.2,1078.8 C150.1,1077.4 156.6,1076.3 161.3,1076.7 C166.0,1077.0 171.8,1078.5 174.3,1081.0 C176.9,1083.5 177.6,1089.0 176.5,1091.8 C175.4,1094.7 171.1,1096.5 167.8,1098.3 C164.6,1100.1 160.3,1100.5 157.0,1102.7 C153.8,1104.8 152.0,1109.5 148.3,1111.3 C144.7,1113.1 138.2,1114.2 135.3,1113.5 C132.5,1112.8 131.0,1109.5 131.0,1107.0 C131.0,1104.5 135.9,1100.0 135.3,1098.3 C134.8,1096.7 129.2,1098.7 127.8,1097.3 C126.3,1095.8 125.0,1091.7 126.7,1089.7Z" stroke="none" stroke-width="1" fill="#e8322d" />
<path d="M161.3,1113.5 C164.1,1110.6 168.9,1104.7 172.2,1102.7 C175.4,1100.7 178.0,1100.7 180.8,1101.6 C183.7,1102.5 186.3,1106.1 189.5,1108.1 C192.8,1110.1 196.4,1112.4 200.3,1113.5 C204.3,1114.6 211.0,1112.8 213.3,1114.6 C215.7,1116.4 215.9,1120.9 214.4,1124.3 C213.0,1127.8 208.8,1132.3 204.7,1135.2 C200.5,1138.1 195.3,1140.6 189.5,1141.7 C183.7,1142.8 175.2,1142.4 170.0,1141.7 C164.8,1141.0 160.3,1139.5 158.1,1137.3 C155.9,1135.2 156.5,1131.2 157.0,1128.7 C157.6,1126.2 161.5,1123.6 161.3,1122.2 C161.2,1120.7 155.9,1121.5 155.9,1120.0 C155.9,1118.6 158.6,1116.4 161.3,1113.5Z" stroke="none" stroke-width="1" fill="#e8322d" />
<path d="M229.6,1082.1 C230.1,1081.3 236.3,1080.0 239.3,1080.6 C242.4,1081.1 245.6,1083.5 248.0,1085.3 C250.5,1087.2 254.4,1091.3 254.1,1091.8 C253.7,1092.4 248.8,1089.7 245.9,1088.6 C242.9,1087.5 238.8,1086.4 236.1,1085.3 C233.4,1084.3 229.1,1082.9 229.6,1082.1Z" stroke="none" stroke-width="1" fill="#e8322d" />
</g>
<path d="M138.6,1088.6 C139.3,1086.1 145.1,1081.9 148.3,1081.0 C151.6,1080.1 157.4,1081.4 158.1,1083.2 C158.8,1085.0 155.0,1089.7 152.7,1091.8 C150.3,1094.0 146.4,1096.7 144.0,1096.2 C141.7,1095.6 137.9,1091.1 138.6,1088.6Z" stroke="none" stroke-width="1" fill="#d92a26" opacity="0.6"/>
<path d="M165.7,1117.8 C167.5,1115.0 175.1,1111.3 178.7,1111.3 C182.3,1111.3 187.3,1115.0 187.3,1117.8 C187.3,1120.7 181.9,1126.9 178.7,1128.7 C175.4,1130.5 170.0,1130.5 167.8,1128.7 C165.7,1126.9 163.9,1120.7 165.7,1117.8Z" stroke="none" stroke-width="1" fill="#d92a26" opacity="0.6"/>
</g>
<g id="H"><text x="346.80" y="766.40" style="font-size:17.8px" font-weight="bold" stroke="#000" stroke-width="0.5" textLength="10.40" lengthAdjust="spacingAndGlyphs">h</text>
<text x="358.30" y="866.90" text-anchor="middle" transform="rotate(-90 358.30 866.90)" textLength="53.60" lengthAdjust="spacingAndGlyphs">−1.9 mm</text>
<text x="357.70" y="1049.50" text-anchor="middle" transform="rotate(-90 357.70 1049.50)" textLength="53.70" lengthAdjust="spacingAndGlyphs">−4.3 mm</text>
<path d="M388.1,826.6L411.6,847.8M374.7,872.8L399.3,869.4M378.5,892.1L400.1,888.2M427.6,795.8L438.6,821.8M463.2,784.3L467.5,809.7M472.8,783.9L475.2,807.8M483.4,797.8L475.7,807.8M386.2,903.7L403.9,900.2M406.4,813.2L423.8,832.0M447.8,788.1L453.6,814.1M440.1,803.5L474.8,836.3M436.3,797.8L447.8,816.0" stroke="#cbcbcb" stroke-width="1.3" fill="none" />
<ellipse cx="474.8" cy="865.1" rx="9.6" ry="13.5" fill="none" stroke="#cbcbcb" stroke-width="1.2" transform="rotate(-16 474.8 865.1)"/>
<ellipse cx="482.5" cy="847.8" rx="7.7" ry="7.7" fill="none" stroke="#cbcbcb" stroke-width="1.2" transform="rotate(-24 482.5 847.8)"/>
<ellipse cx="465.1" cy="886.3" rx="8.7" ry="9.6" fill="none" stroke="#cbcbcb" stroke-width="1.2" transform="rotate(-6 465.1 886.3)"/>
<ellipse cx="480.5" cy="909.4" rx="9.6" ry="8.7" fill="none" stroke="#cbcbcb" stroke-width="1.2" transform="rotate(-21 480.5 909.4)"/>
<ellipse cx="486.3" cy="930.6" rx="5.8" ry="11.6" fill="none" stroke="#cbcbcb" stroke-width="1.2" transform="rotate(-26 486.3 930.6)"/>
<ellipse cx="472.8" cy="921.0" rx="6.7" ry="5.8" fill="none" stroke="#cbcbcb" stroke-width="1.2" transform="rotate(-6 472.8 921.0)"/>
<ellipse cx="463.2" cy="859.4" rx="5.8" ry="7.7" fill="none" stroke="#cbcbcb" stroke-width="1.2" transform="rotate(25 463.2 859.4)"/>
<ellipse cx="486.3" cy="878.6" rx="5.8" ry="9.6" fill="none" stroke="#cbcbcb" stroke-width="1.2" transform="rotate(18 486.3 878.6)"/>
<ellipse cx="455.5" cy="874.8" rx="5.8" ry="7.7" fill="none" stroke="#cbcbcb" stroke-width="1.2" transform="rotate(16 455.5 874.8)"/>
<ellipse cx="474.8" cy="938.3" rx="7.7" ry="5.8" fill="none" stroke="#cbcbcb" stroke-width="1.2" transform="rotate(-17 474.8 938.3)"/>
<ellipse cx="467.1" cy="840.1" rx="7.7" ry="5.8" fill="none" stroke="#cbcbcb" stroke-width="1.2" transform="rotate(2 467.1 840.1)"/>
<path d="M453.6,815.1 C454.9,814.2 462.5,811.7 465.1,810.9 C467.8,810.0 471.3,808.2 473.2,808.5 C475.2,808.9 476.9,812.1 479.6,813.7 C482.2,815.3 491.3,818.8 493.1,820.5 C494.9,822.1 494.5,826.0 493.1,826.3 C491.6,826.5 485.2,823.9 482.5,822.4 C479.8,820.9 475.4,815.5 472.8,814.7 C470.3,813.9 465.5,815.6 463.2,816.0 C460.9,816.5 456.8,817.9 455.5,817.8 C454.2,817.7 452.3,816.0 453.6,815.1Z" stroke="#111" stroke-width="0.8" fill="#cfcfcf" />
<path d="M417.0,927.7 C416.1,926.6 413.4,924.0 411.6,921.0 C409.9,917.9 408.0,913.9 406.4,909.4 C404.8,904.9 403.2,898.8 402.0,894.0 C400.8,889.2 399.5,885.0 399.3,880.5 C399.1,876.1 399.5,871.9 400.6,867.1 C401.8,862.3 403.7,856.8 406.4,851.7 C409.2,846.5 413.0,840.8 417.0,836.3 C421.0,831.8 425.4,828.1 430.5,824.7 C435.6,821.3 443.6,818.0 447.8,816.0 C452.0,814.1 454.2,813.6 455.5,813.2" stroke="#111" stroke-width="1.8" fill="none" />
<path d="M402.0,881.5 C402.3,879.3 402.6,872.7 403.9,868.0 C405.2,863.4 407.0,858.4 409.7,853.6 C412.4,848.8 416.1,843.5 420.3,839.2 C424.5,834.8 431.4,830.0 434.7,827.6 C438.0,825.2 439.2,825.2 440.1,824.7" stroke="#111" stroke-width="0.8" fill="none" />
<path d="M439.2,828.2 C440.6,828.2 441.8,834.7 444.0,836.3 C446.1,837.9 452.7,839.3 455.5,840.1 C458.3,840.9 465.1,841.6 465.1,842.0 C465.1,842.5 458.2,842.8 455.5,843.6 C452.8,844.4 447.5,846.2 444.9,848.2 C442.4,850.2 438.0,855.6 436.3,858.4 C434.5,861.2 432.0,866.2 432.0,869.0 C432.0,871.7 436.5,878.0 436.3,879.0 C436.1,880.0 432.1,878.5 430.5,876.7 C428.9,874.8 424.9,868.0 424.3,865.1 C423.7,862.3 424.7,857.3 426.1,855.1 C427.4,853.0 433.8,851.3 434.7,848.8 C435.6,846.3 432.2,839.0 432.8,836.3 C433.4,833.5 437.7,828.2 439.2,828.2Z" stroke="#111" stroke-width="1.0" fill="#cfcfcf" />
<path d="M439.2,827.6 C438.1,829.0 433.5,832.7 432.8,836.3 C432.1,839.8 435.9,845.6 434.7,848.8 C433.5,851.9 427.5,852.4 425.7,855.1 C423.8,857.9 423.1,861.6 423.8,865.1 C424.4,868.7 427.0,872.5 429.5,876.7 C432.1,880.9 435.8,885.8 439.2,890.2 C442.5,894.5 446.6,899.7 449.7,902.7 C452.9,905.6 456.5,907.0 457.8,907.9" stroke="#111" stroke-width="1.6" fill="none" />
<path d="M447.8,844.0 C449.3,843.4 453.4,840.8 456.5,840.5 C459.5,840.2 464.5,842.1 466.1,842.4" stroke="#111" stroke-width="1.8" fill="none" />
<path d="M444.9,861.3 C444.0,862.9 439.6,867.4 439.2,870.9 C438.7,874.5 440.0,878.6 442.0,882.5 C444.1,886.3 449.1,889.9 451.7,894.0 C454.2,898.2 456.5,905.3 457.4,907.5" stroke="#111" stroke-width="1.0" fill="none" />
<path d="M474.8,851.7 C476.1,851.0 479.6,851.3 482.5,847.8 C485.4,844.3 490.5,833.4 492.1,830.5" stroke="#111" stroke-width="1.0" fill="none" />
<path d="M475.2,851.7 C476.2,850.9 479.6,848.8 481.5,846.9 C483.4,844.9 485.5,841.2 486.3,840.1" stroke="#111" stroke-width="0.7" fill="none" />
<path d="M446.9,918.1 C447.5,918.4 453.7,927.3 455.5,929.6 C457.3,932.0 463.2,939.4 465.1,941.2 C467.1,943.0 475.0,947.6 474.8,947.5 C474.6,947.5 465.3,941.4 463.2,940.2 C461.1,939.0 455.0,936.8 453.6,935.4 C452.1,934.1 449.5,928.5 448.8,926.8 C448.1,925.0 446.2,917.8 446.9,918.1Z" stroke="#111" stroke-width="0.8" fill="#cfcfcf" />
<ellipse cx="479.0" cy="896.3" rx="1.6" ry="3.2" fill="#fff" stroke="#111" stroke-width="1" transform="rotate(25 479.0 896.3)"/>
<ellipse cx="470.0" cy="924.8" rx="1.6" ry="3.2" fill="#fff" stroke="#111" stroke-width="1" transform="rotate(25 470.0 924.8)"/>
<path d="M417.0,903.7 L427.6,899.4 L434.3,902.7 L440.5,910.4 L436.3,916.2 L434.3,922.9 L424.7,921.9 L421.8,914.2Z" stroke="#e5332d" stroke-width="1.0" fill="#fbd3ce" />
<path d="M405.5,915.2 L410.3,921.0 L417.0,929.6 L424.7,922.9 L434.3,923.9 L436.3,932.5 L440.1,946.0 L424.7,954.7 L413.2,953.7 L409.3,950.8 L416.0,936.4 L411.2,926.8Z" stroke="#e5332d" stroke-width="1.0" fill="#fbd3ce" />
<path d="M422.8,900.8 L424.7,909.4 L429.5,913.3 L430.5,903.7ZM427.6,899.4 L428.6,907.5M417.0,929.6 L419.9,942.2 L423.8,954.7M424.7,922.9 L419.9,930.6 L436.3,932.5M419.9,930.6 L416.0,936.4" stroke="#e5332d" stroke-width="0.9" fill="none" />
<path d="M414.1,903.7 C414.8,904.6 416.9,907.7 418.0,909.4 C419.1,911.2 420.4,913.4 420.9,914.2" stroke="#111" stroke-width="1.3" fill="none" />
<ellipse cx="434.7" cy="918.7" rx="1.2" ry="3" fill="#111" transform="rotate(-10 434.7 918.7)"/>
<path d="M397.8,901.3 L400.1,905.6 L402.0,911.0 L400.5,909.4Z" stroke="#111" stroke-width="0.8" fill="#111" />
<path d="M493.1,791.6 C492.5,790.8 491.2,787.8 489.2,786.6 C487.2,785.4 483.2,783.9 479.6,783.5 C476.0,783.1 469.9,783.2 465.1,783.9 C460.4,784.6 453.0,786.3 447.8,788.1 C442.6,789.9 435.7,793.1 430.5,795.8 C425.3,798.6 418.1,802.9 413.2,806.4 C408.3,809.9 401.9,815.1 397.8,819.3 C393.6,823.6 388.4,829.9 385.2,834.7 C382.1,839.6 378.9,846.2 377.0,851.7 C375.0,857.1 372.9,865.7 372.3,870.9 C371.8,876.1 372.2,882.0 373.1,886.3 C374.0,890.7 376.7,896.2 378.5,899.8 C380.3,903.4 383.5,906.8 385.2,910.4 C387.0,914.0 388.6,919.7 390.4,923.9 C392.3,928.1 395.5,934.6 397.8,938.3 C400.0,942.1 402.9,946.4 405.5,948.9 C408.1,951.3 412.2,953.7 415.1,954.7 C418.0,955.6 421.5,955.9 424.7,955.2 C427.9,954.6 433.5,951.9 436.3,950.2 C439.0,948.6 441.5,946.3 443.0,944.5 C444.5,942.7 446.0,940.7 446.3,938.3 C446.6,935.9 445.2,931.6 445.1,928.7 C445.0,925.8 443.9,918.9 445.5,919.1 C447.1,919.2 452.6,926.3 455.5,929.6 C458.5,933.0 462.3,938.5 465.1,941.2 C468.0,943.9 470.6,946.4 474.8,947.5 C479.0,948.7 490.3,948.7 493.1,948.9Z" stroke="#111" stroke-width="1.1" fill="none" />
<rect x="400.50" y="895.50" width="44.00" height="63.00" fill="none" stroke="#111" stroke-width="1.2" stroke-dasharray="4.2 3"/>
<path d="M383.1,1020.9L399.1,1034.4M372.1,1044.6L392.3,1049.6M372.1,1059.8L391.5,1061.4M373.8,1075.0L393.2,1073.3M395.7,1005.7L409.2,1017.5M410.9,992.2L421.1,1006.6M439.6,977.0L444.7,998.1M456.5,971.1L458.2,993.9M468.3,970.3L465.0,989.7M485.2,975.3L473.4,990.5M405.9,995.6L416.0,1010.8M382.2,1096.9L397.4,1093.5" stroke="#cbcbcb" stroke-width="1.3" fill="none" />
<ellipse cx="458.2" cy="1047.9" rx="8.4" ry="15.2" fill="none" stroke="#cbcbcb" stroke-width="1.2" transform="rotate(-3 458.2 1047.9)"/>
<ellipse cx="471.7" cy="1034.4" rx="6.8" ry="10.1" fill="none" stroke="#cbcbcb" stroke-width="1.2" transform="rotate(-10 471.7 1034.4)"/>
<ellipse cx="444.7" cy="1058.1" rx="6.8" ry="8.4" fill="none" stroke="#cbcbcb" stroke-width="1.2" transform="rotate(-29 444.7 1058.1)"/>
<ellipse cx="465.0" cy="1071.6" rx="10.1" ry="6.8" fill="none" stroke="#cbcbcb" stroke-width="1.2" transform="rotate(29 465.0 1071.6)"/>
<ellipse cx="454.8" cy="1085.1" rx="8.4" ry="6.8" fill="none" stroke="#cbcbcb" stroke-width="1.2" transform="rotate(-39 454.8 1085.1)"/>
<ellipse cx="478.5" cy="1058.1" rx="6.8" ry="11.8" fill="none" stroke="#cbcbcb" stroke-width="1.2" transform="rotate(0 478.5 1058.1)"/>
<ellipse cx="441.3" cy="1078.3" rx="6.8" ry="6.8" fill="none" stroke="#cbcbcb" stroke-width="1.2" transform="rotate(32 441.3 1078.3)"/>
<ellipse cx="475.1" cy="1093.5" rx="8.4" ry="6.8" fill="none" stroke="#cbcbcb" stroke-width="1.2" transform="rotate(-34 475.1 1093.5)"/>
<ellipse cx="485.2" cy="1031.1" rx="5.1" ry="8.4" fill="none" stroke="#cbcbcb" stroke-width="1.2" transform="rotate(4 485.2 1031.1)"/>
<ellipse cx="451.4" cy="1027.7" rx="6.8" ry="5.1" fill="none" stroke="#cbcbcb" stroke-width="1.2" transform="rotate(9 451.4 1027.7)"/>
<path d="M434.6,1031.1 C432.0,1032.7 423.6,1037.8 419.4,1041.2 C415.1,1044.6 411.6,1047.4 409.2,1051.3 C406.8,1055.3 405.3,1060.0 405.0,1064.8 C404.7,1069.6 405.7,1075.2 407.5,1080.0 C409.4,1084.8 414.6,1091.3 416.0,1093.5" stroke="#cbcbcb" stroke-width="1.2" fill="none" />
<path d="M434.6,1108.7 C432.1,1107.8 420.0,1104.0 416.0,1102.0 C411.9,1099.9 406.9,1096.2 404.2,1093.5 C401.5,1090.8 397.4,1085.5 395.7,1081.7 C394.0,1077.9 392.0,1069.3 391.5,1064.8 C391.0,1060.3 391.2,1052.4 392.0,1047.9 C392.8,1043.4 395.3,1035.3 397.4,1031.1 C399.5,1026.8 404.4,1019.2 407.5,1015.9 C410.7,1012.5 417.2,1008.0 421.1,1005.7 C424.9,1003.5 432.2,1000.4 436.3,999.0 C440.3,997.6 447.6,996.5 451.4,995.3 C455.3,994.0 462.4,990.3 465.0,989.7 C467.5,989.1 470.2,988.4 470.9,990.5 C471.5,992.7 470.4,1003.3 469.7,1005.7 C468.9,1008.1 466.8,1008.6 465.3,1008.4 C463.8,1008.2 459.4,1005.6 458.2,1004.4 C457.0,1003.2 459.2,999.7 456.5,999.3 C453.8,998.9 442.3,1000.3 437.9,1001.5 C433.5,1002.7 427.3,1006.0 423.6,1008.3 C419.9,1010.5 413.2,1015.1 410.1,1018.4 C406.9,1021.7 402.0,1028.7 399.9,1032.7 C397.9,1036.8 395.6,1044.5 394.9,1048.8 C394.1,1053.1 393.9,1060.7 394.4,1064.8 C394.8,1069.0 396.7,1076.5 398.3,1080.0 C399.8,1083.6 405.1,1090.0 406.2,1091.5Z" stroke="#111" stroke-width="0.9" fill="#cfcfcf" />
<path d="M434.6,1108.7 C431.5,1107.6 421.1,1104.5 416.0,1102.0 C410.9,1099.4 407.5,1096.9 404.2,1093.5 C400.8,1090.2 397.1,1083.7 395.7,1081.7" stroke="#111" stroke-width="2.0" fill="none" />
<path d="M492.8,1017.5 C491.6,1017.1 488.5,1015.2 485.2,1015.0 C482.0,1014.9 477.3,1015.9 473.4,1016.7 C469.5,1017.5 464.4,1018.8 461.6,1020.1 C458.8,1021.3 458.8,1022.5 456.5,1024.3 C454.3,1026.1 452.2,1028.1 448.1,1031.1 C444.0,1034.0 435.5,1038.7 432.0,1042.0 C428.5,1045.4 427.9,1047.5 427.0,1051.3 C426.0,1055.1 425.4,1060.3 426.1,1064.8 C426.8,1069.3 428.9,1073.8 431.2,1078.3 C433.4,1082.8 436.5,1087.9 439.6,1091.8 C442.7,1095.8 446.7,1099.4 449.8,1102.0 C452.9,1104.5 455.7,1105.8 458.2,1107.0 C460.7,1108.3 463.1,1110.3 465.0,1109.6 C466.8,1108.9 468.5,1103.9 469.2,1102.8" stroke="#111" stroke-width="1.5" fill="none" />
<path d="M492.8,999.0 C492.1,1000.7 490.1,1006.4 488.6,1009.1 C487.1,1011.8 484.4,1014.0 483.5,1015.0" stroke="#111" stroke-width="1.2" fill="none" />
<path d="M483.5,1015.0 C482.8,1017.0 487.1,1016.0 488.6,1017.5 C490.1,1019.1 492.1,1026.3 492.8,1024.3 C493.5,1022.3 494.4,1007.3 492.8,1005.7 C491.3,1004.2 484.2,1013.0 483.5,1015.0Z" stroke="#111" stroke-width="0.8" fill="#cfcfcf" />
<path d="M432.0,1069.9 C432.0,1068.8 433.0,1074.7 434.6,1076.6 C436.1,1078.6 440.5,1079.5 441.3,1081.7 C442.2,1084.0 440.8,1089.9 439.6,1090.2 C438.5,1090.4 435.8,1086.8 434.6,1083.4 C433.3,1080.0 432.0,1071.0 432.0,1069.9Z" stroke="#111" stroke-width="0.8" fill="#cfcfcf" />
<path d="M448.1,1102.0 C448.4,1101.3 454.8,1105.2 458.2,1105.4 C461.6,1105.5 467.2,1102.3 468.3,1102.8 C469.5,1103.4 466.9,1107.6 465.0,1108.7 C463.0,1109.9 459.3,1110.7 456.5,1109.6 C453.7,1108.4 447.8,1102.7 448.1,1102.0Z" stroke="#111" stroke-width="0.8" fill="#cfcfcf" />
<path d="M492.8,1037.8 C491.8,1038.4 488.3,1039.6 486.9,1041.2 C485.5,1042.7 484.8,1046.1 484.4,1047.1" stroke="#111" stroke-width="1.5" fill="none" />
<ellipse cx="467.0" cy="1078.7" rx="7.5" ry="1.8" fill="#cfcfcf" stroke="#111" stroke-width="0.9" transform="rotate(38 467.0 1078.7)"/>
<ellipse cx="485.6" cy="1083.4" rx="3" ry="2.4" fill="#fff" stroke="#111" stroke-width="1.2"/>
<ellipse cx="478.8" cy="1096.1" rx="1.4" ry="2.6" fill="#fff" stroke="#111" stroke-width="1" transform="rotate(20 478.8 1096.1)"/>
<circle cx="475.09" cy="1102.82" r="1.00" fill="#111" stroke="none" stroke-width="1" />
<circle cx="485.56" cy="1107.04" r="1.00" fill="#111" stroke="none" stroke-width="1" />
<path d="M401.1,1099.4 L404.2,1097.2 L411.8,1100.3 L417.7,1104.0 L414.3,1111.3 L410.1,1113.0 L403.3,1110.4 L401.6,1104.5Z" stroke="#e5332d" stroke-width="1.0" fill="#fbd3ce" />
<path d="M403.3,1110.4 L410.1,1113.0 L411.8,1117.2 L409.2,1132.0 L394.9,1124.8 L399.9,1112.1Z" stroke="#e5332d" stroke-width="1.0" fill="#fbd3ce" />
<path d="M406.2,1098.3 L405.0,1109.6" stroke="#e5332d" stroke-width="0.9" fill="none" />
<path d="M492.8,982.1 C492.2,980.8 490.8,975.5 488.9,973.6 C487.0,971.7 483.8,970.0 480.2,969.4 C476.6,968.9 469.8,969.3 465.0,969.9 C460.1,970.6 453.1,972.1 448.1,973.6 C443.0,975.2 436.3,977.8 431.2,980.1 C426.1,982.3 419.1,985.7 414.3,988.8 C409.5,991.9 403.4,996.6 399.1,1000.7 C394.8,1004.7 389.1,1011.0 385.6,1015.9 C382.0,1020.7 377.7,1027.4 375.5,1032.7 C373.2,1038.1 371.4,1046.0 370.7,1051.3 C370.1,1056.6 370.7,1065.1 371.2,1068.2 C371.7,1071.3 374.0,1070.4 374.1,1071.9 C374.2,1073.4 371.8,1075.3 372.1,1078.3 C372.4,1081.3 374.8,1087.8 376.3,1091.8 C377.8,1095.9 380.4,1101.6 382.2,1105.4 C384.0,1109.2 386.1,1114.0 388.1,1117.2 C390.2,1120.3 393.1,1124.1 395.7,1126.5 C398.4,1128.9 402.8,1131.9 405.9,1133.2 C408.9,1134.5 412.9,1135.2 416.0,1134.9 C419.0,1134.7 423.3,1133.2 426.1,1131.5 C428.9,1129.9 432.3,1126.2 434.6,1123.9 C436.8,1121.6 439.3,1118.0 441.3,1116.3 C443.3,1114.7 445.5,1113.6 448.1,1113.0 C450.6,1112.3 455.2,1111.9 458.2,1112.1 C461.2,1112.4 465.0,1113.8 468.3,1114.6 C471.6,1115.5 476.5,1117.3 480.2,1118.0 C483.8,1118.7 490.9,1119.2 492.8,1119.4Z" stroke="#111" stroke-width="1.1" fill="none" />
<rect x="390.50" y="1093.50" width="31.50" height="45.50" fill="none" stroke="#111" stroke-width="1.2" stroke-dasharray="4.2 3"/>
<defs><g id="htop">
<path d="M37.7,23.4 L54.6,15.2 L56.8,29.9 L65.4,45.1 L61.1,55.9 L52.4,47.2 L44.9,32.1Z M54.6,15.2 L68.0,10.8 L71.9,21.2 L71.5,39.7 L65.4,45.5 L60.0,37.5 L55.7,26.7Z M68.0,10.8 L74.5,10.4 L87.1,24.5 L102.3,41.2 L96.9,48.3 L91.4,60.2 L89.7,72.2 L80.6,71.5 L71.9,66.7 L61.1,55.9 L65.4,45.5 L71.5,39.7 L71.9,21.2Z M61.1,70.4 L73.0,70.4 L84.9,73.2 L88.4,81.9 L87.1,85.4 L73.0,86.7 L58.9,83.0 L51.4,83.0 L48.1,88.4 L43.8,86.7 L44.9,83.0 L49.8,81.5 L57.2,80.8Z M50.7,83.4 L73.0,86.7 L89.3,84.5 L91.4,94.9 L90.4,106.8 L80.6,110.1 L69.8,115.5 L58.9,117.9 L51.4,112.2 L48.1,99.2Z M11.3,57.0 L16.7,50.5 L25.4,66.7 L36.2,81.9 L44.9,89.5 L48.1,99.2 L49.2,112.7 L40.5,112.7 L34.0,101.4 L24.3,81.9 L14.5,62.4Z M40.5,112.7 L36.2,114.8 L27.5,131.7 L19.9,145.2 M49.8,113.5 L57.9,119.8 L58.9,129.6 L62.2,150.4 M90.4,108.3 L95.8,120.9 L102.3,134.3" stroke="#e5332d" stroke-width="1.7" fill="none" stroke-linejoin="round"/>
<path d="M10.2,0.0 C10.8,1.9 12.8,6.5 13.9,11.5 C14.9,16.5 15.5,23.9 16.5,29.9 C17.4,35.9 17.9,41.8 19.5,47.2 C21.1,52.7 23.8,57.7 26.0,62.4 C28.2,67.1 30.2,71.7 32.9,75.4 C35.7,79.1 41.1,83.0 42.7,84.5" stroke="#111" stroke-width="3.0" fill="none" stroke-linecap="round"/>
<path d="M32.9,20.2 C34.4,21.4 39.1,24.7 41.6,27.7 C44.1,30.8 46.4,35.5 48.1,38.6 C49.8,41.7 51.0,45.1 51.6,46.4" stroke="#111" stroke-width="2.0" fill="none" stroke-linecap="round"/>
<path d="M0.4,32.5 L3.0,36.4 L4.8,39.9 L2.2,38.1Z" stroke="#111" stroke-width="0.8" fill="#111" />
<path d="M85.4,54.8 C86.1,55.0 87.5,56.4 88.2,58.1 C88.9,59.8 89.8,63.6 89.7,65.0 C89.6,66.4 88.3,67.4 87.5,66.7 C86.7,66.1 85.6,62.9 84.9,61.3 C84.3,59.7 83.8,58.1 83.9,57.0 C83.9,55.9 84.7,54.6 85.4,54.8Z" stroke="#111" stroke-width="1.2" fill="#bbb" />
<text x="40.95" y="16.25" text-anchor="middle">1</text>
<text x="55.25" y="11.92" text-anchor="middle">2</text>
<text x="99.67" y="29.90" text-anchor="middle">3</text>
<text x="51.35" y="79.74" text-anchor="middle">4</text>
<text x="99.67" y="101.84" text-anchor="middle">5</text>
<text x="103.79" y="126.11" text-anchor="middle">6</text>
<text x="19.93" y="138.68" text-anchor="middle">7</text>
<text x="10.83" y="80.17" text-anchor="middle">8</text>
</g>
<g id="hbot">
<path d="M36.2,19.9 L43.8,15.2 L51.4,16.0 L55.7,21.0 L52.9,30.8 L50.7,43.8 L48.5,57.2 L38.4,57.6 L36.2,41.6 L34.0,27.5Z M55.7,21.0 L61.5,19.5 L76.3,22.1 L96.2,34.0 L91.4,47.0 L82.8,60.0 L71.9,70.4 L63.3,68.9 L51.4,61.1 L50.7,43.8 L52.9,30.8Z M38.4,58.9 L31.9,67.6 L28.6,80.6 L24.3,93.6 L18.9,105.5 L12.4,115.3 M51.4,61.1 L63.3,69.8 L73.0,76.3 L74.5,82.8 L71.1,91.4 L68.9,100.1 L67.6,117.4 L67.6,139.1" stroke="#e5332d" stroke-width="1.7" fill="none" stroke-linejoin="round"/>
<path d="M49.2,0.9 C49.8,0.3 56.2,-1.0 58.9,0.0 C61.6,1.0 72.8,8.9 76.3,11.3 C79.7,13.6 90.1,21.1 93.6,23.2 C97.1,25.3 109.2,30.8 110.9,32.5 C112.7,34.2 111.8,40.2 110.9,40.5 C110.1,40.9 104.9,37.7 102.3,36.2 C99.7,34.7 88.4,27.5 84.9,25.4 C81.5,23.2 70.9,16.5 67.6,14.5 C64.4,12.6 54.3,7.2 52.4,5.9 C50.6,4.5 48.5,1.5 49.2,0.9Z" stroke="#111" stroke-width="2.2" fill="#c4c4c4" />
<path d="M54.2,3.0 C55.7,4.0 66.5,10.8 69.8,13.0 C73.1,15.2 83.9,22.7 87.1,24.7 C90.4,26.7 99.9,32.1 102.3,33.4 C104.7,34.7 110.1,37.3 110.9,37.7" stroke="#111" stroke-width="2.0" fill="none" stroke-dasharray="2.4 1.2"/>
<text x="28.17" y="45.29" text-anchor="middle">8</text>
<text x="95.12" y="64.79" text-anchor="middle">9</text>
<text x="80.17" y="122.64" text-anchor="middle">10</text>
</g>
<filter id="hb" x="-30%" y="-30%" width="160%" height="160%"><feGaussianBlur stdDeviation="4"/></filter>
<clipPath id="hct"><path d="M0,0 L111.0,0 L111.0,130.0 L110.9,130.0 C109.8,130.7 105.5,133.3 102.3,135.0 C99.1,136.7 91.2,141.1 87.1,143.0 C83.1,144.9 76.3,147.8 71.9,149.1 C67.6,150.4 59.2,152.2 54.6,152.5 C50.0,152.9 41.6,152.6 37.3,151.7 C32.9,150.8 25.6,147.9 22.1,145.8 C18.6,143.7 14.2,139.1 11.3,136.1 C8.3,133.0 1.5,124.8 0.0,123.1 Z"/></clipPath>
<clipPath id="hcb"><path d="M0,0 L111.0,0 L111.0,147.3 L110.9,147.3 C110.1,147.3 106.0,147.1 104.9,147.3 C103.7,147.5 104.1,148.6 102.3,148.9 C100.5,149.2 94.0,149.8 91.4,149.5 C88.8,149.2 86.0,148.1 82.8,146.7 C79.6,145.3 73.0,140.2 67.6,139.1 C62.3,138.0 48.5,139.9 42.7,138.5 C36.9,137.0 28.3,131.2 24.3,128.3 C20.2,125.3 15.6,119.7 12.4,116.4 C9.1,113.0 1.6,105.1 0.0,103.4 Z"/></clipPath>
</defs>
<g transform="translate(505.5,785.5)">
<g clip-path="url(#hct)"><rect x="0.00" y="0.00" width="111.00" height="162.50" fill="#fce5da" stroke="none" stroke-width="1" />
<g filter="url(#hb)"><ellipse cx="5" cy="100" rx="18" ry="24" fill="#d6604d" opacity="0.9"/><ellipse cx="2" cy="99" rx="9" ry="14" fill="#67001f" opacity="1"/><ellipse cx="33" cy="30" rx="13" ry="9" fill="#c3dcec" opacity="1"/><ellipse cx="47" cy="100" rx="5" ry="13" fill="#cfe3ef" opacity="1" transform="rotate(10 47 100)"/><ellipse cx="20" cy="20" rx="8" ry="12" fill="#dde9f1" opacity="0.9"/><ellipse cx="76" cy="32" rx="15" ry="15" fill="#f4a582" opacity="0.75"/><ellipse cx="70" cy="97" rx="13" ry="11" fill="#f4a582" opacity="0.6"/><ellipse cx="83" cy="125" rx="13" ry="10" fill="#f4a582" opacity="0.6"/><ellipse cx="39" cy="127" rx="11" ry="9" fill="#f8c4ab" opacity="0.8"/><ellipse cx="28" cy="52" rx="10" ry="10" fill="#f8c4ab" opacity="0.9"/><ellipse cx="50" cy="62" rx="10" ry="8" fill="#f8c4ab" opacity="0.8"/><ellipse cx="100" cy="85" rx="8" ry="20" fill="#f6f4f3" opacity="0.9"/><ellipse cx="104" cy="10" rx="6" ry="10" fill="#fad6c4" opacity="1"/></g></g>
<use href="#htop"/>
<path d="M0.0,123.1 C1.5,124.8 8.3,133.0 11.3,136.1 C14.2,139.1 18.6,143.7 22.1,145.8 C25.6,147.9 32.9,150.8 37.3,151.7 C41.6,152.6 50.0,152.9 54.6,152.5 C59.2,152.2 67.6,150.4 71.9,149.1 C76.3,147.8 83.1,144.9 87.1,143.0 C91.2,141.1 99.1,136.7 102.3,135.0 C105.5,133.3 109.8,130.7 110.9,130.0" stroke="#111" stroke-width="1.4" fill="none" />
<rect x="0.00" y="0.00" width="111.00" height="162.00" fill="none" stroke="#111" stroke-width="1.2" stroke-dasharray="4.2 3"/>
</g>
<g transform="translate(628.5,785.5)">
<g clip-path="url(#hct)"><rect x="0.00" y="0.00" width="111.00" height="162.50" fill="#fbebe4" stroke="none" stroke-width="1" />
<g filter="url(#hb)"><ellipse cx="59" cy="39" rx="17" ry="27" fill="#d6604d" opacity="0.9" transform="rotate(-35 59 39)"/><ellipse cx="57" cy="36" rx="10" ry="22" fill="#67001f" opacity="1" transform="rotate(-35 57 36)"/><ellipse cx="57" cy="36" rx="7" ry="18" fill="#67001f" opacity="1" transform="rotate(-35 57 36)"/><ellipse cx="20" cy="70" rx="14" ry="14" fill="#f8c4ab" opacity="0.9"/><ellipse cx="60" cy="100" rx="9" ry="9" fill="#f4a582" opacity="0.7"/><ellipse cx="88" cy="62" rx="11" ry="12" fill="#f8c4ab" opacity="0.9"/><ellipse cx="30" cy="112" rx="12" ry="10" fill="#fad6c4" opacity="1"/><ellipse cx="92" cy="30" rx="10" ry="12" fill="#f8c4ab" opacity="0.8"/><ellipse cx="105" cy="6" rx="12" ry="10" fill="#dbe8f1" opacity="1"/><ellipse cx="108" cy="120" rx="8" ry="14" fill="#e3edf3" opacity="1"/><ellipse cx="25" cy="15" rx="10" ry="8" fill="#e8eff4" opacity="1"/><ellipse cx="60" cy="135" rx="30" ry="12" fill="#f6f4f3" opacity="0.9"/></g></g>
<use href="#htop"/>
<path d="M0.0,123.1 C1.5,124.8 8.3,133.0 11.3,136.1 C14.2,139.1 18.6,143.7 22.1,145.8 C25.6,147.9 32.9,150.8 37.3,151.7 C41.6,152.6 50.0,152.9 54.6,152.5 C59.2,152.2 67.6,150.4 71.9,149.1 C76.3,147.8 83.1,144.9 87.1,143.0 C91.2,141.1 99.1,136.7 102.3,135.0 C105.5,133.3 109.8,130.7 110.9,130.0" stroke="#111" stroke-width="1.4" fill="none" />
<rect x="0.00" y="0.00" width="111.00" height="162.00" fill="none" stroke="#111" stroke-width="1.2" stroke-dasharray="4.2 3"/>
</g>
<g transform="translate(751.5,785.5)">
<g clip-path="url(#hct)"><rect x="0.00" y="0.00" width="111.00" height="162.50" fill="#f9f1ed" stroke="none" stroke-width="1" />
<g filter="url(#hb)"><ellipse cx="22" cy="24" rx="9" ry="9" fill="#c3dcec" opacity="1"/><ellipse cx="30" cy="84" rx="5" ry="9" fill="#cfe3ef" opacity="1" transform="rotate(-30 30 84)"/><ellipse cx="78" cy="20" rx="12" ry="8" fill="#dce9f1" opacity="1"/><ellipse cx="38" cy="45" rx="12" ry="11" fill="#f8c4ab" opacity="0.9"/><ellipse cx="68" cy="100" rx="13" ry="10" fill="#f8c4ab" opacity="0.95"/><ellipse cx="100" cy="70" rx="10" ry="14" fill="#fad6c4" opacity="1"/><ellipse cx="8" cy="88" rx="7" ry="8" fill="#f8c4ab" opacity="0.8"/><ellipse cx="100" cy="8" rx="8" ry="7" fill="#fad6c4" opacity="1"/><ellipse cx="20" cy="120" rx="10" ry="8" fill="#fad6c4" opacity="0.9"/><ellipse cx="75" cy="60" rx="10" ry="8" fill="#fad6c4" opacity="0.8"/><ellipse cx="15" cy="140" rx="10" ry="6" fill="#dce9f1" opacity="1"/></g></g>
<use href="#htop"/>
<path d="M0.0,123.1 C1.5,124.8 8.3,133.0 11.3,136.1 C14.2,139.1 18.6,143.7 22.1,145.8 C25.6,147.9 32.9,150.8 37.3,151.7 C41.6,152.6 50.0,152.9 54.6,152.5 C59.2,152.2 67.6,150.4 71.9,149.1 C76.3,147.8 83.1,144.9 87.1,143.0 C91.2,141.1 99.1,136.7 102.3,135.0 C105.5,133.3 109.8,130.7 110.9,130.0" stroke="#111" stroke-width="1.4" fill="none" />
<rect x="0.00" y="0.00" width="111.00" height="162.00" fill="none" stroke="#111" stroke-width="1.2" stroke-dasharray="4.2 3"/>
</g>
<g transform="translate(505.5,967.5)">
<g clip-path="url(#hcb)"><rect x="0.00" y="0.00" width="111.00" height="162.50" fill="#fbe2d5" stroke="none" stroke-width="1" />
<g filter="url(#hb)"><ellipse cx="40" cy="60" rx="32" ry="42" fill="#f8c4ab" opacity="0.7"/><ellipse cx="66" cy="36" rx="25" ry="21" fill="#e58368" opacity="0.7"/><ellipse cx="64" cy="31" rx="17" ry="13" fill="#c23b3b" opacity="0.85"/><ellipse cx="63" cy="29" rx="12" ry="8.5" fill="#8b0a1f" opacity="1"/><ellipse cx="62" cy="29" rx="8" ry="6" fill="#7a0018" opacity="1"/><ellipse cx="43.5" cy="45" rx="6.5" ry="21" fill="#9c1c24" opacity="0.85"/><ellipse cx="42" cy="64" rx="8" ry="7" fill="#a82a2a" opacity="0.8"/><ellipse cx="103" cy="4" rx="12" ry="11" fill="#86bcdc" opacity="1"/><ellipse cx="109" cy="52" rx="6" ry="9" fill="#92c5de" opacity="1"/><ellipse cx="92" cy="92" rx="17" ry="40" fill="#f6f4f3" opacity="0.95"/><ellipse cx="15" cy="60" rx="12" ry="14" fill="#f4a582" opacity="0.5"/><ellipse cx="20" cy="100" rx="13" ry="10" fill="#f4a582" opacity="0.6"/><ellipse cx="52" cy="100" rx="14" ry="12" fill="#f4a582" opacity="0.55"/><ellipse cx="108" cy="110" rx="5" ry="8" fill="#f8c4ab" opacity="1"/><ellipse cx="45" cy="135" rx="40" ry="12" fill="#f6f4f3" opacity="0.9"/><ellipse cx="20" cy="15" rx="12" ry="8" fill="#fad6c4" opacity="1"/></g></g>
<use href="#hbot"/>
<path d="M0.0,103.4 C1.6,105.1 9.1,113.0 12.4,116.4 C15.6,119.7 20.2,125.3 24.3,128.3 C28.3,131.2 36.9,137.0 42.7,138.5 C48.5,139.9 62.3,138.0 67.6,139.1 C73.0,140.2 79.6,145.3 82.8,146.7 C86.0,148.1 88.8,149.2 91.4,149.5 C94.0,149.8 100.5,149.2 102.3,148.9 C104.1,148.6 103.7,147.5 104.9,147.3 C106.0,147.1 110.1,147.3 110.9,147.3" stroke="#111" stroke-width="1.4" fill="none" />
<rect x="0.00" y="0.00" width="111.00" height="163.00" fill="none" stroke="#111" stroke-width="1.2" stroke-dasharray="4.2 3"/>
</g>
<g transform="translate(628.5,967.5)">
<g clip-path="url(#hcb)"><rect x="0.00" y="0.00" width="111.00" height="162.50" fill="#fbe9e1" stroke="none" stroke-width="1" />
<g filter="url(#hb)"><ellipse cx="40" cy="55" rx="30" ry="40" fill="#fad6c4" opacity="0.9"/><ellipse cx="66" cy="36" rx="23" ry="20" fill="#ee9a80" opacity="0.75"/><ellipse cx="64" cy="30" rx="16" ry="12" fill="#d6604d" opacity="0.85"/><ellipse cx="63" cy="28" rx="10.5" ry="7.5" fill="#a01228" opacity="1"/><ellipse cx="62" cy="28" rx="7" ry="5" fill="#8e0a22" opacity="1"/><ellipse cx="44" cy="45" rx="6" ry="19" fill="#e07a62" opacity="0.8"/><ellipse cx="92" cy="95" rx="24" ry="45" fill="#f6f4f3" opacity="0.95"/><ellipse cx="15" cy="40" rx="12" ry="12" fill="#f8c4ab" opacity="0.9"/><ellipse cx="25" cy="90" rx="14" ry="12" fill="#f8c4ab" opacity="0.8"/><ellipse cx="55" cy="80" rx="12" ry="10" fill="#f8c4ab" opacity="0.8"/><ellipse cx="50" cy="135" rx="40" ry="14" fill="#f6f4f3" opacity="0.9"/><ellipse cx="100" cy="15" rx="10" ry="8" fill="#fad6c4" opacity="0.8"/></g></g>
<use href="#hbot"/>
<path d="M0.0,103.4 C1.6,105.1 9.1,113.0 12.4,116.4 C15.6,119.7 20.2,125.3 24.3,128.3 C28.3,131.2 36.9,137.0 42.7,138.5 C48.5,139.9 62.3,138.0 67.6,139.1 C73.0,140.2 79.6,145.3 82.8,146.7 C86.0,148.1 88.8,149.2 91.4,149.5 C94.0,149.8 100.5,149.2 102.3,148.9 C104.1,148.6 103.7,147.5 104.9,147.3 C106.0,147.1 110.1,147.3 110.9,147.3" stroke="#111" stroke-width="1.4" fill="none" />
<rect x="0.00" y="0.00" width="111.00" height="163.00" fill="none" stroke="#111" stroke-width="1.2" stroke-dasharray="4.2 3"/>
</g>
<g transform="translate(751.5,967.5)">
<g clip-path="url(#hcb)"><rect x="0.00" y="0.00" width="111.00" height="162.50" fill="#fbefe9" stroke="none" stroke-width="1" />
<g filter="url(#hb)"><ellipse cx="68" cy="33" rx="22" ry="15" fill="#e58368" opacity="0.95"/><ellipse cx="70" cy="30" rx="13" ry="7" fill="#b2182b" opacity="1" transform="rotate(-10 70 30)"/><ellipse cx="64" cy="28" rx="7" ry="5" fill="#b2182b" opacity="0.9"/><ellipse cx="44" cy="45" rx="5" ry="15" fill="#f0a58a" opacity="0.7"/><ellipse cx="96" cy="8" rx="20" ry="9" fill="#b5d5e8" opacity="1" transform="rotate(30 96 8)"/><ellipse cx="106" cy="45" rx="7" ry="9" fill="#d1e5f0" opacity="1"/><ellipse cx="92" cy="100" rx="22" ry="40" fill="#f6f4f3" opacity="0.95"/><ellipse cx="20" cy="60" rx="14" ry="16" fill="#fad6c4" opacity="0.9"/><ellipse cx="50" cy="90" rx="14" ry="10" fill="#fad6c4" opacity="0.9"/><ellipse cx="50" cy="135" rx="40" ry="14" fill="#f6f4f3" opacity="0.9"/></g></g>
<use href="#hbot"/>
<path d="M0.0,103.4 C1.6,105.1 9.1,113.0 12.4,116.4 C15.6,119.7 20.2,125.3 24.3,128.3 C28.3,131.2 36.9,137.0 42.7,138.5 C48.5,139.9 62.3,138.0 67.6,139.1 C73.0,140.2 79.6,145.3 82.8,146.7 C86.0,148.1 88.8,149.2 91.4,149.5 C94.0,149.8 100.5,149.2 102.3,148.9 C104.1,148.6 103.7,147.5 104.9,147.3 C106.0,147.1 110.1,147.3 110.9,147.3" stroke="#111" stroke-width="1.4" fill="none" />
<rect x="0.00" y="0.00" width="111.00" height="163.00" fill="none" stroke="#111" stroke-width="1.2" stroke-dasharray="4.2 3"/>
</g>
<text x="560.80" y="777.10" text-anchor="middle">Consume</text>
<text x="683.80" y="777.10" text-anchor="middle">Malaise</text>
<text x="806.80" y="777.10" text-anchor="middle">Retrieval</text>
<text x="881.90" y="809.60" style="font-size:13.3px">1. CEAc</text>
<text x="881.90" y="824.80" style="font-size:13.3px">2. CEAl</text>
<text x="881.90" y="839.30" style="font-size:13.3px">3. CEAm</text>
<text x="881.90" y="854.00" style="font-size:13.3px">4. IA</text>
<text x="881.90" y="868.70" style="font-size:13.3px">5. BMAa</text>
<text x="881.90" y="883.30" style="font-size:13.3px">6. COAa</text>
<text x="881.90" y="898.00" style="font-size:13.3px">7. PAA</text>
<text x="881.90" y="912.50" style="font-size:13.3px">8. EPv</text>
<text x="881.90" y="927.20" style="font-size:13.3px">9. BLAp</text>
<text x="881.90" y="942.40" style="font-size:13.3px">10. TR</text>
<rect x="906.20" y="1027.20" width="11.80" height="76.50" fill="url(#cbg)" stroke="none" stroke-width="1" />
<text x="914.75" y="1021.70" text-anchor="middle">Novel</text>
<text x="915.00" y="1121.30" text-anchor="middle">Familiar</text>
<text x="898.30" y="1065.40" text-anchor="middle" transform="rotate(-90 898.30 1065.40)" textLength="59.20" lengthAdjust="spacingAndGlyphs">ΔFOS (%)</text>
</g>
<g id="I"><text x="1003.00" y="766.60" style="font-size:17.8px" font-weight="bold" stroke="#000" stroke-width="0.5" textLength="4.80" lengthAdjust="spacingAndGlyphs">i</text>
<line x1="1085.00" y1="812.70" x2="1085.00" y2="1033.10" stroke="#444" stroke-width="1" />
<line x1="1078.20" y1="813.20" x2="1085.00" y2="813.20" stroke="#444" stroke-width="1" />
<text x="1070.60" y="818.00" text-anchor="end">1.00</text>
<line x1="1078.20" y1="868.05" x2="1085.00" y2="868.05" stroke="#444" stroke-width="1" />
<text x="1070.60" y="872.85" text-anchor="end">0.75</text>
<line x1="1078.20" y1="922.90" x2="1085.00" y2="922.90" stroke="#444" stroke-width="1" />
<text x="1070.60" y="927.70" text-anchor="end">0.50</text>
<line x1="1078.20" y1="977.75" x2="1085.00" y2="977.75" stroke="#444" stroke-width="1" />
<text x="1070.60" y="982.55" text-anchor="end">0.25</text>
<line x1="1078.20" y1="1032.60" x2="1085.00" y2="1032.60" stroke="#444" stroke-width="1" />
<text x="1070.60" y="1037.40" text-anchor="end">0</text>
<text x="1023.00" y="923.80" text-anchor="middle" transform="rotate(-90 1023.00 923.80)" textLength="141.80" lengthAdjust="spacingAndGlyphs">CEA FOS (% per mm<tspan dy="-5" style="font-size:9.5px">3</tspan><tspan dy="5">)</tspan></text>
<line x1="1096.30" y1="1043.70" x2="1197.20" y2="1043.70" stroke="#444" stroke-width="1" />
<line x1="1108.40" y1="1043.70" x2="1108.40" y2="1050.90" stroke="#444" stroke-width="1" />
<text x="1112.80" y="1058.30" text-anchor="end" transform="rotate(-90 1112.80 1058.30)">Consume</text>
<line x1="1146.20" y1="1043.70" x2="1146.20" y2="1050.90" stroke="#444" stroke-width="1" />
<text x="1150.80" y="1058.30" text-anchor="end" transform="rotate(-90 1150.80 1058.30)">Malaise</text>
<line x1="1183.40" y1="1043.70" x2="1183.40" y2="1050.90" stroke="#444" stroke-width="1" />
<text x="1188.20" y="1058.30" text-anchor="end" transform="rotate(-90 1188.20 1058.30)">Retrieval</text>
<circle cx="1096.00" cy="798.80" r="4.20" fill="#3a88c8" stroke="none" stroke-width="1" />
<text x="1107.60" y="803.40">Familiar</text>
<circle cx="1096.00" cy="817.50" r="4.20" fill="#e3342f" stroke="none" stroke-width="1" />
<text x="1107.60" y="822.10">Novel</text>
<circle cx="1103.64" cy="996.00" r="3.30" fill="#c9dff0" stroke="#fff" stroke-width="0.7" />
<circle cx="1103.61" cy="1002.00" r="3.30" fill="#c9dff0" stroke="#fff" stroke-width="0.7" />
<circle cx="1100.40" cy="1007.30" r="3.30" fill="#c9dff0" stroke="#fff" stroke-width="0.7" />
<circle cx="1100.51" cy="1010.50" r="3.30" fill="#c9dff0" stroke="#fff" stroke-width="0.7" />
<circle cx="1103.21" cy="1015.80" r="3.30" fill="#c9dff0" stroke="#fff" stroke-width="0.7" />
<circle cx="1102.85" cy="1021.10" r="3.30" fill="#c9dff0" stroke="#fff" stroke-width="0.7" />
<circle cx="1102.61" cy="1025.00" r="3.30" fill="#c9dff0" stroke="#fff" stroke-width="0.7" />
<circle cx="1115.11" cy="969.70" r="3.30" fill="#fcccc8" stroke="#fff" stroke-width="0.7" />
<circle cx="1116.18" cy="974.00" r="3.30" fill="#fcccc8" stroke="#fff" stroke-width="0.7" />
<circle cx="1116.18" cy="986.70" r="3.30" fill="#fcccc8" stroke="#fff" stroke-width="0.7" />
<circle cx="1116.09" cy="1002.00" r="3.30" fill="#fcccc8" stroke="#fff" stroke-width="0.7" />
<circle cx="1114.57" cy="1010.50" r="3.30" fill="#fcccc8" stroke="#fff" stroke-width="0.7" />
<circle cx="1115.55" cy="1014.80" r="3.30" fill="#fcccc8" stroke="#fff" stroke-width="0.7" />
<circle cx="1115.42" cy="1019.00" r="3.30" fill="#fcccc8" stroke="#fff" stroke-width="0.7" />
<circle cx="1140.20" cy="915.90" r="3.30" fill="#c9dff0" stroke="#fff" stroke-width="0.7" />
<circle cx="1141.18" cy="919.10" r="3.30" fill="#c9dff0" stroke="#fff" stroke-width="0.7" />
<circle cx="1141.02" cy="930.40" r="3.30" fill="#c9dff0" stroke="#fff" stroke-width="0.7" />
<circle cx="1139.56" cy="940.00" r="3.30" fill="#c9dff0" stroke="#fff" stroke-width="0.7" />
<circle cx="1139.20" cy="944.60" r="3.30" fill="#c9dff0" stroke="#fff" stroke-width="0.7" />
<circle cx="1138.57" cy="951.00" r="3.30" fill="#c9dff0" stroke="#fff" stroke-width="0.7" />
<circle cx="1137.73" cy="978.60" r="3.30" fill="#c9dff0" stroke="#fff" stroke-width="0.7" />
<circle cx="1137.70" cy="980.10" r="3.30" fill="#c9dff0" stroke="#fff" stroke-width="0.7" />
<circle cx="1139.27" cy="1005.80" r="3.30" fill="#c9dff0" stroke="#fff" stroke-width="0.7" />
<circle cx="1138.75" cy="1009.00" r="3.30" fill="#c9dff0" stroke="#fff" stroke-width="0.7" />
<circle cx="1152.57" cy="851.00" r="3.30" fill="#fcccc8" stroke="#fff" stroke-width="0.7" />
<circle cx="1154.41" cy="907.40" r="3.30" fill="#fcccc8" stroke="#fff" stroke-width="0.7" />
<circle cx="1153.09" cy="912.80" r="3.30" fill="#fcccc8" stroke="#fff" stroke-width="0.7" />
<circle cx="1153.22" cy="919.10" r="3.30" fill="#fcccc8" stroke="#fff" stroke-width="0.7" />
<circle cx="1152.05" cy="923.40" r="3.30" fill="#fcccc8" stroke="#fff" stroke-width="0.7" />
<circle cx="1151.29" cy="928.70" r="3.30" fill="#fcccc8" stroke="#fff" stroke-width="0.7" />
<circle cx="1152.37" cy="934.00" r="3.30" fill="#fcccc8" stroke="#fff" stroke-width="0.7" />
<circle cx="1151.69" cy="939.30" r="3.30" fill="#fcccc8" stroke="#fff" stroke-width="0.7" />
<circle cx="1153.04" cy="949.30" r="3.30" fill="#fcccc8" stroke="#fff" stroke-width="0.7" />
<circle cx="1154.80" cy="953.10" r="3.30" fill="#fcccc8" stroke="#fff" stroke-width="0.7" />
<circle cx="1153.63" cy="957.80" r="3.30" fill="#fcccc8" stroke="#fff" stroke-width="0.7" />
<circle cx="1151.85" cy="969.70" r="3.30" fill="#fcccc8" stroke="#fff" stroke-width="0.7" />
<circle cx="1178.02" cy="991.80" r="3.30" fill="#c9dff0" stroke="#fff" stroke-width="0.7" />
<circle cx="1177.67" cy="995.20" r="3.30" fill="#c9dff0" stroke="#fff" stroke-width="0.7" />
<circle cx="1177.44" cy="1008.80" r="3.30" fill="#c9dff0" stroke="#fff" stroke-width="0.7" />
<circle cx="1178.06" cy="1011.60" r="3.30" fill="#c9dff0" stroke="#fff" stroke-width="0.7" />
<circle cx="1177.55" cy="1015.80" r="3.30" fill="#c9dff0" stroke="#fff" stroke-width="0.7" />
<circle cx="1177.64" cy="1019.00" r="3.30" fill="#c9dff0" stroke="#fff" stroke-width="0.7" />
<circle cx="1176.07" cy="1025.40" r="3.30" fill="#c9dff0" stroke="#fff" stroke-width="0.7" />
<circle cx="1178.33" cy="1029.00" r="3.30" fill="#c9dff0" stroke="#fff" stroke-width="0.7" />
<circle cx="1192.06" cy="995.60" r="3.30" fill="#fcccc8" stroke="#fff" stroke-width="0.7" />
<circle cx="1189.18" cy="999.90" r="3.30" fill="#fcccc8" stroke="#fff" stroke-width="0.7" />
<circle cx="1191.31" cy="1003.70" r="3.30" fill="#fcccc8" stroke="#fff" stroke-width="0.7" />
<circle cx="1191.17" cy="1007.30" r="3.30" fill="#fcccc8" stroke="#fff" stroke-width="0.7" />
<circle cx="1190.26" cy="1011.60" r="3.30" fill="#fcccc8" stroke="#fff" stroke-width="0.7" />
<circle cx="1190.51" cy="1015.80" r="3.30" fill="#fcccc8" stroke="#fff" stroke-width="0.7" />
<circle cx="1190.36" cy="1019.00" r="3.30" fill="#fcccc8" stroke="#fff" stroke-width="0.7" />
<circle cx="1191.93" cy="1022.80" r="3.30" fill="#fcccc8" stroke="#fff" stroke-width="0.7" />
<line x1="1096.00" y1="1015.40" x2="1108.00" y2="1015.40" stroke="#3a88c8" stroke-width="1.8" />
<line x1="1102.00" y1="1011.90" x2="1102.00" y2="1018.90" stroke="#3a88c8" stroke-width="1.8" />
<line x1="1109.80" y1="1003.50" x2="1121.80" y2="1003.50" stroke="#e3342f" stroke-width="1.8" />
<line x1="1115.80" y1="997.50" x2="1115.80" y2="1009.50" stroke="#e3342f" stroke-width="1.8" />
<line x1="1133.40" y1="957.60" x2="1145.40" y2="957.60" stroke="#3a88c8" stroke-width="1.8" />
<line x1="1139.40" y1="948.10" x2="1139.40" y2="967.10" stroke="#3a88c8" stroke-width="1.8" />
<line x1="1147.00" y1="927.80" x2="1159.00" y2="927.80" stroke="#e3342f" stroke-width="1.8" />
<line x1="1153.00" y1="917.80" x2="1153.00" y2="937.80" stroke="#e3342f" stroke-width="1.8" />
<line x1="1170.60" y1="1016.90" x2="1182.60" y2="1016.90" stroke="#3a88c8" stroke-width="1.8" />
<line x1="1176.60" y1="1012.40" x2="1176.60" y2="1021.40" stroke="#3a88c8" stroke-width="1.8" />
<line x1="1184.40" y1="1010.90" x2="1196.40" y2="1010.90" stroke="#e3342f" stroke-width="1.8" />
<line x1="1190.40" y1="1007.90" x2="1190.40" y2="1013.90" stroke="#e3342f" stroke-width="1.8" />
<text x="1108.40" y="956.00" text-anchor="middle" style="font-size:15px" textLength="12.50" lengthAdjust="spacingAndGlyphs">**</text>
<text x="1146.20" y="894.00" text-anchor="middle" style="font-size:15px">*</text>
<text x="1183.40" y="978.00" text-anchor="middle" style="font-size:15px" textLength="12.50" lengthAdjust="spacingAndGlyphs">**</text>
</g>

</svg>
</body></html>
